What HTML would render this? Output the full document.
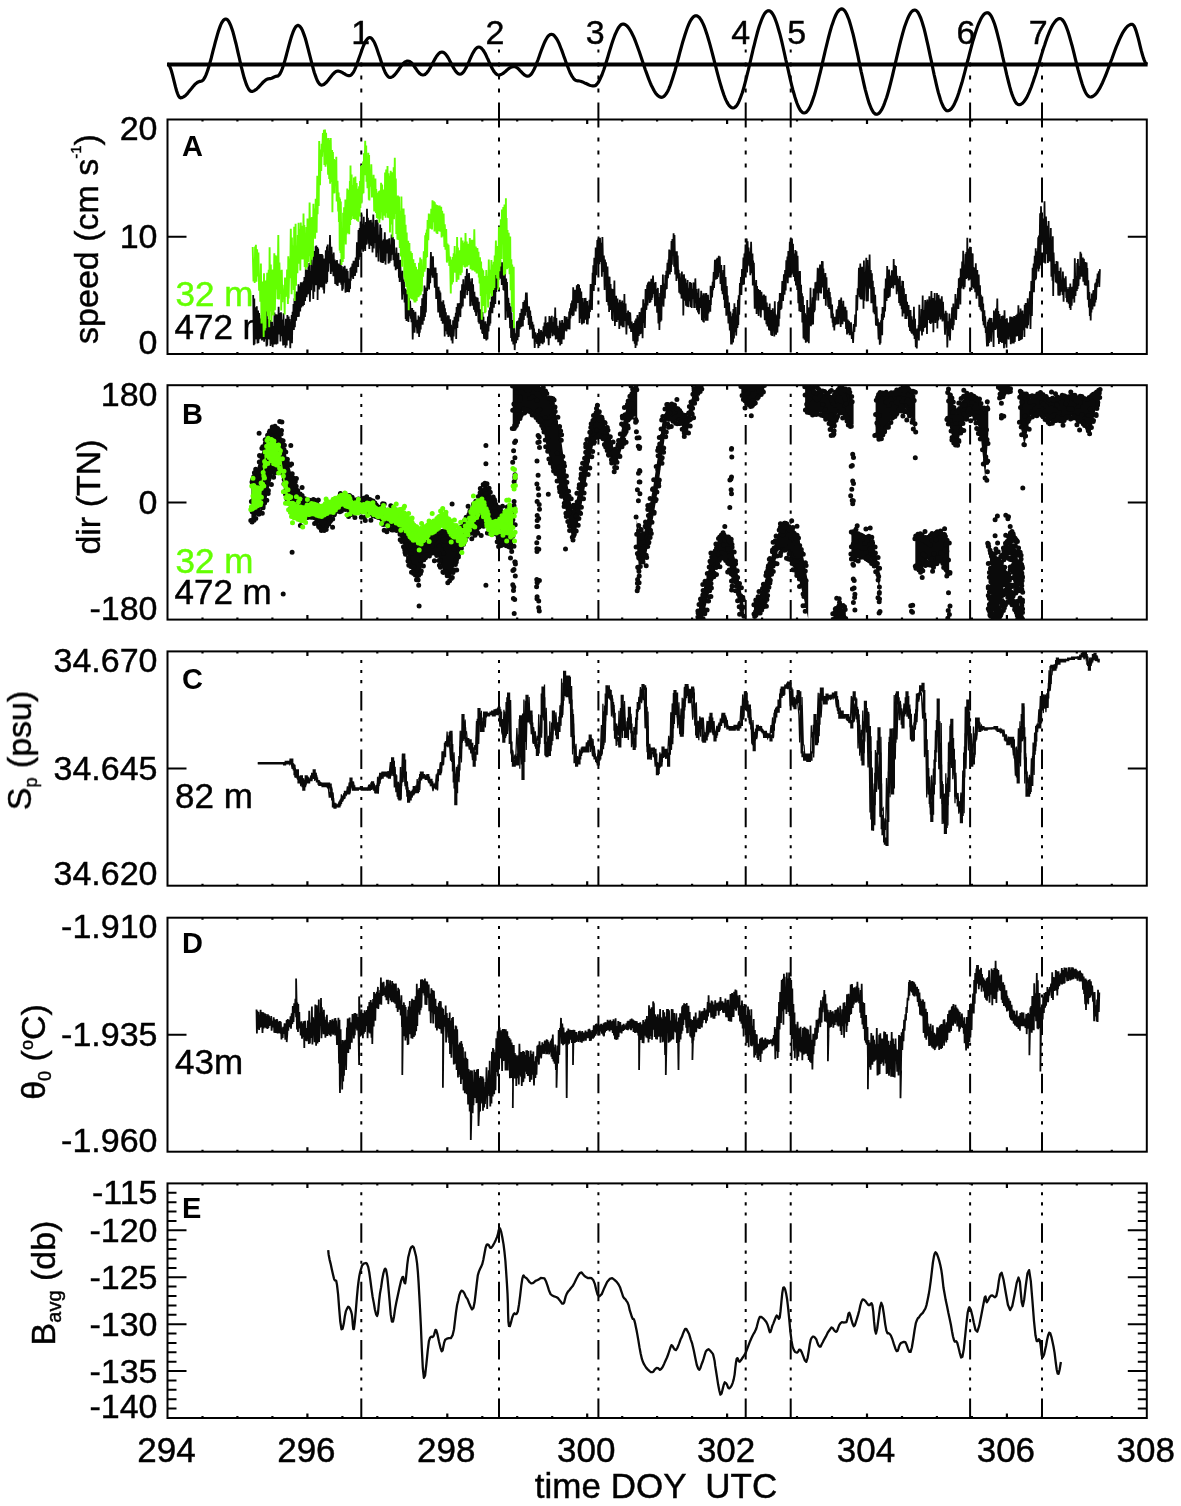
<!DOCTYPE html><html><head><meta charset="utf-8"><style>html,body{margin:0;padding:0;background:#fff;}svg{display:block;}</style></head><body>
<svg width="1181" height="1506" viewBox="0 0 1181 1506" font-family='"Liberation Sans", sans-serif' fill="#000">
<rect width="100%" height="100%" fill="#fff"/>
<g opacity="0.999">
<polyline points="167.5,64 168.5,64.5 169.5,65.9 170.5,68.3 171.5,71.3 172.5,74.9 173.5,78.9 174.5,82.9 175.5,86.9 176.5,90.5 177.5,93.5 178.5,95.9 179.5,97.3 180.5,97.8 181.5,97.7 182.5,97.4 183.5,96.9 184.6,96.2 185.6,95.4 186.6,94.4 187.6,93.3 188.6,92.1 189.6,90.8 190.7,89.5 191.7,88.3 192.7,87 193.7,85.8 194.7,84.7 195.7,83.7 196.7,82.9 197.8,82.2 198.8,81.7 199.8,81.4 200.8,81.3 201.8,81 202.9,80.2 203.9,78.9 205,77.1 206,74.9 207,72.2 208.1,69.1 209.1,65.7 210.1,62.1 211.2,58.2 212.2,54.2 213.2,50.2 214.3,46.1 215.3,42.1 216.4,38.2 217.4,34.6 218.4,31.2 219.5,28.1 220.5,25.4 221.5,23.2 222.6,21.4 223.6,20.1 224.7,19.3 225.7,19 226.7,19.3 227.8,20.1 228.8,21.5 229.8,23.5 230.9,25.9 231.9,28.8 233,32.1 234,35.8 235,39.8 236.1,44 237.1,48.4 238.1,52.9 239.2,57.5 240.2,62 241.2,66.4 242.3,70.6 243.3,74.6 244.3,78.3 245.4,81.6 246.4,84.5 247.5,86.9 248.5,88.9 249.5,90.3 250.6,91.1 251.6,91.4 252.6,91.3 253.7,91 254.7,90.4 255.8,89.7 256.8,88.9 257.9,87.9 258.9,86.8 260,85.6 261,84.5 262.1,83.3 263.1,82.2 264.2,81.2 265.2,80.4 266.3,79.7 267.3,79.1 268.4,78.8 269.4,78.7 270.5,78.6 271.6,78.2 272.7,77.7 273.7,77.2 274.8,76.7 275.9,76.3 277,76.2 278,75.9 279,75.1 280,73.7 281,71.8 282,69.4 283,66.6 284,63.5 285,60.1 286,56.5 287,52.7 288,48.9 289,45.1 290,41.5 291,38.1 292,35 293,32.2 294,29.8 295,27.9 296,26.5 297,25.7 298,25.4 299,25.7 300,26.5 301.1,27.9 302.1,29.7 303.1,32.1 304.1,34.9 305.2,38 306.2,41.5 307.2,45.3 308.2,49.2 309.2,53.2 310.3,57.3 311.3,61.3 312.3,65.2 313.3,69 314.3,72.5 315.4,75.6 316.4,78.4 317.4,80.8 318.4,82.6 319.5,84 320.5,84.8 321.5,85.1 322.5,85 323.6,84.6 324.6,83.9 325.6,83 326.7,82 327.7,80.8 328.7,79.5 329.8,78.1 330.8,76.7 331.8,75.4 332.8,74.2 333.9,73.2 334.9,72.3 335.9,71.6 337,71.2 338,71.1 339,71.2 340.1,71.5 341.1,71.9 342.1,72.4 343.2,73.1 344.2,73.7 345.3,74.4 346.3,74.9 347.3,75.3 348.4,75.6 349.4,75.7 350.4,75.5 351.4,74.8 352.4,73.6 353.5,72.1 354.5,70.1 355.5,67.8 356.5,65.3 357.5,62.5 358.5,59.6 359.5,56.7 360.6,53.7 361.6,50.8 362.6,48 363.6,45.5 364.6,43.2 365.6,41.2 366.7,39.7 367.7,38.5 368.7,37.8 369.7,37.6 370.7,37.8 371.7,38.6 372.7,39.8 373.8,41.4 374.8,43.4 375.8,45.8 376.8,48.5 377.8,51.4 378.8,54.4 379.9,57.5 380.9,60.7 381.9,63.7 382.9,66.6 383.9,69.3 384.9,71.7 385.9,73.7 387,75.3 388,76.5 389,77.3 390,77.5 391,77.4 392.1,76.9 393.1,76.3 394.2,75.3 395.2,74.2 396.3,72.9 397.3,71.5 398.4,70 399.4,68.5 400.5,67 401.5,65.6 402.6,64.3 403.6,63.2 404.7,62.2 405.7,61.6 406.8,61.1 407.8,61 408.8,61.2 409.8,61.6 410.8,62.3 411.9,63.3 412.9,64.5 413.9,65.8 414.9,67.3 415.9,68.7 416.9,70.2 417.9,71.5 418.9,72.7 420,73.7 421,74.4 422,74.8 423,75 424,74.8 425,74.4 426,73.6 427,72.6 428,71.3 429,69.8 430,68.1 431,66.3 432,64.4 433,62.6 434,60.7 435,58.9 436,57.2 437,55.7 438,54.4 439,53.4 440,52.6 441,52.2 442,52 443,52.2 444,52.7 445,53.5 446,54.6 447,56 448,57.5 449,59.3 450,61.2 451,63.1 452,65 453,66.9 454,68.7 455,70.2 456,71.6 457,72.7 458,73.5 459,74 460,74.2 461,74 462.1,73.4 463.1,72.4 464.2,71 465.2,69.3 466.3,67.4 467.3,65.3 468.4,63 469.4,60.6 470.4,58.2 471.5,55.9 472.5,53.8 473.6,51.9 474.6,50.2 475.7,48.8 476.7,47.8 477.8,47.2 478.8,47 479.8,47.2 480.9,47.8 481.9,48.7 483,50 484,51.5 485.1,53.3 486.1,55.4 487.1,57.6 488.2,59.8 489.2,62.2 490.3,64.4 491.3,66.6 492.3,68.7 493.4,70.5 494.4,72 495.5,73.3 496.5,74.2 497.6,74.8 498.6,75 499.6,74.9 500.6,74.6 501.6,74.2 502.7,73.6 503.7,72.9 504.7,72.1 505.7,71.2 506.7,70.3 507.7,69.4 508.7,68.6 509.7,67.9 510.8,67.3 511.8,66.9 512.8,66.6 513.8,66.5 514.8,66.6 515.8,67 516.8,67.6 517.8,68.3 518.8,69.2 519.8,70.3 520.8,71.3 521.8,72.4 522.8,73.5 523.8,74.4 524.8,75.1 525.8,75.7 526.8,76.1 527.8,76.2 528.8,76 529.9,75.4 530.9,74.5 531.9,73.2 532.9,71.5 534,69.5 535,67.3 536,64.9 537,62.3 538.1,59.5 539.1,56.7 540.1,53.8 541.1,51 542.2,48.2 543.2,45.6 544.2,43.2 545.2,41 546.3,39 547.3,37.3 548.3,36 549.3,35.1 550.4,34.5 551.4,34.3 552.4,34.5 553.5,35 554.5,35.9 555.5,37.2 556.6,38.7 557.6,40.6 558.7,42.7 559.7,45.1 560.7,47.7 561.8,50.4 562.8,53.2 563.8,56.1 564.9,59 565.9,61.9 566.9,64.7 568,67.4 569,70 570,72.4 571.1,74.5 572.1,76.4 573.2,77.9 574.2,79.2 575.2,80.1 576.3,80.6 577.3,80.8 578.3,80.8 579.4,81 580.4,81.2 581.4,81.5 582.5,81.9 583.5,82.4 584.5,82.9 585.5,83.3 586.6,83.8 587.6,84.3 588.6,84.8 589.7,85.2 590.7,85.5 591.7,85.7 592.8,85.9 593.8,85.9 594.8,85.7 595.8,85.2 596.8,84.3 597.8,83 598.8,81.5 599.8,79.6 600.8,77.4 601.9,75 602.9,72.3 603.9,69.5 604.9,66.4 605.9,63.3 606.9,60 607.9,56.7 608.9,53.3 609.9,50 610.9,46.7 611.9,43.6 612.9,40.5 613.9,37.7 614.9,35 616,32.6 617,30.4 618,28.5 619,27 620,25.7 621,24.8 622,24.3 623,24.1 624,24.2 625,24.6 626,25.2 627.1,26.1 628.1,27.2 629.1,28.5 630.1,30.1 631.1,31.8 632.1,33.8 633.2,35.9 634.2,38.2 635.2,40.7 636.2,43.3 637.2,46 638.2,48.8 639.3,51.7 640.3,54.7 641.3,57.7 642.3,60.7 643.3,63.7 644.3,66.7 645.3,69.7 646.4,72.6 647.4,75.4 648.4,78.1 649.4,80.7 650.4,83.2 651.4,85.5 652.5,87.6 653.5,89.6 654.5,91.3 655.5,92.9 656.5,94.2 657.5,95.3 658.6,96.2 659.6,96.8 660.6,97.2 661.6,97.3 662.6,97.1 663.6,96.6 664.6,95.7 665.6,94.5 666.7,93 667.7,91.2 668.7,89.1 669.7,86.7 670.7,84 671.7,81.1 672.7,78 673.7,74.7 674.8,71.2 675.8,67.7 676.8,64 677.8,60.3 678.8,56.5 679.8,52.7 680.8,49 681.8,45.3 682.8,41.8 683.9,38.3 684.9,35 685.9,31.9 686.9,29 687.9,26.3 688.9,23.9 689.9,21.8 690.9,20 692,18.5 693,17.3 694,16.4 695,15.9 696,15.7 697,15.9 698,16.4 699,17.2 700,18.3 701,19.8 702,21.6 703,23.6 704,25.9 705,28.5 706,31.4 707,34.4 708,37.7 709,41.1 710,44.6 711,48.3 712,52.1 713,56 714,59.9 715,63.8 716,67.7 717,71.6 718,75.4 719,79.1 720,82.6 721,86 722,89.3 723,92.3 724,95.2 725,97.8 726,100.1 727,102.1 728,103.9 729,105.4 730,106.5 731,107.3 732,107.8 733,108 734,107.8 735,107.2 736.1,106.2 737.1,104.9 738.1,103.2 739.1,101.1 740.1,98.7 741.1,96 742.2,93 743.2,89.7 744.2,86.2 745.2,82.4 746.2,78.5 747.2,74.4 748.3,70.2 749.3,65.9 750.3,61.5 751.3,57.2 752.3,52.8 753.3,48.5 754.4,44.3 755.4,40.2 756.4,36.3 757.4,32.5 758.4,29 759.4,25.7 760.5,22.7 761.5,20 762.5,17.6 763.5,15.5 764.5,13.8 765.5,12.5 766.6,11.5 767.6,10.9 768.6,10.7 769.6,10.9 770.6,11.5 771.6,12.5 772.7,14 773.7,15.8 774.7,17.9 775.7,20.5 776.7,23.3 777.7,26.5 778.7,30 779.8,33.7 780.8,37.6 781.8,41.7 782.8,46 783.8,50.5 784.8,55 785.8,59.6 786.9,64.1 787.9,68.7 788.9,73.2 789.9,77.7 790.9,82 791.9,86.1 792.9,90 794,93.7 795,97.2 796,100.4 797,103.2 798,105.8 799,107.9 800,109.7 801.1,111.2 802.1,112.2 803.1,112.8 804.1,113 805.1,112.8 806.1,112.3 807.1,111.3 808.2,110 809.2,108.4 810.2,106.4 811.2,104.1 812.2,101.4 813.2,98.5 814.3,95.3 815.3,91.9 816.3,88.2 817.3,84.4 818.3,80.4 819.3,76.2 820.4,71.9 821.4,67.6 822.4,63.2 823.4,58.7 824.4,54.3 825.4,50 826.5,45.7 827.5,41.5 828.5,37.5 829.5,33.7 830.5,30 831.5,26.6 832.6,23.4 833.6,20.5 834.6,17.8 835.6,15.5 836.6,13.5 837.6,11.9 838.7,10.6 839.7,9.6 840.7,9.1 841.7,8.9 842.7,9.1 843.7,9.8 844.8,10.9 845.8,12.5 846.8,14.4 847.8,16.8 848.9,19.5 849.9,22.7 850.9,26.1 851.9,29.8 853,33.9 854,38.1 855,42.6 856,47.2 857.1,51.9 858.1,56.7 859.1,61.6 860.1,66.5 861.1,71.3 862.2,76 863.2,80.6 864.2,85.1 865.2,89.3 866.3,93.4 867.3,97.1 868.3,100.5 869.3,103.7 870.4,106.4 871.4,108.8 872.4,110.7 873.4,112.3 874.5,113.4 875.5,114.1 876.5,114.3 877.5,114.1 878.5,113.6 879.5,112.7 880.5,111.5 881.5,109.9 882.5,108 883.5,105.8 884.5,103.3 885.5,100.5 886.6,97.5 887.6,94.2 888.6,90.7 889.6,87 890.6,83.1 891.6,79.1 892.6,75 893.6,70.7 894.6,66.5 895.6,62.2 896.6,57.8 897.6,53.6 898.6,49.3 899.6,45.2 900.6,41.2 901.6,37.3 902.6,33.6 903.6,30.1 904.6,26.8 905.7,23.8 906.7,21 907.7,18.5 908.7,16.3 909.7,14.4 910.7,12.8 911.7,11.6 912.7,10.7 913.7,10.2 914.7,10 915.7,10.2 916.8,11 917.8,12.2 918.8,13.8 919.8,16 920.9,18.5 921.9,21.4 922.9,24.8 924,28.4 925,32.4 926,36.6 927,41.1 928.1,45.8 929.1,50.6 930.1,55.5 931.2,60.4 932.2,65.3 933.2,70.2 934.2,75 935.3,79.7 936.3,84.2 937.3,88.4 938.3,92.4 939.4,96 940.4,99.4 941.4,102.3 942.5,104.8 943.5,107 944.5,108.6 945.5,109.8 946.6,110.6 947.6,110.8 948.6,110.6 949.6,110.2 950.7,109.4 951.7,108.3 952.7,106.9 953.7,105.2 954.7,103.2 955.7,101 956.8,98.5 957.8,95.7 958.8,92.8 959.8,89.6 960.8,86.3 961.9,82.8 962.9,79.1 963.9,75.4 964.9,71.6 965.9,67.7 966.9,63.7 968,59.8 969,55.8 970,51.9 971,48.1 972,44.4 973,40.7 974.1,37.2 975.1,33.9 976.1,30.7 977.1,27.8 978.1,25 979.2,22.5 980.2,20.3 981.2,18.3 982.2,16.6 983.2,15.2 984.2,14.1 985.3,13.3 986.3,12.9 987.3,12.7 988.3,12.9 989.3,13.6 990.4,14.8 991.4,16.4 992.4,18.5 993.4,20.9 994.5,23.8 995.5,27 996.5,30.5 997.5,34.4 998.5,38.4 999.6,42.7 1000.6,47.2 1001.6,51.7 1002.6,56.4 1003.7,61 1004.7,65.7 1005.7,70.2 1006.7,74.7 1007.8,79 1008.8,83 1009.8,86.9 1010.8,90.4 1011.8,93.6 1012.9,96.5 1013.9,98.9 1014.9,101 1015.9,102.6 1017,103.8 1018,104.5 1019,104.7 1020,104.6 1021,104.2 1022.1,103.5 1023.1,102.6 1024.1,101.4 1025.1,100 1026.2,98.4 1027.2,96.5 1028.2,94.4 1029.2,92.1 1030.2,89.6 1031.3,87 1032.3,84.1 1033.3,81.2 1034.3,78.1 1035.4,75 1036.4,71.7 1037.4,68.4 1038.4,65 1039.5,61.7 1040.5,58.3 1041.5,54.9 1042.5,51.6 1043.5,48.3 1044.6,45.2 1045.6,42.1 1046.6,39.2 1047.6,36.3 1048.7,33.7 1049.7,31.2 1050.7,28.9 1051.7,26.8 1052.7,24.9 1053.8,23.3 1054.8,21.9 1055.8,20.7 1056.8,19.8 1057.9,19.1 1058.9,18.7 1059.9,18.6 1060.9,18.8 1061.9,19.5 1062.9,20.5 1064,22 1065,23.9 1066,26.1 1067,28.7 1068,31.6 1069,34.8 1070,38.2 1071,41.9 1072.1,45.7 1073.1,49.6 1074.1,53.7 1075.1,57.8 1076.1,61.9 1077.1,66 1078.1,69.9 1079.2,73.7 1080.2,77.4 1081.2,80.8 1082.2,84 1083.2,86.9 1084.2,89.5 1085.2,91.7 1086.2,93.6 1087.3,95.1 1088.3,96.1 1089.3,96.8 1090.3,97 1091.3,96.9 1092.3,96.6 1093.4,96 1094.4,95.3 1095.4,94.4 1096.4,93.2 1097.4,91.9 1098.4,90.4 1099.5,88.7 1100.5,86.8 1101.5,84.8 1102.5,82.7 1103.5,80.4 1104.5,78 1105.6,75.5 1106.6,72.9 1107.6,70.3 1108.6,67.6 1109.6,64.8 1110.6,62 1111.7,59.3 1112.7,56.5 1113.7,53.7 1114.7,51 1115.7,48.4 1116.7,45.8 1117.8,43.3 1118.8,40.9 1119.8,38.6 1120.8,36.5 1121.8,34.5 1122.8,32.6 1123.9,30.9 1124.9,29.4 1125.9,28.1 1126.9,26.9 1127.9,26 1128.9,25.3 1130,24.7 1131,24.4 1132,24.3 1133,24.7 1134.1,26 1135.1,28.1 1136.1,30.9 1137.1,34.3 1138.2,38.1 1139.2,42.2 1140.2,46.3 1141.2,50.4 1142.3,54.2 1143.3,57.6 1144.3,60.4 1145.3,62.5 1146.4,63.8 1147.4,64.2" fill="none" stroke="#000" stroke-width="3.2" stroke-linejoin="round"/>
<line x1="167" y1="64.5" x2="1147.6" y2="64.5" stroke="#000" stroke-width="4"/>
<text x="351.3" y="44.3" font-size="34" stroke="#000" stroke-width="0.45">1</text>
<text x="485.5" y="44.3" font-size="34" stroke="#000" stroke-width="0.45">2</text>
<text x="585.8" y="44.3" font-size="34" stroke="#000" stroke-width="0.45">3</text>
<text x="731.3" y="44.3" font-size="34" stroke="#000" stroke-width="0.45">4</text>
<text x="787.2" y="44.3" font-size="34" stroke="#000" stroke-width="0.45">5</text>
<text x="956.6" y="44.3" font-size="34" stroke="#000" stroke-width="0.45">6</text>
<text x="1028.7" y="44.3" font-size="34" stroke="#000" stroke-width="0.45">7</text>
<g stroke="#000" stroke-width="2"><line x1="361.3" y1="352.5" x2="361.3" y2="49.5" stroke-dasharray="25 10 4 9 4 9 4 10"/><line x1="361.3" y1="619.6" x2="361.3" y2="385.2" stroke-dasharray="19.5 7.8 3.1 7 3.1 7 3.1 7.8"/><line x1="361.3" y1="885.7" x2="361.3" y2="651.4" stroke-dasharray="19.5 7.8 3.1 7 3.1 7 3.1 7.8"/><line x1="361.3" y1="1151.7" x2="361.3" y2="917.7" stroke-dasharray="19.5 7.8 3.1 7 3.1 7 3.1 7.8"/><line x1="361.3" y1="1418" x2="361.3" y2="1183.4" stroke-dasharray="19.5 7.8 3.1 7 3.1 7 3.1 7.8"/><line x1="499" y1="352.5" x2="499" y2="49.5" stroke-dasharray="25 10 4 9 4 9 4 10"/><line x1="499" y1="619.6" x2="499" y2="385.2" stroke-dasharray="19.5 7.8 3.1 7 3.1 7 3.1 7.8"/><line x1="499" y1="885.7" x2="499" y2="651.4" stroke-dasharray="19.5 7.8 3.1 7 3.1 7 3.1 7.8"/><line x1="499" y1="1151.7" x2="499" y2="917.7" stroke-dasharray="19.5 7.8 3.1 7 3.1 7 3.1 7.8"/><line x1="499" y1="1418" x2="499" y2="1183.4" stroke-dasharray="19.5 7.8 3.1 7 3.1 7 3.1 7.8"/><line x1="598.4" y1="352.5" x2="598.4" y2="49.5" stroke-dasharray="25 10 4 9 4 9 4 10"/><line x1="598.4" y1="619.6" x2="598.4" y2="385.2" stroke-dasharray="19.5 7.8 3.1 7 3.1 7 3.1 7.8"/><line x1="598.4" y1="885.7" x2="598.4" y2="651.4" stroke-dasharray="19.5 7.8 3.1 7 3.1 7 3.1 7.8"/><line x1="598.4" y1="1151.7" x2="598.4" y2="917.7" stroke-dasharray="19.5 7.8 3.1 7 3.1 7 3.1 7.8"/><line x1="598.4" y1="1418" x2="598.4" y2="1183.4" stroke-dasharray="19.5 7.8 3.1 7 3.1 7 3.1 7.8"/><line x1="745.7" y1="352.5" x2="745.7" y2="49.5" stroke-dasharray="25 10 4 9 4 9 4 10"/><line x1="745.7" y1="619.6" x2="745.7" y2="385.2" stroke-dasharray="19.5 7.8 3.1 7 3.1 7 3.1 7.8"/><line x1="745.7" y1="885.7" x2="745.7" y2="651.4" stroke-dasharray="19.5 7.8 3.1 7 3.1 7 3.1 7.8"/><line x1="745.7" y1="1151.7" x2="745.7" y2="917.7" stroke-dasharray="19.5 7.8 3.1 7 3.1 7 3.1 7.8"/><line x1="745.7" y1="1418" x2="745.7" y2="1183.4" stroke-dasharray="19.5 7.8 3.1 7 3.1 7 3.1 7.8"/><line x1="790.7" y1="352.5" x2="790.7" y2="49.5" stroke-dasharray="25 10 4 9 4 9 4 10"/><line x1="790.7" y1="619.6" x2="790.7" y2="385.2" stroke-dasharray="19.5 7.8 3.1 7 3.1 7 3.1 7.8"/><line x1="790.7" y1="885.7" x2="790.7" y2="651.4" stroke-dasharray="19.5 7.8 3.1 7 3.1 7 3.1 7.8"/><line x1="790.7" y1="1151.7" x2="790.7" y2="917.7" stroke-dasharray="19.5 7.8 3.1 7 3.1 7 3.1 7.8"/><line x1="790.7" y1="1418" x2="790.7" y2="1183.4" stroke-dasharray="19.5 7.8 3.1 7 3.1 7 3.1 7.8"/><line x1="970.1" y1="352.5" x2="970.1" y2="49.5" stroke-dasharray="25 10 4 9 4 9 4 10"/><line x1="970.1" y1="619.6" x2="970.1" y2="385.2" stroke-dasharray="19.5 7.8 3.1 7 3.1 7 3.1 7.8"/><line x1="970.1" y1="885.7" x2="970.1" y2="651.4" stroke-dasharray="19.5 7.8 3.1 7 3.1 7 3.1 7.8"/><line x1="970.1" y1="1151.7" x2="970.1" y2="917.7" stroke-dasharray="19.5 7.8 3.1 7 3.1 7 3.1 7.8"/><line x1="970.1" y1="1418" x2="970.1" y2="1183.4" stroke-dasharray="19.5 7.8 3.1 7 3.1 7 3.1 7.8"/><line x1="1042" y1="352.5" x2="1042" y2="49.5" stroke-dasharray="25 10 4 9 4 9 4 10"/><line x1="1042" y1="619.6" x2="1042" y2="385.2" stroke-dasharray="19.5 7.8 3.1 7 3.1 7 3.1 7.8"/><line x1="1042" y1="885.7" x2="1042" y2="651.4" stroke-dasharray="19.5 7.8 3.1 7 3.1 7 3.1 7.8"/><line x1="1042" y1="1151.7" x2="1042" y2="917.7" stroke-dasharray="19.5 7.8 3.1 7 3.1 7 3.1 7.8"/><line x1="1042" y1="1418" x2="1042" y2="1183.4" stroke-dasharray="19.5 7.8 3.1 7 3.1 7 3.1 7.8"/></g>
<rect x="167.5" y="119.5" width="979.3" height="234.5" fill="none" stroke="#000" stroke-width="2"/>
<path d="M202.5 119.5v2M202.5 354v-2M237.4 119.5v2M237.4 354v-2M272.4 119.5v2M272.4 354v-2M307.4 119.5v4.5M307.4 354v-4.5M342.4 119.5v2M342.4 354v-2M377.3 119.5v2M377.3 354v-2M412.3 119.5v2M412.3 354v-2M447.3 119.5v4.5M447.3 354v-4.5M482.3 119.5v2M482.3 354v-2M517.2 119.5v2M517.2 354v-2M552.2 119.5v2M552.2 354v-2M587.2 119.5v4.5M587.2 354v-4.5M622.2 119.5v2M622.2 354v-2M657.1 119.5v2M657.1 354v-2M692.1 119.5v2M692.1 354v-2M727.1 119.5v4.5M727.1 354v-4.5M762.1 119.5v2M762.1 354v-2M797 119.5v2M797 354v-2M832 119.5v2M832 354v-2M867 119.5v4.5M867 354v-4.5M902 119.5v2M902 354v-2M936.9 119.5v2M936.9 354v-2M971.9 119.5v2M971.9 354v-2M1006.9 119.5v4.5M1006.9 354v-4.5M1041.9 119.5v2M1041.9 354v-2M1076.8 119.5v2M1076.8 354v-2M1111.8 119.5v2M1111.8 354v-2" stroke="#000" stroke-width="2.2" fill="none"/>
<path d="M167.5 236.8h19M1146.8 236.8h-19" stroke="#000" stroke-width="2" fill="none"/>
<rect x="167.5" y="385.2" width="979.3" height="234.4" fill="none" stroke="#000" stroke-width="2"/>
<path d="M202.5 385.2v2M202.5 619.6v-2M237.4 385.2v2M237.4 619.6v-2M272.4 385.2v2M272.4 619.6v-2M307.4 385.2v4.5M307.4 619.6v-4.5M342.4 385.2v2M342.4 619.6v-2M377.3 385.2v2M377.3 619.6v-2M412.3 385.2v2M412.3 619.6v-2M447.3 385.2v4.5M447.3 619.6v-4.5M482.3 385.2v2M482.3 619.6v-2M517.2 385.2v2M517.2 619.6v-2M552.2 385.2v2M552.2 619.6v-2M587.2 385.2v4.5M587.2 619.6v-4.5M622.2 385.2v2M622.2 619.6v-2M657.1 385.2v2M657.1 619.6v-2M692.1 385.2v2M692.1 619.6v-2M727.1 385.2v4.5M727.1 619.6v-4.5M762.1 385.2v2M762.1 619.6v-2M797 385.2v2M797 619.6v-2M832 385.2v2M832 619.6v-2M867 385.2v4.5M867 619.6v-4.5M902 385.2v2M902 619.6v-2M936.9 385.2v2M936.9 619.6v-2M971.9 385.2v2M971.9 619.6v-2M1006.9 385.2v4.5M1006.9 619.6v-4.5M1041.9 385.2v2M1041.9 619.6v-2M1076.8 385.2v2M1076.8 619.6v-2M1111.8 385.2v2M1111.8 619.6v-2" stroke="#000" stroke-width="2.2" fill="none"/>
<path d="M167.5 502.4h19M1146.8 502.4h-19" stroke="#000" stroke-width="2" fill="none"/>
<rect x="167.5" y="651.4" width="979.3" height="234.3" fill="none" stroke="#000" stroke-width="2"/>
<path d="M202.5 651.4v2M202.5 885.7v-2M237.4 651.4v2M237.4 885.7v-2M272.4 651.4v2M272.4 885.7v-2M307.4 651.4v4.5M307.4 885.7v-4.5M342.4 651.4v2M342.4 885.7v-2M377.3 651.4v2M377.3 885.7v-2M412.3 651.4v2M412.3 885.7v-2M447.3 651.4v4.5M447.3 885.7v-4.5M482.3 651.4v2M482.3 885.7v-2M517.2 651.4v2M517.2 885.7v-2M552.2 651.4v2M552.2 885.7v-2M587.2 651.4v4.5M587.2 885.7v-4.5M622.2 651.4v2M622.2 885.7v-2M657.1 651.4v2M657.1 885.7v-2M692.1 651.4v2M692.1 885.7v-2M727.1 651.4v4.5M727.1 885.7v-4.5M762.1 651.4v2M762.1 885.7v-2M797 651.4v2M797 885.7v-2M832 651.4v2M832 885.7v-2M867 651.4v4.5M867 885.7v-4.5M902 651.4v2M902 885.7v-2M936.9 651.4v2M936.9 885.7v-2M971.9 651.4v2M971.9 885.7v-2M1006.9 651.4v4.5M1006.9 885.7v-4.5M1041.9 651.4v2M1041.9 885.7v-2M1076.8 651.4v2M1076.8 885.7v-2M1111.8 651.4v2M1111.8 885.7v-2" stroke="#000" stroke-width="2.2" fill="none"/>
<path d="M167.5 768.5h19M1146.8 768.5h-19" stroke="#000" stroke-width="2" fill="none"/>
<rect x="167.5" y="917.7" width="979.3" height="234" fill="none" stroke="#000" stroke-width="2"/>
<path d="M202.5 917.7v2M202.5 1151.7v-2M237.4 917.7v2M237.4 1151.7v-2M272.4 917.7v2M272.4 1151.7v-2M307.4 917.7v4.5M307.4 1151.7v-4.5M342.4 917.7v2M342.4 1151.7v-2M377.3 917.7v2M377.3 1151.7v-2M412.3 917.7v2M412.3 1151.7v-2M447.3 917.7v4.5M447.3 1151.7v-4.5M482.3 917.7v2M482.3 1151.7v-2M517.2 917.7v2M517.2 1151.7v-2M552.2 917.7v2M552.2 1151.7v-2M587.2 917.7v4.5M587.2 1151.7v-4.5M622.2 917.7v2M622.2 1151.7v-2M657.1 917.7v2M657.1 1151.7v-2M692.1 917.7v2M692.1 1151.7v-2M727.1 917.7v4.5M727.1 1151.7v-4.5M762.1 917.7v2M762.1 1151.7v-2M797 917.7v2M797 1151.7v-2M832 917.7v2M832 1151.7v-2M867 917.7v4.5M867 1151.7v-4.5M902 917.7v2M902 1151.7v-2M936.9 917.7v2M936.9 1151.7v-2M971.9 917.7v2M971.9 1151.7v-2M1006.9 917.7v4.5M1006.9 1151.7v-4.5M1041.9 917.7v2M1041.9 1151.7v-2M1076.8 917.7v2M1076.8 1151.7v-2M1111.8 917.7v2M1111.8 1151.7v-2" stroke="#000" stroke-width="2.2" fill="none"/>
<path d="M167.5 1034.7h19M1146.8 1034.7h-19" stroke="#000" stroke-width="2" fill="none"/>
<rect x="167.5" y="1183.4" width="979.3" height="234.6" fill="none" stroke="#000" stroke-width="2"/>
<path d="M202.5 1183.4v2M202.5 1418v-2M237.4 1183.4v2M237.4 1418v-2M272.4 1183.4v2M272.4 1418v-2M307.4 1183.4v4.5M307.4 1418v-4.5M342.4 1183.4v2M342.4 1418v-2M377.3 1183.4v2M377.3 1418v-2M412.3 1183.4v2M412.3 1418v-2M447.3 1183.4v4.5M447.3 1418v-4.5M482.3 1183.4v2M482.3 1418v-2M517.2 1183.4v2M517.2 1418v-2M552.2 1183.4v2M552.2 1418v-2M587.2 1183.4v4.5M587.2 1418v-4.5M622.2 1183.4v2M622.2 1418v-2M657.1 1183.4v2M657.1 1418v-2M692.1 1183.4v2M692.1 1418v-2M727.1 1183.4v4.5M727.1 1418v-4.5M762.1 1183.4v2M762.1 1418v-2M797 1183.4v2M797 1418v-2M832 1183.4v2M832 1418v-2M867 1183.4v4.5M867 1418v-4.5M902 1183.4v2M902 1418v-2M936.9 1183.4v2M936.9 1418v-2M971.9 1183.4v2M971.9 1418v-2M1006.9 1183.4v4.5M1006.9 1418v-4.5M1041.9 1183.4v2M1041.9 1418v-2M1076.8 1183.4v2M1076.8 1418v-2M1111.8 1183.4v2M1111.8 1418v-2" stroke="#000" stroke-width="2.2" fill="none"/>
<path d="M167.5 1192.8h9M1146.8 1192.8h-9M167.5 1202.2h9M1146.8 1202.2h-9M167.5 1211.6h9M1146.8 1211.6h-9M167.5 1220.9h9M1146.8 1220.9h-9M167.5 1230.3h19M1146.8 1230.3h-19M167.5 1239.7h9M1146.8 1239.7h-9M167.5 1249.1h9M1146.8 1249.1h-9M167.5 1258.5h9M1146.8 1258.5h-9M167.5 1267.9h9M1146.8 1267.9h-9M167.5 1277.2h19M1146.8 1277.2h-19M167.5 1286.6h9M1146.8 1286.6h-9M167.5 1296h9M1146.8 1296h-9M167.5 1305.4h9M1146.8 1305.4h-9M167.5 1314.8h9M1146.8 1314.8h-9M167.5 1324.2h19M1146.8 1324.2h-19M167.5 1333.5h9M1146.8 1333.5h-9M167.5 1342.9h9M1146.8 1342.9h-9M167.5 1352.3h9M1146.8 1352.3h-9M167.5 1361.7h9M1146.8 1361.7h-9M167.5 1371.1h19M1146.8 1371.1h-19M167.5 1380.5h9M1146.8 1380.5h-9M167.5 1389.8h9M1146.8 1389.8h-9M167.5 1399.2h9M1146.8 1399.2h-9M167.5 1408.6h9M1146.8 1408.6h-9" stroke="#000" stroke-width="2" fill="none"/>
<text x="157.5" y="139.5" font-size="34" text-anchor="end" stroke="#000" stroke-width="0.45">20</text>
<text x="157.5" y="247.5" font-size="34" text-anchor="end" stroke="#000" stroke-width="0.45">10</text>
<text x="157.5" y="354" font-size="34" text-anchor="end" stroke="#000" stroke-width="0.45">0</text>
<text x="157.5" y="405.7" font-size="34" text-anchor="end" stroke="#000" stroke-width="0.45">180</text>
<text x="157.5" y="514.3" font-size="34" text-anchor="end" stroke="#000" stroke-width="0.45">0</text>
<text x="157.5" y="620.2" font-size="34" text-anchor="end" stroke="#000" stroke-width="0.45">-180</text>
<text x="157.5" y="671.8" font-size="34" text-anchor="end" stroke="#000" stroke-width="0.45">34.670</text>
<text x="157.5" y="780.3" font-size="34" text-anchor="end" stroke="#000" stroke-width="0.45">34.645</text>
<text x="157.5" y="885.2" font-size="34" text-anchor="end" stroke="#000" stroke-width="0.45">34.620</text>
<text x="157.5" y="938.1" font-size="34" text-anchor="end" stroke="#000" stroke-width="0.45">-1.910</text>
<text x="157.5" y="1046" font-size="34" text-anchor="end" stroke="#000" stroke-width="0.45">-1.935</text>
<text x="157.5" y="1152" font-size="34" text-anchor="end" stroke="#000" stroke-width="0.45">-1.960</text>
<text x="157.5" y="1204.3" font-size="34" text-anchor="end" stroke="#000" stroke-width="0.45">-115</text>
<text x="157.5" y="1242.4" font-size="34" text-anchor="end" stroke="#000" stroke-width="0.45">-120</text>
<text x="157.5" y="1289.4" font-size="34" text-anchor="end" stroke="#000" stroke-width="0.45">-125</text>
<text x="157.5" y="1336.4" font-size="34" text-anchor="end" stroke="#000" stroke-width="0.45">-130</text>
<text x="157.5" y="1382.9" font-size="34" text-anchor="end" stroke="#000" stroke-width="0.45">-135</text>
<text x="157.5" y="1418.4" font-size="34" text-anchor="end" stroke="#000" stroke-width="0.45">-140</text>
<text x="166.5" y="1462" font-size="35" text-anchor="middle" stroke="#000" stroke-width="0.45">294</text>
<text x="306.4" y="1462" font-size="35" text-anchor="middle" stroke="#000" stroke-width="0.45">296</text>
<text x="446.3" y="1462" font-size="35" text-anchor="middle" stroke="#000" stroke-width="0.45">298</text>
<text x="586.2" y="1462" font-size="35" text-anchor="middle" stroke="#000" stroke-width="0.45">300</text>
<text x="726.1" y="1462" font-size="35" text-anchor="middle" stroke="#000" stroke-width="0.45">302</text>
<text x="866" y="1462" font-size="35" text-anchor="middle" stroke="#000" stroke-width="0.45">304</text>
<text x="1005.9" y="1462" font-size="35" text-anchor="middle" stroke="#000" stroke-width="0.45">306</text>
<text x="1145.8" y="1462" font-size="35" text-anchor="middle" stroke="#000" stroke-width="0.45">308</text>
<text x="656" y="1498" font-size="35" text-anchor="middle" xml:space="preserve" stroke="#000" stroke-width="0.45">time DOY  UTC</text>
<text x="182" y="155.6" font-size="29" font-weight="bold">A</text>
<text x="182" y="423.8" font-size="29" font-weight="bold">B</text>
<text x="182" y="688.6" font-size="29" font-weight="bold">C</text>
<text x="182" y="953.3" font-size="29" font-weight="bold">D</text>
<text x="182" y="1217.6" font-size="29" font-weight="bold">E</text>
<text transform="translate(98 239) rotate(-90)" font-size="34" text-anchor="middle" stroke="#000" stroke-width="0.45">speed (cm s<tspan font-size="15" dy="-17.5">-1</tspan><tspan dy="17.5">)</tspan></text>
<text transform="translate(99.5 497) rotate(-90)" font-size="34" text-anchor="middle" stroke="#000" stroke-width="0.45">dir (TN)</text>
<text transform="translate(31 750.5) rotate(-90)" font-size="34" text-anchor="middle" stroke="#000" stroke-width="0.45">S<tspan font-size="18" dy="6">p</tspan><tspan dy="-6"> (psu)</tspan></text>
<text transform="translate(45 1052) rotate(-90)" font-size="34" text-anchor="middle" stroke="#000" stroke-width="0.45">θ<tspan font-size="18" dy="6">0</tspan><tspan dy="-6"> (</tspan><tspan font-size="18" dy="-12">o</tspan><tspan dy="12">C)</tspan></text>
<text transform="translate(55 1283) rotate(-90)" font-size="34" text-anchor="middle" stroke="#000" stroke-width="0.45">B<tspan font-size="20" dy="6">avg</tspan><tspan dy="-6"> (db)</tspan></text>
<text x="175.5" y="306" font-size="35" fill="#64ff00" stroke="#64ff00" stroke-width="0.45">32 m</text>
<text x="174.5" y="338.5" font-size="35" stroke="#000" stroke-width="0.45">472 m</text>
<text x="175.5" y="572.5" font-size="35" fill="#64ff00" stroke="#64ff00" stroke-width="0.45">32 m</text>
<text x="174.5" y="603.5" font-size="35" stroke="#000" stroke-width="0.45">472 m</text>
<text x="175" y="808" font-size="35" stroke="#000" stroke-width="0.45">82 m</text>
<text x="175" y="1073.8" font-size="35" stroke="#000" stroke-width="0.45">43m</text>
<defs><clipPath id="cA"><rect x="167.5" y="119.5" width="979.3" height="234.5"/></clipPath><clipPath id="cB"><rect x="167.5" y="385.2" width="979.3" height="234.4"/></clipPath><clipPath id="cC"><rect x="167.5" y="651.4" width="979.3" height="234.3"/></clipPath><clipPath id="cD"><rect x="167.5" y="917.7" width="979.3" height="234"/></clipPath><clipPath id="cE"><rect x="167.5" y="1183.4" width="979.3" height="234.6"/></clipPath></defs>
<g clip-path="url(#cA)">
<polyline points="253.2,295 253.8,345.2 254.3,298.4 254.6,344.2 255.1,314.3 255.5,339.2 256.1,307.3 256.4,333.3 256.8,306.2 257.5,343.4 258.1,310.6 258.4,342.9 259.1,312.9 259.7,339.3 260.4,318.6 261,338.5 261.7,315 262,340.4 262.4,308.9 263,339.4 263.5,320.9 264.1,341.6 264.9,319.1 265.2,339.2 266,324.9 266.5,346.5 266.9,308.5 267.2,345.5 268,318.9 268.5,338.5 269.3,320.7 269.8,339.4 270.1,320.8 270.5,346 270.9,320.1 271.4,344.4 272.1,321.7 272.7,347.1 273.4,326 273.9,344.5 274.5,312.5 274.9,344.3 275.3,314.5 275.6,335.7 275.9,314.3 276.4,344.5 277.2,314.6 277.5,343.8 278,319.8 278.2,331.7 278.6,306.8 279.4,334.5 279.8,313 280.5,341.4 281,312.2 281.8,336.1 282.5,319.6 283.1,345.6 283.5,313.3 284.3,344.9 285.1,325.8 285.5,347.8 285.9,318.8 286.7,345.5 287.4,314.9 288.1,340.6 288.7,316.5 289.1,340.4 289.6,319.1 290.3,348.3 290.7,328.1 291,339.3 291.7,315 292,343.3 292.6,311.7 293.1,328.1 293.5,304 293.9,329.9 294.5,298.3 294.9,327.2 295.7,293.8 296.2,320.8 296.5,291.5 296.8,314.3 297.3,294.2 297.8,317 298.5,284.3 298.9,316.7 299.5,286.2 300.2,311.5 300.8,282.3 301.3,307.5 302.1,282.3 302.9,306.2 303.7,281.4 304,305.1 304.4,277 305.1,301.1 305.8,269.3 306.6,297.2 307.1,269.9 307.8,294.4 308.4,266.5 308.8,293.7 309.3,262.9 309.9,301.7 310.7,271.2 311.1,290.3 311.5,257.3 312.3,280 312.6,265.8 313.3,299.1 313.8,251 314.4,291.8 314.7,259.8 315.2,281.4 315.6,246.3 316,285.2 316.3,245.4 316.8,276.8 317.3,246.9 317.6,299.9 318.2,248.4 319,289.6 319.5,254 320,287.3 320.8,254.1 321.5,287.4 321.9,254.1 322.2,286.3 322.6,255.3 323.4,289.8 323.8,258.5 324.1,293.4 324.9,268.5 325.3,276.9 325.8,250.3 326.3,283.8 326.9,246.5 327.2,282.2 327.7,244.6 328.2,271.6 328.9,251.2 329.4,263.5 330,234.9 330.8,274 331.5,246.7 332.1,271.6 332.8,254.2 333.4,276.2 333.7,252.6 334.1,274.5 334.7,259.4 335.2,283.9 335.9,260.9 336.6,285.2 337,260.1 337.7,285.9 338.5,263.6 339,282.8 339.6,264.5 340,282.8 340.6,259.3 341.3,284.8 341.7,266.1 342.2,290.7 342.6,274.3 342.9,289.2 343.7,266.8 344.1,282.8 344.7,265.9 345.5,292.6 346,275.6 346.4,284.9 346.7,268.8 347.3,292 347.7,271.1 348,287.8 348.3,278.6 349.1,292.1 349.6,279.3 350.1,288.9 350.4,267.9 350.8,280.7 351.2,266.8 351.7,277.5 352.4,263.5 353.2,279 353.5,260.8 354.2,275 354.5,260.7 355.1,275.9 355.7,257.5 356.4,272.7 356.9,242.2 357.3,260.6 357.6,247.7 358.2,266.9 358.5,230 358.9,259.7 359.6,227.9 360.2,257.1 360.5,221.4 360.8,252.7 361.6,214.4 362,249.5 362.8,223.8 363.1,251.8 363.8,216.8 364.1,249.1 364.8,225.2 365.2,250.9 365.8,222 366.5,244.8 367,208.8 367.4,239.1 367.9,217.7 368.5,243.7 368.8,221.9 369.3,249.1 369.6,220.2 370.4,245.5 370.9,219.9 371.7,245.9 372,222.5 372.5,252.6 373.3,214.5 373.8,248.5 374.5,227.2 374.9,242.6 375.6,220 376.3,257.3 376.9,219.7 377.4,252.8 377.7,222.5 378.5,261.4 379,234.7 379.7,246.3 380.2,224.6 380.8,262.2 381.3,228.1 381.7,262.8 382.2,240.5 383,263 383.7,239.2 384,261.3 384.8,232.3 385.5,264.6 386.3,239.4 386.6,253.5 387.3,242.8 387.7,252.5 388.1,239.3 388.5,263.6 389.3,238.2 389.6,262.6 390.4,244.4 390.8,260.7 391.6,234.5 392.3,254.8 392.9,236.9 393.4,260.3 394,239.2 394.6,266.5 395.4,253.2 395.7,270.2 396.4,247.6 396.9,269 397.6,256.3 397.9,268.3 398.5,252.9 398.9,277.7 399.2,262.7 399.7,281.9 400.2,259.9 400.9,279.9 401.4,272.9 402.2,299.6 402.5,270.8 403.1,294.4 403.9,279.5 404.6,302.5 405.2,288.4 405.7,319 406.1,290.8 406.5,320.9 407.1,289.8 407.5,314.8 407.8,291.8 408.4,322 409,297.8 409.5,316.2 410.1,300.7 410.8,318.6 411.2,308.8 411.5,322.2 412.2,308.1 412.7,339.5 413.4,310.1 413.8,331.8 414.3,312.6 414.6,332.6 415.4,311.7 416.2,327.1 416.5,320.8 417.3,333.5 417.7,319.7 418.2,331.1 418.5,315.4 419.1,337.1 419.5,318.2 419.8,332.8 420.1,316.9 420.7,329.5 421.1,306 421.7,324.4 422.2,298.3 422.7,324.7 423.4,294 423.9,320.8 424.5,285.6 425,317.1 425.3,288.2 425.9,312.4 426.4,287.4 427.1,291 427.8,268 428.4,284.2 428.8,270.3 429.1,289.4 429.4,268.6 430.2,283.2 430.9,251.9 431.5,275.5 431.9,256.5 432.6,277.6 433,256.3 433.4,274.8 434,267.6 434.8,287.6 435.6,267.6 436.2,298.9 436.7,273 437,297.3 437.6,289.9 438.2,312.6 438.6,286.8 439.2,305.4 439.6,290.6 440,317.4 440.4,292.6 440.8,314.8 441.2,301.4 441.5,320.9 442.3,302 442.7,323.8 443.3,300.3 443.8,317.4 444.2,304.6 444.7,336.4 445,308.2 445.3,329.6 445.9,312.2 446.3,331.3 446.6,317.3 447.2,334.5 447.9,315.2 448.4,336.9 448.8,315.5 449.5,335.6 450.2,319.4 450.7,337.2 451.1,324.8 451.5,340.4 451.9,328 452.6,343.5 453.1,320.3 453.7,336.5 454.5,316.7 455.2,329.2 455.8,312.9 456.2,339.1 456.6,307.1 457.4,328 457.7,303.2 458.3,321.4 458.6,303.3 459.3,315.2 459.6,302.9 460.4,317.1 460.8,290.4 461.5,308.5 462.1,284.2 462.8,306.5 463.3,279.3 463.7,297.6 464.2,284.9 464.9,298.5 465.5,276.1 466.1,290 466.9,268.7 467.2,295.1 467.9,274.5 468.5,290.9 469,273.1 469.4,289.9 469.8,278.4 470.2,306.3 470.8,281.4 471.3,301.6 472.1,278.2 472.3,305.7 473.1,284.3 473.9,309.7 474.4,291.9 475.1,312.2 475.4,296.5 476.1,316 476.8,297.2 477.3,312.1 477.7,297.8 478.5,322.3 478.9,301.8 479.2,323.7 480.1,309.2 480.9,329.5 481.7,314.9 482.2,333.2 482.5,312.1 482.8,334 483.5,316.8 484,338.8 484.5,322.7 485,339 485.5,321.2 486.3,340.4 487,323.9 487.5,339.4 487.9,316.5 488.5,331.5 489.1,310.2 489.6,325.7 489.9,307.5 490.4,323.5 490.7,301.8 491.4,311.7 491.7,296.4 492.4,313.1 493.1,287.9 493.9,307.8 494.4,284.7 495.3,304 495.7,272.4 496.3,292 496.7,268.9 497.5,288.5 498.2,263.3 498.5,280 499.2,259.7 499.5,271.8 500.2,259.8 500.7,278.7 501.1,262.5 501.8,284.9 502.2,262.3 502.5,283.7 502.9,264.4 503.4,290 503.9,277.9 504.2,290.8 504.9,272.4 505.5,320 506.2,278.5 506.5,311.3 507,282.1 507.7,317.7 508.3,297.7 509.1,317.5 509.4,303.1 510.1,328.1 510.7,306.2 511.1,338 511.4,312.5 512,341.6 512.5,320.1 513.3,344.5 514.1,326.7 514.7,350.1 515.3,333.4 516.1,343.2 516.9,321.4 517.5,340.2 518,320.4 518.7,337.1 519.2,317.8 519.7,328.9 520.2,313 521,327.3 521.5,308.7 522.1,324.8 522.4,309.4 522.9,326.4 523.2,301.9 523.8,319.9 524.6,300.4 525.2,315.7 525.9,292.5 526.4,311.9 526.8,292.5 527.6,317.7 528.3,306.3 528.7,324.9 529.1,306.5 529.9,329.7 530.2,310.6 530.8,326.1 531.1,316.1 531.9,329.5 532.4,321.8 532.8,338.6 533.4,324.5 533.8,335.9 534.1,328.6 534.7,348 535.4,332.2 535.7,341.9 536.2,334.5 537.1,343.8 537.7,333 538.4,348.1 538.9,328.7 539.5,346 539.9,332 540.5,343.5 541,330 541.7,343.1 542,331.4 542.7,344.3 543.5,326.4 544,342.6 544.5,322.6 545.2,336.5 545.5,316.4 546.1,335.7 546.4,323.1 547.1,338.4 547.9,322.3 548.7,345.3 549.4,316 550.2,338.3 550.8,317.6 551.2,332.8 551.8,315.7 552.5,336.1 553.2,322.2 553.8,334.1 554.1,316.7 554.6,335.4 555.2,307.5 555.7,339.4 556.4,318.1 556.8,338.9 557.6,325.8 558.2,342.3 558.7,328.1 559.5,335.4 559.8,320.6 560.1,345.4 560.8,322.7 561.6,344.1 562.1,319.9 562.5,339.5 563.3,322.9 563.8,339.5 564.7,316.1 565.1,330.8 565.9,317.3 566.5,331.4 566.8,316.7 567.6,329.2 568.2,319.2 568.7,329.3 569.2,311.6 569.6,329.6 570,308.2 570.4,318.5 571.1,303.2 571.5,314.9 572.1,300.6 572.8,316.1 573.2,287.2 573.7,315.4 574.2,291.4 574.6,306.1 574.9,289.7 575.7,311.5 576,294 576.4,308.4 576.8,285.2 577.7,298.9 578,284.1 578.3,302.9 579.1,284.7 579.6,323.1 580.1,288.2 580.9,318.7 581.3,291.5 581.9,324.5 582.5,298.1 582.9,323.5 583.6,302.3 584,323.3 584.6,297.9 585.1,319.8 585.6,297.9 586.2,318.1 586.5,305.8 586.9,324.2 587.2,300.9 587.7,324.4 588.5,305.5 589.1,318.4 589.4,299.8 590,312 590.6,284 591,308.6 591.4,284.6 592,309.9 592.6,272.8 593,288 593.3,265.3 593.8,291 594.3,257.8 595.1,285.1 595.7,247.4 596.5,275.3 597.3,240 598.1,263.8 598.5,236.6 599.3,264.2 600,237.8 600.8,261.9 601.3,242.7 601.9,276.8 602.4,236.9 603.2,271.9 603.9,255.5 604.6,290 605,259.4 605.6,282.1 606,262.2 606.8,301.9 607.5,266.6 608.3,305.6 608.8,276.5 609.1,312 609.6,276.7 610,310 610.6,284 611,310 611.5,288.4 612,319.4 612.5,289.1 612.8,320.9 613.2,294 613.7,311.9 614.4,280.5 614.9,326.1 615.4,300.8 615.8,314.5 616.1,295.7 616.8,321.9 617.5,298.6 618.2,319.9 618.9,302.4 619.3,328.9 619.9,299.8 620.4,325.8 621.2,302.1 621.7,325.8 622.2,300.4 622.6,327.2 623.4,303.1 623.8,327.3 624.4,294.1 624.8,320.9 625.6,303.6 626.4,334.5 626.9,312.9 627.5,319.3 628.1,310.6 628.5,325.4 629.3,312 629.7,328.6 630.2,312.6 631.1,332 631.7,321.6 632.2,331.3 632.7,323.5 633.2,341.1 633.9,323 634.7,343.7 635.1,320.6 635.5,348 636.1,318.5 636.7,345.5 637.4,314.9 637.7,341.6 638.3,316.9 638.8,336 639.5,312.1 640.1,334.2 640.4,313.1 640.8,333.8 641.5,308.2 641.8,331.3 642.2,307.4 642.6,338.2 643.2,299.2 643.7,322.9 644.3,303.3 644.9,327.9 645.6,289.1 646.4,309.9 647.2,284.9 647.6,305.6 648,282.4 648.5,299.4 648.9,281.6 649.7,302.9 650,281.7 650.5,302.3 651.3,278.7 651.6,299.9 651.9,280.8 652.3,297.7 653,275.5 653.8,293.9 654.2,282.7 655,306.2 655.6,281.9 655.9,305.5 656.7,288.7 657.1,312.8 657.9,287.9 658.4,323.4 658.9,296.9 659.4,329.9 660.1,293 660.5,321.8 661,285 661.4,320.4 661.8,288 662.5,304.5 662.9,274.6 663.5,306.6 664.2,283.5 664.9,298.5 665.3,275.1 666,289.5 666.3,270.8 666.8,289.1 667.4,262.8 668,278.2 668.5,259.5 668.8,272 669.2,249.5 669.9,274.5 670.2,250.2 671,272 671.5,241 671.9,264.7 672.4,239.1 673.1,255.8 673.6,233.2 674.1,266.7 674.5,234.9 675.2,274.4 676,251.3 676.4,280.9 676.9,251.3 677.2,278.5 677.7,255.5 678.2,278.2 678.6,269.7 679.2,292.7 679.8,273.2 680.4,294.1 681.1,277.5 681.5,298.4 681.9,271.4 682.5,298.8 683,274.9 683.3,315.4 684,274.2 684.8,300.6 685.4,278.5 686,305.8 686.6,282.8 687.2,306.8 687.6,280 688.3,307.1 688.9,288.4 689.3,301.3 690,282 690.7,306.9 691.3,282.8 691.7,308 692.3,288.8 693.1,298.7 693.6,282.4 694.2,308 694.6,284.4 694.9,308 695.3,278.4 696.1,303.2 696.5,288.9 697,310.3 697.6,293.2 698,312.6 698.6,288.4 698.9,314.2 699.7,297.9 700.5,307.9 701.2,290.7 701.9,320.2 702.7,295.3 703.1,321.7 703.4,293.2 703.9,322.4 704.4,296.8 705,317.9 705.3,293.2 705.9,320.8 706.3,292.9 706.7,317.6 707.1,296.4 707.6,320.7 708,294.8 708.5,313.4 708.9,302.9 709.2,311.2 709.6,300.1 710.3,311.7 710.6,285.7 710.9,304.9 711.3,286.1 712.1,297.4 712.7,281.7 713,290.1 713.7,272 714.1,287.9 714.9,259.8 715.2,279.7 715.5,265.4 715.9,279.5 716.7,259 717,279.1 717.3,257.8 718,277.1 718.8,255.9 719.5,272.8 719.8,256.5 720.5,284 721.3,264.9 721.8,290.8 722.3,273 722.6,294.3 723.4,270.1 723.9,299.7 724.3,265 724.8,307.9 725.6,277.1 726.3,315.7 726.8,286.1 727.4,311.6 727.7,295.6 728.4,323.4 729.1,302.6 729.8,330.5 730.4,311.6 731.1,344.4 731.6,316.2 731.9,344.6 732.7,313.3 733.1,342.5 733.4,308.9 734,338.5 734.4,303.3 734.9,332.2 735.7,306.9 736.2,335.6 736.8,315.5 737.5,327.9 737.9,299.7 738.3,324.9 738.7,295.2 739.2,314.7 739.9,283.1 740.6,291 740.9,277 741.4,295.1 742,269 742.8,285.1 743.4,257.6 744.1,284.6 744.4,253.4 744.9,272.6 745.5,244.4 746.1,269 746.7,238.5 747.1,272.4 747.6,241.2 748.2,264.7 748.6,247.5 749.3,266.2 749.7,251.4 750.3,275.3 751.1,241.8 751.7,273.2 752.5,253.5 752.8,285.6 753.1,260.4 753.5,279.6 753.9,262.8 754.7,308.7 755.1,282.5 755.7,304.2 756.2,280.1 756.6,313.9 757.1,286 757.6,307.9 758.2,288.9 758.6,316 759,295.7 759.4,306.8 760,290 760.8,317.4 761.5,291.8 762,309.7 762.7,295.6 763.3,310.1 764,294.5 764.8,320.1 765.6,295.9 766.4,324.2 766.8,302.4 767.4,326.5 768.2,307 769,330.3 769.7,303.6 770.1,330.8 770.4,316.8 771.2,335.2 771.5,310.1 772.2,336.1 772.7,308.2 773.3,327.1 773.7,318.9 774.3,336.5 774.8,301.3 775.3,334.2 775.5,313.7 776.1,334.7 776.9,315.4 777.4,332.6 778.2,301.9 778.7,326.5 779,300.7 779.4,318.8 779.8,293.1 780.6,310.1 780.9,293.1 781.5,308.7 782.3,281.1 783.1,301 783.9,274.3 784.6,294.7 785.1,270.1 785.7,290.5 786.3,260.3 786.7,277.6 787.4,256.6 787.8,283.2 788.3,251.1 789.1,277.5 789.8,241.8 790.5,260.3 790.8,237.4 791.5,274.7 792,238.6 792.7,273.6 793,243.7 793.7,277 794.4,253.6 795,281.3 795.4,250.1 795.9,285.4 796.5,251.2 797.2,290 797.6,255.7 798.3,303.2 799,271.2 799.3,311.2 800,271 800.6,311.9 801.1,284.7 801.5,311 802,293.2 802.3,322.4 802.9,296.2 803.5,338.4 804.1,305.1 804.6,339.7 805.1,313.3 805.8,342.8 806.3,315 806.9,337.2 807.2,300.1 807.6,341.8 808.2,307.7 808.8,343.3 809.3,307.2 810.1,321.6 810.5,287.8 810.9,326.3 811.4,303.8 811.9,324.8 812.7,297.3 813.1,324.4 813.6,288.5 814.2,312.3 814.5,292.1 814.8,310.5 815.3,282.2 815.8,300.5 816.4,281.9 817,293.1 817.7,267.7 818.3,300.5 818.7,268.6 819.4,292.4 820,264.5 820.4,293.2 820.8,267.4 821.1,293.4 821.9,261 822.3,284.2 822.7,261.3 823,287.5 823.4,268.5 824,299 824.4,276.8 825.1,289.5 825.4,273 825.8,305.7 826.5,277.2 826.8,297.1 827.6,290 828.2,306.9 828.9,287.8 829.2,309.1 829.8,292.1 830.2,308.1 830.6,297.3 831.4,318.3 832.1,304.5 832.6,322.8 833,313.5 833.3,327.3 834,317.7 834.3,330.5 834.6,316.7 835.1,325.1 835.5,317.8 836.2,321.8 836.6,309.6 836.9,324.4 837.3,309.3 837.8,323.4 838.2,306.3 838.6,324.3 839.1,300.1 839.6,318.2 840.3,299.6 840.7,326.9 841.2,297.4 841.5,319 842.1,304.1 842.5,324.1 843.3,300.8 843.9,321.5 844.6,306.8 844.9,321.8 845.4,306.9 846.1,329 846.6,310.2 847,334.5 847.8,319.5 848.3,333.1 849,320.7 849.6,335.1 850,324.1 850.3,334.6 851,322.3 851.8,338.9 852.5,331.7 853.1,342.9 853.8,324.1 854.4,332 855.2,314.5 855.9,326.7 856.4,294.9 857.2,310.5 857.7,288.2 858.4,294.7 858.9,267.8 859.6,297.3 860.3,263.5 860.6,299.3 861.1,267.2 861.6,299.4 862.3,266.7 862.6,299.5 863.2,267 863.5,308.8 863.9,260.5 864.4,300.8 865,272.3 865.5,286.1 866.3,257.8 866.7,301.5 867.5,260.1 867.9,301.3 868.5,269.8 869,287.3 869.6,254.5 870.1,288.7 870.8,270.1 871.3,303.3 871.9,273.3 872.2,303.2 872.8,280.8 873.5,312.4 873.8,287.1 874.6,314.1 875.2,294.8 875.9,325.4 876.6,306.6 877.1,326 877.8,318.6 878.6,339.5 879.1,322.2 879.8,344.8 880.1,329.9 880.5,343.3 881,320.3 881.4,332.2 881.8,313.7 882.2,335.3 882.5,307.1 883,319.9 883.4,308.2 884.1,317.5 884.6,288.5 885.1,311.4 885.8,278.4 886.6,301 887.2,266.1 887.5,289 888,275.6 888.4,297.9 889.1,269.5 889.8,296.7 890.4,275.6 891.1,288 891.9,270.3 892.4,286.6 892.7,272.7 893.3,288.5 893.7,258.9 894.2,284.6 894.8,265.1 895.2,285.3 896,266.1 896.7,294.2 897.4,275.9 898.1,291.4 898.7,278.4 899.1,303.1 899.9,276.1 900.3,305.7 901.1,285.8 901.7,309.3 902.2,280.8 902.5,316.4 903.1,280.9 903.5,313.4 903.9,288.2 904.3,309.3 905.1,298.2 905.3,318.9 905.9,294 906.5,319 907.1,301.9 907.8,316.3 908.6,305 909,327.2 909.5,311.4 910,331.1 910.5,310.1 911.2,332.4 911.6,316.3 912,333.8 912.8,319.5 913.6,335.5 913.9,306.7 914.6,339 915,318.7 915.8,347.3 916.3,329.5 916.8,348.5 917.2,328.5 918,337.5 918.6,325.1 918.9,340.6 919.3,304.8 919.9,331.1 920.5,317.6 921.2,329.6 921.5,308.9 922,335.5 922.7,295.5 923.2,331.8 923.8,310 924.5,327.9 925.2,300 925.8,327.3 926.4,301.6 927,334.1 927.3,299.5 928,320 928.6,301.7 929,315.6 929.3,296.2 929.7,323.1 930.4,299.6 930.7,324.1 931.4,290.9 932.2,322.7 933,297.9 933.4,332.3 933.7,304 934.1,314.5 934.7,293 935.4,323 936,300.5 936.6,317.2 937,292.9 937.4,328.5 937.7,300.5 938.2,320.4 938.6,294.9 939.4,316.8 939.7,298.6 940.5,319.5 940.9,299.5 941.5,311.9 941.8,296.2 942.5,321.6 943,301.7 943.6,320.4 944.3,313.6 945,334.7 945.7,310.8 946.1,328.5 946.8,312.8 947.3,347.4 948.1,321.2 948.8,336.1 949.4,313.4 950,340.5 950.7,318.5 951.4,328.8 952.1,307.3 952.9,330.1 953.3,303.5 953.7,325.2 954.3,307.5 955,318.6 955.4,294.1 956.1,319.9 956.8,298.6 957.3,308.6 958,288 958.4,308.9 958.8,278.2 959.4,299.9 960,277.2 960.4,304.4 960.7,268.4 961.5,288.5 962.2,261.4 962.7,286.6 963.2,250.8 963.6,289.3 964,264.5 964.7,287.3 965.5,253.7 966.1,278.9 966.4,251.9 966.9,278.2 967.3,237.8 967.6,270.8 968.3,249 968.7,280.5 969.1,248.4 969.5,279.7 969.9,246.8 970.4,279.1 970.9,247.1 971.6,290 972,253.3 972.3,285.3 972.7,253.4 973,287.2 973.6,267 973.9,288.6 974.5,268.1 975.2,292.3 975.8,263.2 976.5,298.7 977.3,270 977.6,295.8 978,275.4 978.3,290.3 978.7,274.5 979.3,307 980,285.2 980.5,309.7 980.9,294.7 981.5,311.5 982.3,296.4 982.9,321.3 983.2,303.6 983.6,325.2 984.4,310.2 984.7,327.7 985.2,316.2 985.8,333 986.1,326.5 987,346.5 987.8,321.8 988.2,346.3 988.6,319.4 989,343.1 989.7,317.7 990,333.8 990.4,319.3 991.1,341.7 991.5,318.1 992,331.9 992.8,322.2 993.6,347 993.9,310.5 994.3,326.5 994.8,312 995.5,329.9 995.9,308.6 996.5,328.8 997.3,298.5 997.9,337.7 998.3,311 998.9,344 999.5,314.1 1000.2,341.9 1000.8,318.9 1001.2,332.5 1001.6,315.9 1002,342.9 1002.8,315.5 1003.2,341.4 1003.6,316.3 1004,348.3 1004.5,310.3 1005.3,344.3 1006,319 1006.5,347.8 1006.9,318.2 1007.6,338.6 1008.2,322.5 1008.6,339.4 1009,324.5 1009.7,336.7 1010.1,316.5 1010.8,344.2 1011.2,319.1 1011.6,338.8 1011.9,316.7 1012.7,343.5 1013.2,317.6 1013.8,343.4 1014.1,316.1 1014.8,342 1015.5,316.4 1015.8,332.9 1016.2,315 1016.6,336.4 1017.4,313.7 1017.7,336.1 1018.4,305.3 1019,341.1 1019.6,312.5 1020,340.2 1020.6,308.4 1021,339.7 1021.6,315.5 1022,339.2 1022.5,310.5 1023.2,330.1 1024,314.1 1024.4,337.1 1024.7,304.8 1025.1,323.2 1025.6,303.1 1026.2,327.7 1026.8,303 1027.2,328.5 1027.7,298.3 1028.1,325.1 1028.8,302.1 1029.3,313.2 1029.9,291.3 1030.5,328.9 1031.3,280.9 1031.9,316.1 1032.6,267.7 1033,292.1 1033.7,263.4 1034,292.2 1034.7,255.7 1035.4,280.2 1035.7,248.3 1036.1,278.7 1036.8,251.3 1037.6,268.7 1038.2,237.3 1038.5,271.6 1038.9,235.4 1039.3,268.7 1040.1,213.2 1040.5,265.6 1041,206.2 1041.7,244.8 1042,215.6 1042.8,241.7 1043.5,218.4 1044,262.8 1044.5,201.3 1045.3,263.6 1046,216.6 1046.8,254.2 1047.5,225.7 1047.9,263 1048.6,221 1049.1,261.5 1049.8,243.2 1050.2,261.6 1050.8,227.9 1051.4,276.7 1052.1,254.5 1052.5,280.7 1052.8,236.3 1053.2,295.9 1053.6,252.5 1054.3,273.8 1055,264.1 1055.7,282.4 1056.5,261 1057.1,283.5 1057.6,261.5 1058.3,295.6 1058.7,274.8 1059.1,295.7 1059.6,271 1059.9,295.4 1060.6,267.5 1061.3,291.8 1062.1,281.4 1062.6,294.9 1062.9,271.5 1063.6,301.8 1064.2,278.2 1065,291.7 1065.7,276.3 1066.3,298 1066.7,287.1 1067,302.3 1067.8,288.7 1068.6,303.6 1069.2,287 1069.8,308 1070.3,283.4 1070.6,309.9 1071.3,287.2 1071.7,305.7 1072.3,286.9 1072.9,298.7 1073.6,279 1074.3,302.6 1074.8,258.2 1075.5,296 1076.1,276.3 1076.8,291.1 1077.2,263 1077.6,288.9 1077.9,258.9 1078.5,285.9 1079,266.1 1079.8,279.3 1080.4,251.7 1080.7,275.7 1081.2,253.4 1081.7,276.8 1082,261.5 1082.3,274.3 1082.8,257.6 1083.3,281.8 1083.9,258.8 1084.7,285.3 1085.4,262.1 1086.1,285.8 1086.6,262.6 1087,284.8 1087.3,268.1 1087.8,299.8 1088.3,280.2 1088.9,307.6 1089.4,292 1089.8,316 1090.3,305.1 1090.7,320.4 1091.1,298.7 1091.4,312.6 1091.8,293.5 1092.5,309.5 1093.3,290.4 1093.6,301.8 1094,290 1094.5,306.4 1095.1,283.4 1095.4,302.5 1095.7,282.4 1096.1,299.8 1096.7,278.7 1097.1,287.2 1097.6,273.5 1098.4,282.8 1098.8,271.2 1099.3,287 1099.9,269.1" fill="none" stroke="#0a0a0a" stroke-width="1.8" stroke-linejoin="miter"/>
<polyline points="252.7,247 253.5,281.4 254,258.7 254.7,283 255.1,246.4 255.4,277.5 255.9,244.8 256.4,281.7 257.1,249.2 257.9,276.4 258.4,252.6 259.1,290.8 259.9,278.1 260.3,301.8 260.9,263.4 261.5,323.5 261.8,288.3 262.1,317.2 262.9,281.5 263.7,337 264,273.3 264.8,330.5 265.2,284 265.5,328.2 265.9,280.5 266.4,311.4 267.2,272.8 268,316.2 268.7,269.7 269.2,327.2 269.6,247.2 270.2,311.4 270.8,264.4 271.5,321.7 271.8,276.6 272.1,314.7 272.8,269.5 273.6,315.5 274.3,253.2 274.9,310.3 275.7,255.3 276.1,289.6 276.8,256.3 277.5,299.2 278.3,234.9 279,299.6 279.4,262.6 280.2,293.7 280.9,270.2 281.2,310.6 281.8,269.7 282.3,302.3 282.7,284.9 283.5,298.5 284.1,291.4 284.7,314.4 285,277.6 285.6,296.9 286.1,284.1 286.7,295.6 287.1,269.6 287.9,304 288.3,256.2 288.6,298.4 289.4,258.6 290.2,278.1 290.8,228.8 291.6,294.3 291.9,237.5 292.5,282.9 292.9,245.5 293.7,290 294.2,226.7 294.7,301.1 295.6,223.7 296,285.7 296.6,245.4 297.4,273.3 297.8,235 298.3,261.6 298.6,222.8 299.2,263.7 299.8,229.1 300.3,270.5 300.8,222.6 301.2,259.1 301.5,225.8 302,259.4 302.6,234.4 303.2,251.9 303.5,213.5 303.9,259.5 304.3,225 304.7,266.9 305.2,235.4 305.7,269.5 306.4,227.1 307,267.3 307.5,218.6 308.2,262.3 308.8,221.5 309.1,256.2 309.6,202.6 310.5,265.1 311.1,217.6 311.8,259.8 312.1,216.9 312.9,256.8 313.4,203.7 313.9,237.2 314.7,208.4 315.1,238.8 315.7,198.8 316.6,232.7 317.3,175.7 317.6,214.2 318,176.9 318.7,205.9 319.2,141.1 320,185.2 320.7,149.6 321.2,171 321.7,143.8 322.1,156.6 322.9,133.1 323.5,152 323.9,129.7 324.4,165.1 325,129.4 325.5,166.7 326.1,132.7 326.6,164.4 327.3,138.3 328.1,174.7 328.5,137.9 329.2,179 329.6,140 330.1,183.8 330.7,138 331.4,182.1 332.1,150.1 332.4,212.2 332.9,152.1 333.7,193.5 334,159 334.5,193.3 335.1,159.9 335.8,184.3 336.3,156.7 336.7,201.5 337.5,180.8 338.2,211.4 338.6,192.6 338.9,222 339.4,197.3 339.7,250.6 340,198.7 340.5,253 340.8,201.4 341.5,264.9 342.2,228.1 342.8,262 343.1,212.8 343.7,259 344.1,207.3 344.6,241.1 345.4,199.4 345.8,244.6 346.1,208.6 346.5,234.6 347.3,188.4 347.7,233.2 348.5,189.8 349.2,234.3 349.9,181.1 350.2,224.9 350.5,165.4 351,220 351.6,174.5 352,216.2 352.5,184.9 353.2,219.1 353.9,177.6 354.2,203.4 354.5,180.6 355,219.6 355.4,176.6 355.9,218.6 356.6,183 357,220.7 357.6,188.7 358.3,221.7 359.1,186.2 359.6,216.4 360,181.1 360.4,208.1 361,166 361.5,203.5 362,164.9 362.4,194.2 363.1,161.4 363.5,193.2 364,153.2 364.6,171.4 365.2,140.8 365.5,175.2 366.2,145.5 366.5,181.7 366.8,162.2 367.5,188.2 368.3,152.7 368.8,199.8 369.1,154.9 369.4,200.6 369.8,172.6 370.6,186.6 371.3,164.3 372,197.6 372.4,180.6 373,197.1 373.6,174.8 374.2,211.6 374.6,183.4 375,207.2 375.4,178.4 375.9,213.1 376.2,189 376.9,218.1 377.4,192.7 377.9,218.7 378.7,191.3 379.4,222.8 379.8,190.4 380.5,218.8 381.1,182.7 381.3,211.4 382.1,184.4 382.7,220.3 383.1,189.6 383.8,207.8 384.4,189.9 384.7,215.7 385.1,172.4 385.6,217.7 386.2,169.4 386.7,213.2 387.5,166 387.9,217.7 388.5,173.3 389.2,218.3 389.6,175.7 390,232.4 390.7,170.8 391.4,224.5 392.1,172.3 392.5,237.4 392.9,175.2 393.3,215 393.7,167.2 394,219.2 394.8,157.8 395.3,214.1 395.8,178.6 396.3,233.9 397,198.7 397.4,239.4 397.9,195.5 398.4,240 399,196.5 399.8,248 400.4,210.8 400.8,256.6 401.4,196.5 402.1,266.8 402.5,208.5 402.9,256.9 403.6,208.4 404.3,277.4 404.6,214.8 405.1,281.7 405.6,224.8 406.2,286.9 406.7,232.6 407.5,294.3 408.2,240.7 408.7,310.3 409.4,243 410.1,297.9 410.7,251.3 411.4,299.3 411.9,253 412.7,299.6 413.4,259.3 413.7,300.4 414,264.2 414.5,302.5 414.9,262.9 415.5,302.4 416,266.8 416.7,301 417.1,276.9 417.7,288.7 418,269.2 418.6,297.3 419,262.8 419.6,295.8 420.2,257.5 420.8,294.8 421.4,259.2 421.8,291.5 422.3,268.9 423.1,276.8 423.8,251.4 424.6,271.7 425.2,235.2 425.6,269.3 426,232.8 426.3,257.9 426.8,229.4 427.1,256.9 427.6,220.1 428.3,240.2 428.8,213.5 429.1,228.2 429.8,214.3 430.6,228.6 431.3,208.7 432,229.4 432.5,200.2 433.3,222.3 433.9,201.2 434.5,231.4 434.8,202.3 435.2,223.9 436,204.6 436.5,233.3 436.9,204.9 437.4,233.9 437.8,205.5 438.5,231.1 438.9,207.4 439.4,224.6 439.7,205.5 440.4,231.8 441.2,206.8 441.6,237.5 442.2,210.9 442.9,236.5 443.6,213.6 444.4,247.1 444.8,224.2 445.5,249.6 446.2,228.9 446.9,262.6 447.5,243.5 448.1,261.3 448.5,244.7 449.3,265.9 450,256.6 450.8,293.4 451.1,259.4 451.9,284.5 452.6,257.1 453,282.2 453.7,253.3 454.3,269.9 454.7,245.9 455.2,272.7 456,254.3 456.6,281.9 457.1,236.9 457.5,277 457.9,247.5 458.5,279.8 459.2,253.1 459.5,265.4 459.9,250.4 460.7,275.3 461.2,237.4 461.8,272.8 462.6,240.4 463.2,265.3 463.8,242.8 464.4,267 465,241.6 465.2,267.4 465.5,233.1 466.3,266.8 466.7,241.4 467.3,266.6 468.1,243.8 468.5,265.2 468.9,244.9 469.5,261.4 469.8,238.1 470.6,269.3 471.1,242 471.4,268.7 471.8,239.8 472.3,270.4 472.9,239.8 473.6,270.6 474.3,229.2 475.1,271.8 475.8,246.6 476.6,273.4 477.4,247.9 478,273.5 478.5,251.8 478.8,277.4 479.2,261 479.6,283.5 480,257.2 480.7,295.9 481.1,261.5 481.8,319.7 482.1,268.5 482.8,298.5 483.3,270.3 483.7,306.1 484.4,276.1 484.8,313.2 485.2,278.8 485.6,312.2 486.3,270.1 487.1,293.7 487.6,275.9 488.1,307.5 488.8,259.4 489.6,299.5 490.3,269.7 490.7,293.5 491.4,259.9 492,296.2 492.5,264.5 493.3,290.1 493.7,261.8 494.4,288 494.7,255.4 495.2,275.1 495.9,240.5 496.3,271.9 496.6,252.4 497.1,278.5 497.8,245.9 498.3,289.8 498.9,226.7 499.4,271.2 499.8,237.6 500.3,266.6 500.8,219.3 501.6,259.1 501.9,209.5 502.6,244.6 503.3,207.1 503.9,275.6 504.5,204.5 505.3,274.3 505.9,198.2 506.2,254.4 506.6,218 507,269.3 507.5,230 508.3,268.2 508.7,232.8 509.6,274.2 510.2,236.6 510.6,290.2 511.3,259.2 511.8,306.7 512.2,264.4 512.9,312.1 513.7,266.7 514,328.3" fill="none" stroke="#64ff00" stroke-width="1.9" stroke-linejoin="miter"/>
</g>
<g clip-path="url(#cB)">
<g fill="#0a0a0a"><polygon points="251.4,484.1 257.8,466.3 265.4,440.9 273,428.2 280.6,433.3 285.7,453.6 290.8,471.4 298.4,494.3 306,501.9 313.7,501.9 321.3,509.5 326.4,509.5 336.5,501.9 346.7,496.8 356.8,501.9 367,499.3 377.2,507 387.3,514.6 397.5,519.7 407.6,529.8 417.8,540 425.4,540 435.6,534.9 443.2,532.4 450.8,532.4 458.4,534.9 466.1,519.7 473.7,509.5 481.3,489.2 486.4,484.1 494,501.9 501.6,514.6 509.2,519.7 513.1,524.7 513.1,550.2 509.2,545.1 501.6,540.1 494,529.9 486.4,522.3 481.3,524.8 473.7,529.9 466.1,535 458.4,555.3 450.8,575.6 443.2,570.5 435.6,550.2 425.4,555.3 417.8,580.7 407.6,555.3 397.5,529.9 387.3,524.8 377.2,514.7 367,509.6 356.8,509.6 346.7,507 336.5,509.6 326.4,527.4 321.3,529.9 313.7,514.7 306,514.7 298.4,517.2 290.8,504.5 285.7,491.8 280.6,461.3 273,474 265.4,499.4 257.8,514.7 251.4,519.7"/><polygon points="512.7,387.6 517.8,387.6 522.9,387.6 527.9,387.6 533,387.6 538.1,390.1 543.2,390.1 547,395.2 550.8,400.3 555.9,413 561,438.4 564.8,466.3 568.6,491.7 572.4,509.5 576.2,501.9 578.7,489.2 582.6,466.3 586.4,446 590.2,428.2 594,415.5 597.8,415.5 601.6,420.6 605.4,425.7 609.2,433.3 613,446 615.6,453.6 619.4,440.9 624.5,415.5 629.5,397.7 633.4,390.1 637.2,390.1 637.2,423.2 633.4,410.5 629.5,418.1 624.5,438.5 619.4,456.2 615.6,466.4 613,463.9 609.2,453.7 605.4,446.1 601.6,435.9 597.8,433.4 594,441 590.2,458.8 586.4,479.1 582.6,499.4 578.7,519.7 576.2,529.9 572.4,540.1 568.6,519.7 564.8,507 561,491.8 555.9,474 550.8,461.3 547,448.6 543.2,428.3 538.1,418.1 533,413.1 527.9,408 522.9,410.5 517.8,420.7 512.7,428.3"/><polygon points="636.7,519.7 639.2,534.9 642.2,540 646.1,524.7 649.9,504.4 653.7,484.1 657.5,458.7 662.6,420.6 667.6,405.4 671.5,405.4 675.3,407.9 680.3,413 684.2,418.1 688,415.5 693,392.7 698.1,387.6 701.9,387.6 701.9,387.7 698.1,392.7 693,408 688,430.8 684.2,430.8 680.3,423.2 675.3,420.7 671.5,418.1 667.6,415.6 662.6,453.7 657.5,491.8 653.7,514.7 649.9,535 646.1,555.3 642.2,560.4 639.2,570.5 636.7,545.1"/><polygon points="741.3,387.6 746.4,387.6 751.5,390.1 756.5,387.6 764.2,387.6 764.2,390.2 756.5,397.8 751.5,405.4 746.4,400.4 741.3,392.7"/><polygon points="698.1,611.1 703.2,590.8 708.3,570.5 713.4,555.2 718.4,540 723.5,534.9 728.6,540 732.4,547.6 736.2,565.4 740,585.7 743.8,606 743.8,616.3 740,606.1 736.2,585.8 732.4,575.6 728.6,562.9 723.5,555.3 718.4,560.4 713.4,575.6 708.3,595.9 703.2,616.3 698.1,616.3"/><polygon points="754,606 759.1,595.9 764.2,583.2 769.2,565.4 774.3,545.1 779.4,529.8 784.5,524.7 789.6,529.8 794.6,534.9 799.7,540 799.7,555.3 794.6,550.2 789.6,542.6 784.5,537.5 779.4,545.1 774.3,565.5 769.2,585.8 764.2,606.1 759.1,611.2 754,616.3"/><polygon points="805.1,388.8 811.3,388.8 820.7,391.9 827,395 831.7,401.3 836.4,391.9 842.7,388.8 848.9,391.9 853.6,401.3 853.6,424.5 848.9,424.5 842.7,408.8 836.4,415.1 831.7,433.9 827,418.2 820.7,412 811.3,412 805.1,408.8"/><polygon points="875.6,401.3 880.3,395 889.6,395 899,391.9 905.3,388.8 911.6,391.9 915.3,395 915.3,432.3 911.6,415.1 905.3,408.8 899,408.8 889.6,421.4 880.3,437 875.6,433.9"/><polygon points="947.6,391.9 952.3,401.3 957,413.8 961.7,401.3 968,395 974.2,398.2 980.5,401.3 985.2,413.8 988.3,401.3 988.3,433.9 985.2,477.8 980.5,433.9 974.2,412 968,412 961.7,427.6 957,446.4 952.3,437 947.6,418.2"/><polygon points="999.3,388.8 1005.6,388.8 1010.3,388.8 1010.3,390 1005.6,390 999.3,396.3"/><polygon points="1019.7,393.5 1024.4,395 1030.6,398.2 1040,395 1049.4,401.3 1062,398.2 1074.5,398.2 1087,399.7 1090.2,398.2 1096.4,395 1099.5,391.9 1099.5,396.3 1096.4,405.7 1090.2,433.9 1087,424.5 1074.5,415.1 1062,418.2 1049.4,421.4 1040,412 1030.6,415.1 1024.4,444.9 1019.7,421.4"/><polygon points="780,526.6 786.3,526.6 792.5,532.9 798.8,545.4 803.5,557.9 808.2,583 808.2,618.7 803.5,596.8 798.8,578 792.5,565.5 786.3,546.7 780,552.9"/><polygon points="833.3,614.3 839.5,604.9 845.8,611.2 845.8,618.7 839.5,618.7 833.3,618.7"/><polygon points="851.4,532.9 858.3,536 864.6,539.1 870.9,539.1 875.6,551.7 879.6,570.5 879.6,593.7 875.6,565.5 870.9,559.2 864.6,556.1 858.3,552.9 851.4,552.9"/><polygon points="915.3,539.1 921,536 927.2,539.1 933.5,536 939.8,532.9 946,539.1 949.2,545.4 949.2,571.7 946,568.6 939.8,559.2 933.5,565.5 927.2,559.2 921,571.7 915.3,565.5"/></g>
<path d="M252 482h0M250.8 520.4h0M251.4 501.5h0M252.7 479.7h0M252.1 522.1h0M252.2 511.7h0M253.7 476.7h0M254.1 520.2h0M253.8 508.1h0M254.4 472.8h0M253.9 519h0M254.7 480.5h0M255.7 469.2h0M255.8 518.4h0M256.5 481.2h0M259.3 462.1h0M258.9 514.3h0M258.4 513.2h0M259.5 455.4h0M260.1 511.7h0M260.5 456.3h0M261.9 448.2h0M263.1 507.8h0M262.3 513.3h0M262.3 455.8h0M262.8 446.7h0M263.2 505.8h0M263.3 489.4h0M265.3 443.5h0M264.6 502.9h0M264.5 496.7h0M265.2 439.7h0M266.8 500.3h0M266 470.9h0M267.6 435.3h0M268.2 493.6h0M267.9 492.6h0M269.3 432.3h0M268.4 490.6h0M268.8 442.8h0M269.8 431h0M271.4 484.5h0M270.6 455.4h0M272.3 427h0M273.6 477.2h0M272.7 436.6h0M275 426.3h0M274.8 472.9h0M274.1 431.3h0M275.4 429.7h0M276.6 470.8h0M276.2 460.5h0M277.8 429h0M277.5 469.1h0M276.9 451.1h0M277.6 428.5h0M278.4 467.3h0M277.7 466.7h0M278.9 431.8h0M280.1 464.1h0M279.7 421.6h0M279.7 451.1h0M281.1 434h0M282.4 468.9h0M281.5 430.6h0M281.5 460.1h0M281.8 440.5h0M282.9 473.9h0M282.5 473.2h0M283.1 440.8h0M284.2 479.6h0M283.2 469.1h0M284.4 445.2h0M284 484h0M284 449.4h0M285.8 452.1h0M285.4 493.9h0M285.9 490.1h0M287.4 459.2h0M286.8 498.8h0M287.3 461.9h0M287.7 463.5h0M288.6 499.4h0M288.6 491.8h0M290.2 465.3h0M289.9 503.1h0M289.7 478.7h0M292.2 473.7h0M290.8 508.2h0M291.6 463.9h0M291.6 495.3h0M293.4 477.9h0M294.2 509.9h0M293.4 493.8h0M295.3 481.8h0M295 513.5h0M295.1 493.6h0M296.2 486.3h0M297.3 516.6h0M296.4 478.4h0M296.4 499.4h0M297.7 490.5h0M297 516.8h0M297.9 503.6h0M298.2 494.6h0M299.7 519.3h0M299.1 514h0M300.2 494h0M301 516.9h0M300.4 525.6h0M300.4 518.7h0M302.1 495.4h0M301.3 516.8h0M302.1 487.6h0M302.1 506.4h0M304.9 498.8h0M303.3 516.5h0M304.1 516.4h0M305 499.3h0M305.5 516h0M305.8 513.9h0M307.2 499.9h0M307.6 514.8h0M306.8 501.4h0M308.3 500.8h0M307.7 517.6h0M308 502.4h0M309.4 501.6h0M309.2 516.9h0M309.2 513.3h0M309.6 500.2h0M310.9 517.2h0M310.1 503.2h0M311 501.2h0M311.1 516.2h0M311.2 515.4h0M313.4 499.6h0M313.5 516.1h0M312.5 504.2h0M314.2 500h0M313.8 516.3h0M313.4 502.5h0M315 501.5h0M313.6 517.4h0M314.6 523.6h0M314.6 504.3h0M316.6 502.7h0M316 522.4h0M316.5 518.4h0M318.7 506.1h0M318.6 526.5h0M318.3 500h0M318.3 515.8h0M320.3 506.6h0M319.6 527.6h0M320.1 506.9h0M321.7 509h0M321.4 530.5h0M322.2 514.4h0M322.4 508.9h0M324 530.1h0M323 513.7h0M324.8 506.6h0M324.1 530.6h0M323.8 529.4h0M324.2 508.4h0M325.2 529.6h0M324.9 509.6h0M325.3 508h0M325.8 529h0M325.8 517.8h0M327.3 506.4h0M326.2 529.5h0M326.6 509.7h0M328.4 507.6h0M326.9 525.9h0M327.7 509.3h0M329 504.7h0M328.7 524h0M329.3 515.7h0M330.6 505.6h0M330 521.6h0M330.8 520.6h0M332.6 504.2h0M332.7 519.1h0M332.6 527.2h0M332.6 507.7h0M333.9 501.2h0M334.3 514.9h0M333.8 506.3h0M335.3 502.3h0M334.5 514.6h0M334.7 507.4h0M336.3 499.8h0M336.6 510.3h0M336.6 508.2h0M338.6 500.5h0M338 511.2h0M337.9 509.2h0M338.1 498.2h0M339.9 511.8h0M339 505.5h0M340.3 498.6h0M339.6 508.8h0M340.4 493.6h0M340.4 506.2h0M342.6 498.8h0M341.4 511.1h0M342.3 498.7h0M344.2 495.8h0M343.8 508.1h0M343.7 502.7h0M345.7 497.1h0M345.2 509.6h0M344.8 507h0M346.8 496.2h0M345.9 508.5h0M346 509.1h0M347.5 496h0M346.7 507.5h0M346.7 505.2h0M348.3 497.7h0M348.9 510.4h0M348.6 516.4h0M348.6 500h0M349.5 495.5h0M350.5 508.3h0M349.6 500.2h0M350.9 499h0M352.1 509h0M351.2 514.4h0M351.2 501.4h0M351.9 499.4h0M352.7 508.5h0M352.1 497.3h0M352.3 498.6h0M352.7 509.6h0M353.1 501.6h0M355.2 500h0M354.8 510.7h0M354.9 517.4h0M354.9 506.5h0M356.5 501h0M356.5 509.9h0M355.8 502.4h0M358.5 499h0M356.6 511.5h0M357.6 500.6h0M359.1 501h0M359.1 511.7h0M359.4 506.6h0M360.4 499.4h0M361.8 509.6h0M361.3 517.3h0M361.3 512.1h0M363.7 498.2h0M361.8 509.7h0M362.7 503h0M365.1 499.9h0M365 511.8h0M364.3 517.6h0M364.3 511.3h0M365 498.5h0M364.8 510.5h0M365.3 520.6h0M365.3 498.3h0M366.7 496.8h0M366.1 509.6h0M367 509h0M369.9 499.5h0M368.6 512h0M369 508.2h0M370.7 501h0M371.6 513.9h0M370.9 520.3h0M370.9 508h0M372.7 501.3h0M371.2 513.8h0M371.8 500.5h0M373.1 501h0M372.2 513h0M372.7 503.5h0M373.9 502.9h0M373.1 515.7h0M373.4 509.6h0M374.9 502.9h0M375.8 516.5h0M375.4 516.1h0M376.2 505h0M375.9 516.2h0M376.6 514.3h0M376.8 506.1h0M377.5 515.3h0M377.6 497.3h0M377.6 509.5h0M378.7 507.2h0M378.4 517.5h0M378.4 510.9h0M379.3 507.3h0M380.2 516.9h0M379.4 509.1h0M381.5 507.6h0M381.4 518.5h0M381 513.3h0M383.3 508.6h0M382.3 520.1h0M382.6 503.7h0M382.6 519h0M385 511.2h0M383.2 524.5h0M384.2 504.1h0M384.2 530.3h0M384.2 518.9h0M385.9 511.2h0M386.1 524.6h0M385.2 514.3h0M386 512h0M386.6 524.8h0M386.9 531.7h0M386.9 521h0M388 514.6h0M388.6 527h0M388.8 527.9h0M391.6 515.5h0M391.2 529.1h0M390.8 505.8h0M390.8 523.4h0M391.4 516.6h0M392 530.1h0M391.9 515.4h0M394.8 517.3h0M393 529.9h0M394 508.1h0M394 527.4h0M395 515.8h0M395 529.5h0M395.8 519.9h0M396.9 517.8h0M396.7 530.4h0M397.7 529.8h0M400.2 520.7h0M400 534.3h0M399.2 511.4h0M399.2 524.7h0M401.3 519.7h0M400.2 539.7h0M400.4 533.8h0M402.3 522h0M401.6 541.5h0M401.8 528.2h0M404.2 524.6h0M403.5 546.7h0M403.7 519.8h0M403.7 526.4h0M404.9 525.8h0M404.7 549.7h0M404.5 540h0M405.6 525.8h0M405 552.4h0M405.5 550.5h0M405.9 527.1h0M405.5 554.3h0M406.4 552.1h0M408.2 528.9h0M408.5 557.9h0M407.9 518.7h0M407.9 531.5h0M408.2 529.9h0M408 561.1h0M408.8 565.2h0M408.8 540.8h0M408.8 529.7h0M409.3 562.6h0M409.8 540.4h0M411.2 531.9h0M410.5 565.4h0M410.5 546.1h0M412.1 533.3h0M410.7 566.4h0M411.5 572.3h0M411.5 553.6h0M413.4 534.2h0M412.9 571.8h0M413.1 524.8h0M413.1 567.8h0M414.5 533.6h0M413.6 573.4h0M413.9 566.8h0M416 535.1h0M415.3 575.1h0M415.2 539h0M416.3 536.6h0M416.5 579.7h0M417 574.6h0M418.2 538.6h0M418.1 579.9h0M418.7 585.2h0M418.7 575.3h0M419.5 537.6h0M420.5 573.6h0M420.4 533.9h0M420.4 559.9h0M421.7 537.7h0M421.3 570.9h0M421.2 551.1h0M422.5 539.5h0M423.4 565.9h0M422.5 556.8h0M425.4 539.3h0M423.9 559.7h0M424.5 555.8h0M425.9 538.4h0M425.4 556.1h0M425.5 557.7h0M426.9 538h0M427.3 554.5h0M427.3 537.1h0M428.8 536.3h0M427.9 555.2h0M428.7 531.8h0M428.7 542.9h0M430.1 535.8h0M429.4 555.9h0M430.1 540.9h0M430.9 536.3h0M431.3 553h0M431.3 530.8h0M431.3 542h0M432.3 536.3h0M432.4 553h0M432.5 546h0M434.1 532.6h0M435.3 552.2h0M434.4 560.8h0M434.4 540.6h0M435.6 534.5h0M435.7 553.5h0M436 538.1h0M438.3 531.6h0M436.8 555.6h0M437.4 526.3h0M437.4 550.1h0M438.4 533.4h0M438.9 560.4h0M439.2 546.1h0M439.6 531.8h0M439.4 565.2h0M440.3 560.5h0M441.1 531.4h0M440.4 567.3h0M441.2 549.4h0M443.4 532.4h0M442.9 572.1h0M442.7 540h0M443.6 531.1h0M443.5 572.4h0M443.6 553.2h0M445.4 532.2h0M445.6 571.6h0M444.7 524.5h0M444.7 541.2h0M447.3 529.8h0M446.5 572.8h0M446.5 534.6h0M447.9 531.7h0M447.2 575.8h0M447.8 582.8h0M447.8 534.3h0M449.4 532.1h0M449 575.2h0M449.6 580.8h0M449.6 533.5h0M451.8 530.4h0M451.2 578.5h0M450.8 534.6h0M452.2 530.8h0M453 572.5h0M452.3 577.4h0M452.3 541.9h0M454.9 533.3h0M454.6 570h0M453.9 549.3h0M456.2 531.4h0M455.4 564.4h0M456 559.6h0M455.7 534.2h0M456.3 562.1h0M456.7 570.1h0M456.7 559.2h0M458.4 531.8h0M458.4 557.1h0M458.2 535.3h0M459.5 530.6h0M458.4 555.5h0M459.2 539.7h0M461.4 526.9h0M461.4 548.2h0M461.3 540.3h0M463.6 522.6h0M463.5 544.2h0M463.4 523h0M464.4 521h0M465.4 540h0M464.8 525.2h0M466.2 517.2h0M466.7 536.4h0M466.2 534.1h0M469 514.6h0M467.3 534.7h0M468.1 506.2h0M468.1 521.7h0M469.8 512.6h0M469.2 533.4h0M469.5 515h0M470 510.9h0M470.7 533.3h0M470.5 532.6h0M471.9 509.8h0M471.8 531.3h0M471.8 538.8h0M471.8 514.3h0M473.4 508.3h0M474.2 530.8h0M473.4 504.2h0M473.4 522.4h0M475 503.1h0M474.9 529.5h0M475 535.3h0M475 528.8h0M475.8 501.2h0M477.3 528.4h0M476.5 502.3h0M478.4 496.5h0M477.1 527.5h0M477.8 533h0M477.8 514.7h0M480.1 492.7h0M479.1 527.1h0M479.9 496.2h0M480.3 488.4h0M481.5 525.2h0M481.2 535.6h0M481.2 508.9h0M483.2 484.5h0M483.6 526.3h0M483.2 522.3h0M484.3 484.9h0M485 524.8h0M484.6 513.6h0M484.9 483.3h0M485.9 525.5h0M485.6 493.8h0M487 483.7h0M487.4 523.7h0M487.4 533h0M487.4 510h0M489.1 488.3h0M488.1 525.6h0M488.8 521.2h0M490.3 492.3h0M490.3 528h0M490.3 533.8h0M490.3 492.2h0M493.2 497h0M491.7 528.7h0M492.4 518.5h0M494.4 499.5h0M494.6 531.2h0M493.9 507.6h0M494.9 501.1h0M495.9 532.4h0M495.2 530.1h0M495.7 504.3h0M496.1 534.1h0M496 524.4h0M498 506.9h0M498.1 536.3h0M497.2 541.8h0M497.2 507h0M499.5 508.8h0M498.3 538.2h0M498.6 546.6h0M498.6 534h0M500.3 509.8h0M499.1 538.8h0M499.4 535.4h0M501 511.1h0M501.9 540.7h0M501.3 545.6h0M501.3 539.1h0M502.5 515.1h0M501.9 541.8h0M502.5 506.3h0M502.5 517.5h0M505.2 515.8h0M504.9 542h0M504.3 539h0M506.4 516.6h0M505.5 545h0M506.1 538.9h0M508.2 515.5h0M506.4 545.8h0M507.2 507.1h0M507.2 527.7h0M509.2 518.5h0M509 546.7h0M509.1 533.1h0M509.8 518.8h0M510.5 547.4h0M510.5 557.9h0M510.5 523h0M511.5 522.9h0M511.7 551.6h0M512.4 534.7h0M512.5 386.1h0M512.3 428.4h0M512.7 410.2h0M514.3 384.7h0M514.2 428.4h0M513.9 404.1h0M515.1 385.4h0M515.4 426.6h0M515 404.4h0M517 386.5h0M516.4 425.3h0M516.5 381.2h0M516.5 392.4h0M517.8 387.3h0M517.6 422.2h0M518.1 410.6h0M519.2 387h0M520 418.6h0M519.7 400.2h0M520.2 387.4h0M520.2 416.4h0M520.5 377.4h0M520.5 397.3h0M521.7 385.3h0M521.1 415.5h0M521.7 414h0M524.5 387.4h0M524.4 413h0M523.7 409.1h0M525.6 385.9h0M525.2 411.9h0M525.3 388.3h0M527.4 387.2h0M526.8 409.6h0M527.2 390.5h0M528.9 385.6h0M528 410.4h0M528.8 390.4h0M529.4 387h0M529.3 410.9h0M529.8 381.6h0M529.8 398.6h0M530.6 387.4h0M530.4 412h0M530.7 386.3h0M532.7 385.6h0M532.2 415.1h0M532.6 396.5h0M534.2 385.7h0M533.2 415h0M534.1 386.2h0M534.2 387.5h0M535.1 414.9h0M534.9 386.4h0M536.9 389.1h0M536 417.4h0M536.9 400.2h0M537.9 387.6h0M538.1 420.2h0M537.7 410.8h0M539.3 389.2h0M539.5 421.7h0M539.7 409.4h0M541.6 390h0M541.7 425.5h0M540.8 419.9h0M542.5 388.3h0M543.2 428.2h0M542.6 389h0M543.3 387.6h0M544 431.9h0M543.4 393.7h0M545.5 390.9h0M545.3 439.9h0M545.1 417.6h0M546.3 393.6h0M545.7 446.7h0M546.5 422.5h0M546.8 393.4h0M547.7 451.2h0M547.6 438.3h0M549.4 398.1h0M548.9 458.9h0M549.5 424.5h0M551.3 398.2h0M550.4 463h0M550.6 421.3h0M552.2 400.9h0M553.2 467h0M552.2 415h0M552.4 403.3h0M553.7 468.3h0M553 398.7h0M553 414.8h0M555 407h0M553.6 470.9h0M554.1 400h0M554.1 412h0M555.2 411.5h0M555.8 473.6h0M555.6 422.1h0M557.9 417.3h0M557.1 481.1h0M557.3 453.3h0M559.6 426.6h0M559.3 487h0M559 467.2h0M560.7 430.9h0M559.6 488.8h0M560 488h0M561.6 434.8h0M559.8 491.7h0M560.7 435.1h0M561.3 440.3h0M561.5 496.3h0M561.6 494.9h0M562.8 456.6h0M564.3 503.2h0M563.5 470.4h0M563.9 463.1h0M564.1 506.6h0M564.5 465.9h0M566.4 475.9h0M565.9 513.3h0M566.4 498.1h0M566.9 482.3h0M566.3 516.5h0M567.3 492.8h0M568.6 491.3h0M567.8 521.5h0M568.6 498.1h0M569.1 496.3h0M569.4 525.7h0M569.6 512.8h0M571.2 498.8h0M569.6 530.6h0M570.3 507.3h0M572.6 506.4h0M573 540h0M572.3 537.2h0M573.4 505.3h0M573.7 535.7h0M574.3 534.2h0M577.1 502h0M576.2 531h0M576.1 516.1h0M576.9 493.2h0M578.2 525.2h0M577.5 510.4h0M579.3 484.7h0M578.9 518.5h0M579 488h0M580.7 478.4h0M580.6 513.4h0M580 512.8h0M581.2 473.9h0M581.4 507.2h0M581.3 468.5h0M581.3 475.5h0M582.6 463.2h0M583.5 498.8h0M583.1 480.9h0M584.6 458.3h0M584.1 493h0M583.9 468.9h0M585.8 447.1h0M585.1 484.4h0M585.7 444h0M585.7 452.3h0M586.9 439.4h0M588.2 474.5h0M587.6 460.7h0M589.8 432.2h0M589.8 467.9h0M588.8 455.6h0M591.2 423.7h0M591.8 456.7h0M590.8 427.4h0M592.9 420.4h0M592.7 451.6h0M592.3 438.4h0M593.5 415.5h0M593.8 443.2h0M593.6 420.1h0M595.1 415.3h0M593.7 442h0M594.4 442h0M596.1 412.7h0M596 437.4h0M596.5 408.5h0M596.5 430.3h0M596.7 413.5h0M596.6 436.7h0M597.4 405.2h0M597.4 414h0M600 416.4h0M598.9 434.9h0M599.3 411.7h0M599.3 419.8h0M601.8 417.3h0M600.4 436.7h0M601.2 431.5h0M602.2 419.1h0M603 438.8h0M602.3 420.3h0M604.8 422.6h0M604.4 444.4h0M604.2 428.2h0M605.1 423.1h0M605.7 446.9h0M605.6 436.5h0M607.3 427.5h0M607.2 450.5h0M607.2 446.6h0M608 430.2h0M608.4 454.8h0M608.8 455.3h0M610.3 436.8h0M611.4 459.7h0M610.5 444.4h0M613.1 442.1h0M611.7 462.9h0M612.5 452.4h0M615 449.2h0M614.7 467.5h0M614.2 471.7h0M614.2 453.9h0M615.1 449.7h0M615.4 467.7h0M615.1 455.9h0M616.5 451.9h0M616.6 467.7h0M615.9 452.8h0M618.2 444.5h0M617 462.3h0M617.9 446.1h0M618.6 440.5h0M619.9 456.6h0M619.4 443h0M620.3 434.1h0M619.6 455.9h0M620.2 440.5h0M621.6 424h0M622 446.8h0M622.3 416.3h0M622.3 443.7h0M622.5 418h0M623.9 443.6h0M623.4 425.6h0M625.1 414.8h0M623.7 439.4h0M624.4 407.4h0M624.4 434.5h0M626.5 407.3h0M625.2 432.9h0M626.1 442.3h0M626.1 431.5h0M627.4 404.4h0M628.2 428h0M627.3 415.9h0M628.2 401.1h0M627.8 425.8h0M628.1 419.9h0M629.9 396.3h0M629.3 418.6h0M630 404.1h0M631.9 393.7h0M631.3 417.3h0M631 386h0M631 415h0M633.1 390.4h0M633.1 414.6h0M632.6 404.3h0M632.7 389.2h0M634 412.2h0M633.6 407.6h0M636 387.4h0M635.7 419.5h0M635.1 389.9h0M636.8 389.7h0M635.6 422.3h0M636.4 431.7h0M636.4 421.1h0M636.1 517.1h0M636.1 546.9h0M636.7 534.2h0M638.5 530.8h0M637.7 567.2h0M638.7 525.6h0M638.7 533.8h0M639.9 534.5h0M638.9 571.2h0M639.8 536.9h0M640.9 538.2h0M640.3 566.4h0M641.2 529.4h0M641.2 559.6h0M642.1 537.7h0M643 561.9h0M642 548.7h0M643.2 533.8h0M642.7 560.5h0M643.5 547.1h0M645.9 527.2h0M645 557.3h0M645.2 526.1h0M645.5 522h0M646.7 557.5h0M646.2 565.7h0M646.2 555.2h0M648.4 515.5h0M647.7 546.6h0M647.8 505.5h0M647.8 540.8h0M647.8 509.4h0M648.9 542.3h0M648.7 542.7h0M650.4 505.1h0M650.1 537.4h0M649.7 507.1h0M650.1 498.4h0M651.3 533.4h0M650.5 530.3h0M652.9 488.8h0M652 522.3h0M652.5 489.5h0M653.7 479.7h0M654.2 512.3h0M654.1 513.2h0M656.2 466.5h0M655.5 500.7h0M656.1 499.6h0M658.1 455.8h0M656.9 491.9h0M657.7 450.6h0M657.7 469.2h0M658.4 447.7h0M658.8 485.9h0M658.6 483.3h0M659.7 443.9h0M659.3 480h0M659.3 437.5h0M659.3 455.4h0M661.1 429h0M662 463.2h0M661.4 459.1h0M661.7 420h0M662.2 457.7h0M662.2 435.9h0M662.8 416.6h0M663.7 448.1h0M663.6 452.3h0M663.6 430.7h0M665 408.9h0M666.3 431.9h0M665.7 436.8h0M665.7 416h0M666.8 404.4h0M668.4 415.8h0M667.6 424.1h0M667.6 406.3h0M668 404.6h0M668.6 418.8h0M668.5 427.2h0M668.5 414.8h0M670.8 405.3h0M669.3 419.3h0M669.9 412.8h0M671.8 403.9h0M670.9 419h0M671.3 426.4h0M671.3 405.3h0M672.9 405.9h0M673.4 419.3h0M673 421.2h0M674.5 404.9h0M675.7 423.2h0M674.9 416.9h0M677.1 408.8h0M677.1 423.8h0M676.9 399.6h0M676.9 409.1h0M677.9 408.8h0M679.1 423.4h0M678.4 415.6h0M679.6 410.4h0M680.3 423.2h0M679.7 413.2h0M680.8 412.4h0M680.1 423.4h0M680.4 422.2h0M681.6 415.3h0M682.2 429.3h0M682.3 421.8h0M682.5 415.9h0M683.8 430.3h0M683.4 414.9h0M683.3 416.6h0M684.3 433.2h0M684.3 436.6h0M684.3 432.7h0M685.4 415.6h0M686.2 432.2h0M686.2 432.2h0M688.7 412.9h0M688.5 432.9h0M687.9 432.7h0M689.4 406.6h0M690.2 426.1h0M689.6 420.1h0M691 401.9h0M690.6 419h0M690.8 410.9h0M692.9 394.3h0M691.8 413.6h0M692.2 413.9h0M694.1 390.3h0M692.6 408.2h0M693.6 417.7h0M693.6 400.9h0M694 388.5h0M694.6 403.3h0M694.9 392.7h0M696.8 387.8h0M696.9 399h0M696.4 379.8h0M696.4 397.1h0M698.1 387.1h0M697.9 393.4h0M698.4 377.1h0M698.4 389.5h0M699.6 385.3h0M700.2 391.6h0M699.8 380.5h0M699.8 387.3h0M701.1 385.7h0M701.8 389h0M700.9 386.2h0M740.9 386.6h0M742.1 395.5h0M741.3 381.4h0M741.3 386.4h0M742.3 386.8h0M743.5 394.8h0M742.6 386.7h0M744.9 387.2h0M743.4 399.5h0M744.2 396.1h0M745.2 384.6h0M745.4 398.8h0M745 408.1h0M745 400.7h0M746.3 385.6h0M747.1 400.6h0M746.5 402.9h0M747.7 386.2h0M748.3 401.9h0M747.8 393.2h0M749.7 388.9h0M749.6 404h0M749.1 404.7h0M750.3 386.7h0M750.6 406.5h0M750.6 378.2h0M750.6 405.7h0M751 389.4h0M751.6 406.2h0M751.3 415.7h0M751.3 402.9h0M752.8 388.9h0M752.6 405.2h0M752.6 401.1h0M754.4 387.1h0M754.2 403.8h0M753.8 400.4h0M754.8 386.6h0M755.3 403h0M755 386.9h0M757.1 387.6h0M757.4 398.2h0M757 386.8h0M759.6 386.7h0M758.3 397h0M758.9 391.4h0M761.2 386.5h0M761.2 394.4h0M760.2 389.5h0M761.9 386.8h0M761.4 393.6h0M761.8 390h0M764.4 385.4h0M762.4 391.3h0M763.4 392.1h0M697.9 611.1h0M697.9 617.1h0M698.1 612.9h0M699 604.5h0M700 619.1h0M699.3 612.1h0M700.5 599.1h0M701.7 618.1h0M700.9 602.7h0M703.1 590.6h0M703.1 618.7h0M702.8 584.6h0M702.8 595.1h0M703.9 584.2h0M704.8 613.8h0M704.3 595.4h0M705.7 582.1h0M705.2 609.9h0M705 581.2h0M707.3 573.5h0M707.9 601h0M707.1 610h0M707.1 585.3h0M709.2 566.9h0M709.3 596.8h0M708.6 600.9h0M708.6 575.1h0M710.9 562.7h0M709.6 590.8h0M710 582h0M710 561.2h0M711.4 587.9h0M710.9 553h0M710.9 596.4h0M710.9 579.2h0M711.7 556.9h0M711 583.6h0M711.9 577.5h0M713.6 553.5h0M713.8 576.8h0M713.5 560.1h0M715.1 551h0M714.4 573.2h0M714.7 557.6h0M715.9 544.1h0M716.1 567.4h0M716.5 574.5h0M716.5 548h0M718.5 538.6h0M717.6 563.4h0M718.1 560.6h0M719.7 536.9h0M719.3 560.5h0M719.9 566.7h0M719.9 540.9h0M721.4 535.1h0M720.9 557.9h0M721.8 552.4h0M723.1 532.7h0M723.8 558.2h0M723.6 545h0M723.9 534.8h0M725.3 559.8h0M724.8 526.5h0M724.8 554.3h0M727 537h0M725.7 560.5h0M726 556.7h0M728.4 536.9h0M727.7 563h0M727.7 572h0M727.7 548.9h0M729.4 538.8h0M729.1 563.9h0M728.7 539.2h0M729.2 541.3h0M729.3 569.9h0M729.8 555.9h0M731.1 542.1h0M731.2 573.7h0M731.2 539.3h0M731.2 555.2h0M732 544.5h0M732.6 574.9h0M732.1 585.9h0M732.1 547.2h0M734.2 552.1h0M734.5 581.6h0M733.7 578.4h0M735.5 561h0M736.3 586h0M735.6 590.8h0M735.6 563.7h0M737.2 570.8h0M738.5 594h0M737.6 600.8h0M737.6 577.6h0M739.5 583.5h0M739.2 606.8h0M739.6 614.2h0M739.6 596.2h0M741.4 587.7h0M741.7 609.3h0M740.7 595.7h0M742.8 597.2h0M741.4 613.3h0M742.4 597.6h0M743.3 599.8h0M743.9 616.3h0M743.2 607.3h0M753.9 604.8h0M754.7 616.6h0M754 625.7h0M754 614h0M756.2 602.2h0M755.9 615.2h0M755.6 611.5h0M755.8 600.1h0M756.1 614h0M756.4 607.5h0M758.1 596.8h0M758.9 613.1h0M758.5 609.4h0M759 591.4h0M760.2 613h0M759.9 599.6h0M762.5 588.4h0M761.7 609.9h0M761.8 601.4h0M763.4 584.2h0M761.8 608.7h0M762.6 602.2h0M764.3 584.8h0M763.8 606.8h0M763.5 604.5h0M765.9 575.6h0M765.3 601.5h0M765.5 588.3h0M766.4 572.5h0M766.9 599.4h0M766.4 606.3h0M766.4 590h0M767.7 570.5h0M767.6 595.6h0M767.4 585.6h0M768.1 567.8h0M767.5 590.5h0M768.4 565.7h0M770 563.5h0M768.9 587.2h0M769.3 559.2h0M769.3 582h0M769.9 558.5h0M769.9 583.1h0M770.3 580.3h0M772.5 550h0M771.6 574.3h0M772.4 551.8h0M774.1 548h0M773.3 571.4h0M773.1 542.3h0M773.1 566h0M775.3 540.7h0M774.9 563.2h0M774.9 556h0M776.1 536h0M777 556h0M777 563.7h0M777 541.6h0M779.2 529.9h0M778.1 548.3h0M778.8 544.8h0M780.3 527.5h0M781.4 545.2h0M780.8 544.7h0M783.3 526.5h0M782.9 542.6h0M782.3 539.6h0M784.4 523.3h0M783.7 541.4h0M783.6 524h0M785.4 523.6h0M785.7 539.5h0M785.1 545.6h0M785.1 523.3h0M786.7 523.7h0M786.2 540.9h0M786 538.5h0M789 526.5h0M789.1 541.8h0M788.1 535.2h0M789.2 529.9h0M790.3 544.4h0M790 535h0M791.6 531.1h0M792.4 548.5h0M791.7 520.8h0M791.7 544.8h0M792.4 530.2h0M792.8 548.9h0M792.9 527.6h0M792.9 547.9h0M794.2 533.2h0M794.5 551.1h0M794.7 542.7h0M795.6 535.2h0M795.7 554.1h0M795.7 538.2h0M797.1 535.3h0M796.3 552.9h0M797 526.3h0M797 561.4h0M797 545.8h0M798.5 538.1h0M797.9 556.6h0M798.2 548.2h0M804.8 386.7h0M805.4 410.1h0M805.1 394.9h0M807.5 387.2h0M807.3 412.3h0M806.7 404.2h0M807.2 386.6h0M808.3 411.1h0M807.8 388h0M809.2 387.9h0M809.7 412.8h0M809.7 381.9h0M809.7 398.8h0M812.2 387.5h0M812.6 415h0M811.6 387.9h0M812.8 388.2h0M813.1 413.8h0M813.5 391.7h0M815.4 387.3h0M816.1 414.6h0M815.2 397.4h0M817.4 387.8h0M816.7 413.1h0M816.6 399.8h0M819 389.6h0M817.6 413.9h0M818.5 398.7h0M819.2 390.6h0M820.5 414.6h0M820.1 395.8h0M821.2 391h0M821.3 414.7h0M821.5 415.2h0M822.6 391h0M823.4 415.8h0M822.7 404.5h0M824.6 391.5h0M824.7 416.3h0M823.8 415.7h0M826.1 393h0M825.7 419.3h0M825.4 409.5h0M827.1 393.4h0M826.2 417.8h0M826.6 415.8h0M828 396.6h0M829.1 423.4h0M828.2 395.6h0M830.9 398.1h0M830.1 429.5h0M830.2 391.4h0M830.2 417.8h0M831.6 400.6h0M831.2 435.5h0M831.4 390.4h0M831.4 414.7h0M831.3 397.4h0M832.9 435h0M832.1 419h0M833.4 397.3h0M834.1 430.8h0M833.1 435.3h0M833.1 403.3h0M834.5 394.7h0M834.4 425.7h0M833.9 434.1h0M833.9 422.7h0M835.7 392h0M836.1 420.2h0M835.5 405.4h0M836.8 391.4h0M836.7 418h0M836.4 393.1h0M838.2 389.8h0M837.5 416.6h0M837.8 405.2h0M839.7 387.8h0M840.2 413h0M839.3 407.2h0M840.9 388.9h0M840.3 411.1h0M840.5 406h0M842.2 387.4h0M842.2 412.6h0M841.4 393.1h0M842.1 388h0M843.2 410h0M842.7 418h0M842.7 388.4h0M844.5 389.5h0M845.1 414.3h0M844.4 395.5h0M845.6 389h0M845.5 416.7h0M845.2 398.9h0M847 389.8h0M846.9 417.5h0M846.1 403.8h0M847.3 390.5h0M847 421h0M847.5 417.5h0M849 389.5h0M848.3 425.1h0M848.5 423.8h0M849.8 392.2h0M850.4 425.3h0M850.5 426.6h0M851.7 396.6h0M851.3 426.3h0M852.2 401.7h0M876.3 400.2h0M874.8 435.6h0M875.6 414.5h0M877.6 397.4h0M876.8 434.8h0M876.9 423.1h0M878.3 396.2h0M878.7 436.9h0M878 425.2h0M878.6 394.4h0M878.9 439.3h0M879.3 415.5h0M880.1 392.4h0M881.4 438.7h0M881 436.8h0M882.7 393.1h0M882.7 433.3h0M882.9 434.8h0M884.7 394.3h0M884.6 431h0M884.6 431.7h0M886.2 392.3h0M886.3 427.5h0M886.1 402h0M887.4 393.8h0M888.4 427.3h0M887.8 400.9h0M889.1 394.3h0M888.3 425.3h0M888.9 405.6h0M891.2 392.8h0M890.9 422.5h0M890.7 399.3h0M891.6 394h0M892.4 418h0M892.4 412.6h0M893.7 392.7h0M894.4 416.6h0M893.9 415.7h0M896.1 393.2h0M894.9 416.4h0M895.2 394.4h0M896.7 389.9h0M896.5 414.3h0M896.3 402.2h0M896.3 392.1h0M897 413.3h0M897.2 402.8h0M898 391.8h0M898.8 410.6h0M898.1 390.9h0M899.3 390.5h0M898.8 409.7h0M899 398.6h0M900.5 389h0M900.5 409.5h0M899.9 393.5h0M901.2 389.1h0M900.9 410.7h0M900.8 405.9h0M901.4 390h0M901.4 411.1h0M902.1 406.1h0M903.7 389.1h0M903.5 410.6h0M902.9 415.9h0M902.9 408.2h0M904.8 388.9h0M904.8 411.4h0M904 394.5h0M904.1 387.5h0M905.1 411.2h0M905 390.7h0M907.6 387.8h0M906.1 411.6h0M906.8 420.1h0M906.8 401.4h0M907.4 389.2h0M908.7 413.3h0M907.9 399.8h0M909 389.6h0M909.5 415.8h0M909.4 382.8h0M909.4 403.1h0M911.2 391.2h0M911.1 415.1h0M910.9 380.8h0M910.9 405.6h0M912.9 391.2h0M912.1 422.2h0M912.8 419.7h0M915.1 392.2h0M913.3 428.9h0M914.2 400.5h0M915.4 392.3h0M915.7 431.9h0M915 423.8h0M948.5 389.1h0M946.9 419.4h0M947.6 418.3h0M947.7 392.5h0M948.3 424h0M948.6 400.9h0M950.4 395.1h0M951.1 431.1h0M950.3 420.4h0M951.7 397.9h0M952.1 437.5h0M951.9 398.1h0M953.3 401.9h0M951.9 440.1h0M952.7 412.3h0M953.9 407.5h0M953.8 443.1h0M954.7 441h0M956.8 410.7h0M955.5 444.9h0M955.9 423.4h0M957.8 411.7h0M957.6 445.3h0M957.7 441.5h0M959.6 408.5h0M958.9 441.5h0M958.8 402.9h0M958.8 440.4h0M960.4 403.5h0M960.7 433.1h0M960.8 423.2h0M961.1 398.6h0M961.4 429.5h0M961.9 405.3h0M963.6 396.2h0M962.9 423.6h0M963.8 390.3h0M963.8 430.6h0M963.8 414.1h0M964.7 397.2h0M966.2 419.2h0M965.3 404.7h0M966.6 395.6h0M966.1 417.3h0M966.8 417.3h0M966.9 393.2h0M968.7 414.8h0M967.9 411h0M969.3 395.4h0M970 413.3h0M969.1 408.7h0M971.1 394.6h0M971.2 413.9h0M970.7 420.8h0M970.7 397.4h0M971.4 395.1h0M971.7 412h0M971.8 402.5h0M973.9 396.3h0M973.3 413.9h0M973.3 396.9h0M973.5 396.5h0M974.5 415.2h0M974.4 407.8h0M976.3 397.9h0M974.9 418.4h0M975.7 405h0M975.8 399.4h0M976 422.9h0M976.7 428.6h0M976.7 408.3h0M978.9 400.2h0M978 429.2h0M978.4 433.5h0M978.4 417.1h0M979.5 399h0M981.1 434.5h0M980.3 439.1h0M980.3 406.8h0M981 403.5h0M982.5 449.8h0M981.9 431h0M984 407.9h0M983.3 464.1h0M983.6 438h0M985.5 412.1h0M985.1 478.1h0M985.1 432.1h0M987.5 408h0M986.6 461.3h0M986.5 429.8h0M987.3 401.7h0M988 443.6h0M987.8 409.1h0M998.4 387.2h0M999.6 398.1h0M999.3 386.8h0M1000.1 388.5h0M1000.5 397.2h0M1000.1 393.9h0M1001.6 386h0M1001.4 394.6h0M1001.8 395.1h0M1002.1 386.4h0M1003.9 393.4h0M1003.1 381.5h0M1003.1 390.5h0M1004.7 387.4h0M1003.4 394.7h0M1003.8 392h0M1006.5 387.8h0M1004.8 392.1h0M1005.7 387.6h0M1007.3 387.8h0M1006.1 391.6h0M1006.5 390.2h0M1008.4 388.2h0M1008.4 391.9h0M1007.5 388.5h0M1010.5 388.7h0M1010.4 391.6h0M1009.6 389h0M1020.3 391.3h0M1019.4 422.3h0M1019.7 397.3h0M1021.3 393.7h0M1021.2 427.1h0M1020.5 407.5h0M1021.2 392h0M1021.6 434.7h0M1021.9 402.1h0M1024.4 394.7h0M1024.4 444.8h0M1023.9 434.7h0M1024.8 394.1h0M1023.9 444.6h0M1024.9 416.1h0M1026.4 394.1h0M1025.6 436h0M1026.4 427.6h0M1028.6 396.4h0M1029.2 429.3h0M1028.2 421.3h0M1029.2 396.6h0M1029.2 419h0M1030 402.3h0M1032.1 395.7h0M1032.3 417.1h0M1031.8 412.1h0M1034.3 396.3h0M1033.3 415.4h0M1033.4 401.5h0M1035.8 396.5h0M1035.6 415.1h0M1035.2 408.4h0M1037.7 394.1h0M1036.8 415.8h0M1037.2 402.1h0M1038 395.4h0M1037.5 413.4h0M1038 406.3h0M1039.4 394.1h0M1040 413.7h0M1039 406.6h0M1040.5 392.6h0M1039.6 412.5h0M1040.2 397.4h0M1041 395.5h0M1041.8 415.3h0M1041.6 398.3h0M1042.9 394.5h0M1043 416.8h0M1043.2 403.9h0M1045.7 396.9h0M1045.1 419.6h0M1045.3 411.2h0M1046.1 396.6h0M1046.3 420h0M1046.1 406.3h0M1046.5 397.6h0M1047.6 419.9h0M1047.4 419.7h0M1048.7 399.8h0M1048.3 422.4h0M1048.6 409.1h0M1049.3 399.5h0M1049.7 423.7h0M1050.1 411.8h0M1051.8 399h0M1052.4 423.2h0M1051.5 391.9h0M1051.5 407.9h0M1052.4 398.2h0M1053.3 420.9h0M1052.7 409.5h0M1054.1 398.8h0M1054.6 420.6h0M1053.6 400.5h0M1054.7 398.9h0M1054.8 420.7h0M1055.5 393.8h0M1055.5 410.2h0M1057.7 398.8h0M1056.2 420.4h0M1056.8 404.8h0M1057.4 397h0M1057.2 419.6h0M1057.8 417h0M1058.8 398.6h0M1060.3 419.3h0M1059.5 412.4h0M1060 397.7h0M1060.3 418.8h0M1060.2 420.7h0M1062.2 395.3h0M1062 421.1h0M1061.4 397.6h0M1063.5 395.8h0M1062.5 418.7h0M1063 425.3h0M1063 419.1h0M1063.6 396.5h0M1064.8 418.3h0M1064.1 396.3h0M1064.6 397.1h0M1064.1 420.4h0M1064.8 397h0M1064.8 396h0M1065.8 418.3h0M1065.7 403.7h0M1066.4 397h0M1066.2 417.2h0M1067.2 400.1h0M1068 397.1h0M1069.1 417.1h0M1068.5 408.5h0M1069.3 396.7h0M1070.6 419.1h0M1069.7 409.5h0M1071.2 396.7h0M1070.4 417.7h0M1070.8 392.1h0M1070.8 397.5h0M1072.4 395.3h0M1072.9 418.1h0M1072 408.9h0M1072.7 396.7h0M1074.1 416h0M1073.6 398.5h0M1074.9 395.3h0M1075.4 418.1h0M1074.8 399.3h0M1077.1 397.7h0M1077.1 418.2h0M1076.9 424.7h0M1076.9 401.1h0M1078.2 398.4h0M1077.9 420.2h0M1078.4 406.6h0M1080.1 396.3h0M1080.1 421.3h0M1079.6 429.9h0M1079.6 418h0M1079.7 398.6h0M1081 421.6h0M1080.4 402.7h0M1081.9 396.5h0M1082.7 421.6h0M1082 414.8h0M1082.8 397.8h0M1084.1 424.4h0M1083.2 423.7h0M1084.4 398.4h0M1084.6 425.6h0M1085.3 425.5h0M1087.1 399.2h0M1087.8 428.4h0M1087.4 427.4h0M1089.1 397.6h0M1088.3 430.7h0M1088.3 415.6h0M1090.4 397.8h0M1089.6 433.8h0M1090.3 409h0M1092.3 395.2h0M1091.4 427.4h0M1091.7 395.4h0M1093.3 394.2h0M1093.2 421.6h0M1093.5 420.5h0M1094.4 394h0M1096.1 414.6h0M1095.1 396.8h0M1096.4 392.3h0M1096.9 408.4h0M1096.2 415.4h0M1096.2 398.4h0M1096.8 391.9h0M1097.6 404.9h0M1097.6 399.2h0M1098.7 390.2h0M1097.8 402.5h0M1098.5 393.7h0M1100.1 389.5h0M1099.7 397.5h0M1099.3 392.9h0M780.4 523.8h0M780.4 555.5h0M780 539.3h0M782.1 524.6h0M780.7 553h0M781.6 542.5h0M783.7 526.5h0M784.3 550.3h0M783.4 531.5h0M785.2 526.2h0M785.6 549.9h0M785.1 527h0M786 525h0M786.8 548.4h0M786.5 558.2h0M786.5 542.3h0M788.7 527.7h0M789.2 554h0M788.4 558.9h0M788.4 547.4h0M790.1 528.3h0M790.2 559.4h0M790.3 534.9h0M791.8 529.4h0M792.1 563.6h0M791.3 534.1h0M792.3 532.6h0M793 569.8h0M793.3 564.1h0M795.3 536.6h0M795.3 570.3h0M794.5 561.3h0M797 537.5h0M796.9 573.3h0M796.1 548.2h0M797.5 542.4h0M796.8 575.5h0M797.3 551.3h0M799.7 545.5h0M799.4 579.1h0M799 550.6h0M801.3 549.5h0M799.5 586.5h0M800.4 554.4h0M801.6 552.4h0M803.1 594.1h0M802.2 583.7h0M803.3 554.3h0M803.9 596.6h0M803 605.8h0M803 581.3h0M805.4 562.8h0M805.4 605.4h0M804.9 591.6h0M805.3 570.9h0M805.2 611.3h0M806.1 565.4h0M806.1 580.7h0M832.8 613.7h0M833.7 619.8h0M833.3 619.6h0M835.3 608.9h0M834.4 621h0M835.2 612.3h0M835.8 608.6h0M837.2 620.8h0M836.7 598.3h0M836.7 617.8h0M838.6 606.6h0M836.7 618.8h0M837.7 619.5h0M839.5 602.5h0M838.6 619.4h0M839.2 598.7h0M839.2 627.7h0M839.2 605.4h0M840.9 605.8h0M841.8 618.8h0M841 617.7h0M843.1 605.6h0M842.4 621h0M842.2 611.9h0M844.5 606.7h0M843.2 621.1h0M843.9 617.1h0M845.2 609.6h0M844.7 620.7h0M845.7 618.6h0M851.3 531.9h0M850.9 553.9h0M851.4 559.1h0M851.4 546.7h0M853.6 533.3h0M853.6 553.6h0M853.3 544.1h0M853.7 531.4h0M853.4 554.8h0M854.2 551.4h0M856.1 534.1h0M854.7 554.2h0M855.3 559.8h0M855.3 536.9h0M855 534.4h0M856.7 553.3h0M856 529.3h0M856 541.1h0M857.6 534.1h0M856.8 555.5h0M857.2 525.7h0M857.2 533.8h0M858.2 533.7h0M858.2 554.4h0M858.2 561h0M858.2 551.3h0M859.2 535.8h0M859.2 555.3h0M859.1 555.8h0M860.2 535.3h0M860.9 555h0M860.2 554h0M860.7 535.1h0M860.9 557.2h0M861.4 552.5h0M862.8 535.9h0M863.5 556.9h0M862.7 554.8h0M864.8 537.4h0M865.5 557.9h0M864.8 543.4h0M866.4 537.2h0M866.1 558.8h0M865.9 529h0M865.9 552.6h0M866.8 537.6h0M868.1 558.1h0M867.4 540.6h0M868.9 536.2h0M867.7 559.7h0M868.2 557.2h0M869.8 536.9h0M869.5 560.9h0M870.2 527.9h0M870.2 548.8h0M871.8 537.3h0M871.5 561.8h0M871 550.3h0M872.2 541.6h0M871.6 563.5h0M872.1 550.4h0M872.6 543.1h0M873.8 563.6h0M873.3 554.4h0M875.1 546.9h0M874.2 566h0M874.3 554.1h0M875.4 553.1h0M875.7 571.7h0M876.1 564.7h0M878.1 557.6h0M878.1 579.9h0M877.4 563.6h0M879.6 568.3h0M879.4 592.6h0M879.3 593.3h0M914.9 538.8h0M916 565.8h0M915.3 566.3h0M915.7 536.1h0M915.9 568.3h0M916.3 537.3h0M917.5 535.1h0M917.5 568.2h0M917.5 565.5h0M917.9 534.3h0M919 569.9h0M918.9 562.9h0M920.3 533.7h0M920.5 572.3h0M920.3 536.9h0M921.9 534.9h0M921.9 569.8h0M922.2 577.6h0M922.2 539.7h0M922 535.1h0M922.8 570.8h0M922.9 554h0M925.1 537.9h0M925.4 565.5h0M925 531.6h0M925 555.8h0M925.4 537.5h0M927 563.7h0M926.1 541.9h0M927.5 538.8h0M926.5 561.8h0M927.1 542.3h0M927.8 537.6h0M927.8 562.5h0M928.4 537.5h0M928.2 537.2h0M928.3 562.7h0M929.2 544.2h0M930.3 535.5h0M929.6 564.9h0M930.5 544.9h0M931.5 534.7h0M931.3 564.2h0M931.3 558.9h0M932 533.6h0M933 566.5h0M932.6 571.2h0M932.6 563.5h0M934.7 535.3h0M933.5 567.3h0M934 553.8h0M935.9 533h0M936.9 563.4h0M936 539.7h0M935.8 534.2h0M936.8 562.6h0M936.8 563.7h0M937.2 531.7h0M938.8 561.3h0M937.8 557.9h0M940.5 531h0M939.1 560.8h0M939.7 557.8h0M940.7 533.5h0M940.8 561.1h0M940.6 553.1h0M942.2 534h0M942.9 563.4h0M942.3 555h0M944.5 534.6h0M943.7 567.4h0M943.8 534.6h0M943.9 536.5h0M945.2 568.5h0M944.6 528.7h0M944.6 549.8h0M945.4 536.5h0M946.3 570h0M945.7 544.2h0M947.1 540.3h0M947.6 571.9h0M946.8 576h0M946.8 551.2h0M949.3 542.9h0M947.8 572.9h0M948.5 560h0M987.7 543.2h0M989.1 610.4h0M988.3 563.5h0M988.3 595.4h0M988.3 543.9h0M988.3 588h0M988.3 608.8h0M988.3 586.7h0M988.3 546.2h0M988.3 545.2h0M988.7 546.4h0M989.7 611.7h0M989.4 607.4h0M989.4 577.3h0M989.4 572.4h0M989.4 592h0M989.4 604.6h0M989.4 592.1h0M989.4 608.3h0M989.4 598.4h0M990 550.3h0M989.9 614.9h0M990.5 568.2h0M990.5 569.1h0M990.5 609.9h0M990.5 613.6h0M990.5 598.7h0M990.5 572h0M990.5 603.1h0M990.5 553.1h0M990.1 550.3h0M990.4 613.2h0M990.9 581.8h0M990.9 574.2h0M990.9 572.1h0M990.9 553h0M990.9 579.6h0M990.9 612.1h0M990.9 613.4h0M990.9 610.8h0M991.3 553.1h0M990.7 616.2h0M991.4 623.4h0M991.4 597.3h0M991.4 615.2h0M991.4 554.4h0M991.4 596.7h0M991.4 602.6h0M991.4 562.7h0M991.4 556.2h0M991.4 614.6h0M991.6 553.9h0M992.8 617.3h0M992.4 559.7h0M992.4 584.6h0M992.4 588.3h0M992.4 607.6h0M992.4 554.1h0M992.4 576.4h0M992.4 558.4h0M992.4 588.9h0M992.6 557.7h0M993.3 616.5h0M993 598.2h0M993 616.2h0M993 560.9h0M993 607.9h0M993 576.9h0M993 567.9h0M993 596.4h0M993 608.7h0M992.9 556.9h0M992.9 617.1h0M993.5 623.7h0M993.5 568.5h0M993.5 566.3h0M993.5 592.5h0M993.5 614.8h0M993.5 585.1h0M993.5 590.6h0M993.5 599.4h0M993.5 609.3h0M994.4 557.1h0M995.5 616.8h0M994.7 605.2h0M994.7 564.3h0M994.7 565.1h0M994.7 564.5h0M994.7 579.2h0M994.7 582.4h0M994.7 597.2h0M994.7 614.3h0M995.6 558.6h0M995.2 617.8h0M995.4 553.3h0M995.4 606h0M995.4 599.2h0M995.4 584.4h0M995.4 582.6h0M995.4 569.2h0M995.4 572.5h0M995.4 618h0M995.4 593.2h0M996.2 559.5h0M995.7 617.3h0M996.2 611.6h0M996.2 575.7h0M996.2 585.7h0M996.2 571.8h0M996.2 615.3h0M996.2 566.7h0M996.2 587.2h0M996.2 559.3h0M996.8 558.9h0M996.2 617.1h0M996.9 562.5h0M996.9 578.4h0M996.9 579.8h0M996.9 565.4h0M996.9 594.6h0M996.9 572.3h0M996.9 590.6h0M996.9 601h0M997.3 561.1h0M998.1 616.5h0M997.3 572.8h0M997.3 607.2h0M997.3 603.8h0M997.3 588.1h0M997.3 613.7h0M997.3 562.6h0M997.3 612.7h0M997.3 580.6h0M998.8 560.6h0M998.2 618.5h0M998.2 551.8h0M998.2 585.1h0M998.2 567.5h0M998.2 614.2h0M998.2 589.7h0M998.2 609.8h0M998.2 576.2h0M998.2 587.2h0M998.2 574.8h0M999.5 562.7h0M999.2 617.7h0M999 622.1h0M999 599.3h0M999 616.6h0M999 609.5h0M999 575.4h0M999 614.9h0M999 587.3h0M999 593.8h0M999 598.1h0M1000.7 562h0M999.6 614.7h0M999.9 568.8h0M999.9 596.2h0M999.9 576.9h0M999.9 616.5h0M999.9 597.7h0M999.9 581.9h0M999.9 614.7h0M999.9 566.4h0M1001.2 556.4h0M1000.8 615h0M1000.9 621.6h0M1000.9 588.3h0M1000.9 564.1h0M1000.9 611h0M1000.9 590.1h0M1000.9 592.7h0M1000.9 572.1h0M1000.9 565.7h0M1000.9 575.7h0M1000.8 556.5h0M1001.1 612.2h0M1001.4 586.1h0M1001.4 595.7h0M1001.4 573.9h0M1001.4 567.6h0M1001.4 562.8h0M1001.4 576.8h0M1001.4 577.7h0M1001.4 602.1h0M1001.6 555.5h0M1001.4 613.2h0M1001.9 572.4h0M1001.9 570.5h0M1001.9 580.9h0M1001.9 566.2h0M1001.9 600.2h0M1001.9 606h0M1001.9 595.8h0M1001.9 577.3h0M1003.9 550.6h0M1003.4 610.6h0M1003 575.2h0M1003 595.1h0M1003 568.2h0M1003 554.4h0M1003 581.4h0M1003 555.1h0M1003 578h0M1003 601.8h0M1003.4 548.1h0M1004 607.9h0M1003.9 576.4h0M1003.9 575.3h0M1003.9 570.9h0M1003.9 559.3h0M1003.9 571.3h0M1003.9 581.1h0M1003.9 559.8h0M1003.9 567.5h0M1005.6 546.4h0M1004.4 607.7h0M1004.7 552.6h0M1004.7 574.8h0M1004.7 583.6h0M1004.7 567.2h0M1004.7 590.9h0M1004.7 584.5h0M1004.7 549.4h0M1004.7 548.5h0M1005.7 544.2h0M1005 605.1h0M1005.5 576.1h0M1005.5 557.3h0M1005.5 582.4h0M1005.5 573h0M1005.5 543.2h0M1005.5 590.3h0M1005.5 593.3h0M1005.5 604.8h0M1007.1 541.6h0M1006.2 602.8h0M1006.7 548.1h0M1006.7 579.3h0M1006.7 586h0M1006.7 589.7h0M1006.7 550.4h0M1006.7 553.7h0M1006.7 581.3h0M1006.7 548.9h0M1008.6 539.9h0M1007.3 602.2h0M1007.8 580.6h0M1007.8 577.5h0M1007.8 597.4h0M1007.8 588.8h0M1007.8 581.9h0M1007.8 573.8h0M1007.8 596.2h0M1007.8 577.6h0M1008.4 536.4h0M1008.9 602.2h0M1008.7 595.5h0M1008.7 558.5h0M1008.7 549.2h0M1008.7 574.6h0M1008.7 557.8h0M1008.7 602h0M1008.7 577.2h0M1008.7 543.2h0M1008.6 536.2h0M1009.4 601.3h0M1009.4 589.8h0M1009.4 580.4h0M1009.4 552.5h0M1009.4 590.4h0M1009.4 537.2h0M1009.4 550.9h0M1009.4 537.1h0M1009.4 598.5h0M1010.9 536.1h0M1009.4 598.7h0M1010.2 526.4h0M1010.2 559.5h0M1010.2 593.5h0M1010.2 585.2h0M1010.2 567.1h0M1010.2 552.5h0M1010.2 544.3h0M1010.2 538.7h0M1010.2 570h0M1010.4 533.1h0M1010.2 599.7h0M1011 567.6h0M1011 541.1h0M1011 592.1h0M1011 546.4h0M1011 595.4h0M1011 594.5h0M1011 597.7h0M1011 551.2h0M1011.1 533.1h0M1012.4 600.1h0M1012 604.8h0M1012 595.4h0M1012 585.2h0M1012 553.2h0M1012 586.6h0M1012 531.4h0M1012 568.3h0M1012 557.6h0M1012 535.9h0M1013.4 535.4h0M1013.4 601.8h0M1013.1 595.9h0M1013.1 572.2h0M1013.1 577.8h0M1013.1 565.2h0M1013.1 558.1h0M1013.1 533.8h0M1013.1 548.3h0M1013.1 546h0M1012.7 535.7h0M1014.6 603h0M1013.6 593.9h0M1013.6 560.8h0M1013.6 594.3h0M1013.6 550.7h0M1013.6 555h0M1013.6 571.1h0M1013.6 549.7h0M1013.6 552.2h0M1015.1 538.3h0M1014.9 607h0M1014.6 578.3h0M1014.6 601.6h0M1014.6 576.5h0M1014.6 604.8h0M1014.6 570.1h0M1014.6 567.8h0M1014.6 537.9h0M1014.6 559.1h0M1014.4 538.2h0M1014.6 609.6h0M1015.4 545.7h0M1015.4 580h0M1015.4 572.7h0M1015.4 541.3h0M1015.4 559h0M1015.4 576.1h0M1015.4 568.2h0M1015.4 578.7h0M1016 539.7h0M1015.2 610h0M1015.8 583.3h0M1015.8 576.3h0M1015.8 593h0M1015.8 571.4h0M1015.8 589.9h0M1015.8 565.5h0M1015.8 578.8h0M1015.8 591.8h0M1016.9 540.7h0M1016.4 612.4h0M1016.7 568h0M1016.7 561.5h0M1016.7 586.2h0M1016.7 604.8h0M1016.7 554.4h0M1016.7 588h0M1016.7 579.3h0M1016.7 587.1h0M1017.4 541.5h0M1017.3 615.6h0M1017.6 591.1h0M1017.6 590.7h0M1017.6 568.1h0M1017.6 601.3h0M1017.6 551.6h0M1017.6 608.1h0M1017.6 578.5h0M1017.6 575.8h0M1018.6 547.9h0M1017.8 618.7h0M1018.6 562h0M1018.6 618.3h0M1018.6 584h0M1018.6 566.8h0M1018.6 572h0M1018.6 561.9h0M1018.6 563.8h0M1018.6 555.2h0M1020.2 552.3h0M1019 616.8h0M1019.7 627.4h0M1019.7 588.9h0M1019.7 618.2h0M1019.7 581.4h0M1019.7 581.1h0M1019.7 552.3h0M1019.7 590.6h0M1019.7 567.8h0M1019.7 611.2h0M1021.1 555.3h0M1020.9 617.9h0M1020.3 578.1h0M1020.3 571.8h0M1020.3 570h0M1020.3 561.5h0M1020.3 574.2h0M1020.3 575.3h0M1020.3 608.1h0M1020.3 555.2h0M1021.1 559h0M1021.5 620h0M1021.1 612.7h0M1021.1 578.1h0M1021.1 564.8h0M1021.1 568.2h0M1021.1 571.5h0M1021.1 567.1h0M1021.1 578.2h0M1021.1 618.3h0M1021.6 564.5h0M1021 620.8h0M1021.8 572.9h0M1021.8 573.4h0M1021.8 605.8h0M1021.8 619.3h0M1021.8 585.8h0M1021.8 603.9h0M1021.8 589.5h0M1021.8 574.6h0M1022.2 566.5h0M1023.1 621.2h0M1022.5 568.1h0M1022.5 619h0M1022.5 599.9h0M1022.5 602h0M1022.5 576.8h0M1022.5 577.4h0M1022.5 612.4h0M1022.5 619.7h0M514.9 457.7h0M512.7 536.3h0M512.8 584.7h0M515 474.8h0M512.9 519.7h0M514.7 425.6h0M514.6 442.6h0M513.6 450.8h0M512.7 524.1h0M513.4 598.6h0M515.2 562h0M514 546.2h0M513.5 511h0M514.1 501.5h0M513.8 586.9h0M515.4 563.9h0M515 478.6h0M512.7 462.2h0M514 569.6h0M514.7 599.4h0M514.8 477.3h0M512.6 513.6h0M513.5 590.4h0M515.2 524.7h0M514.8 562.1h0M514 505.7h0M515.3 576.1h0M514.2 613.6h0M512.9 570.5h0M514.1 481.8h0M537 526.4h0M539.2 442h0M539.3 610.9h0M537.2 520.5h0M538.1 475.3h0M537 461.1h0M539.4 580.4h0M539.5 509.2h0M538.1 418.2h0M537.9 526.5h0M539.6 418.8h0M538.6 415.1h0M539.5 447.5h0M538.7 537.5h0M537.2 501.6h0M537.9 442.6h0M537.8 418.6h0M538.7 607.7h0M538.2 488.6h0M538.1 435.4h0M538.8 549.3h0M536.9 484.1h0M537 551.4h0M536.6 586.7h0M536.8 579.4h0M537.2 515.6h0M538.7 600.9h0M539.2 437.1h0M538.7 495h0M537.1 501.6h0M539.4 409.4h0M538.7 518.4h0M539.2 504.4h0M537.3 582.7h0M536.9 548.8h0M537.5 416.6h0M537.1 582.5h0M537.1 596.7h0M537 598.7h0M536.8 542.7h0M638.5 473.2h0M639.7 446.9h0M639.9 471.3h0M639.4 448.6h0M639.9 482h0M638.3 446.3h0M639.6 470.6h0M639.9 493.7h0M639.2 482.1h0M637.4 489.8h0M639.1 437.7h0M637.1 438h0M637.6 579.4h0M639.2 576.1h0M638 587.8h0M637.4 553.5h0M638.3 555.1h0M639.1 582.8h0M639.2 558.2h0M638.7 557.8h0M638.6 568.2h0M637.4 583.3h0M732.1 558.6h0M729.9 479.9h0M731.9 563h0M731.5 581.1h0M730.9 478.9h0M731.1 489.7h0M730.8 559.3h0M730.6 549.2h0M731.4 449.2h0M731.2 571.6h0M731.6 569.3h0M731.6 590.1h0M729.8 507.6h0M730.2 555.6h0M730.5 542.3h0M731.6 448.5h0M731.5 493.7h0M730.4 539.5h0M731.5 477h0M731.8 456.9h0M850.7 495.8h0M853.3 500.8h0M853.5 483.4h0M852.3 465.5h0M852.2 500.5h0M853.5 457.6h0M851.2 466.2h0M851.8 489.2h0M854.9 594.3h0M852.4 588.9h0M852.5 589.1h0M854.6 597.6h0M853.5 565.3h0M854.9 610h0M853.6 558.7h0M854.2 580.6h0M853.3 579.1h0M852.9 564.2h0M854.1 587.9h0M853.4 602.5h0M878.7 576.6h0M878 597.7h0M879.2 601.7h0M879.4 587h0M879.5 599h0M877.9 574.6h0M879.1 613.1h0M880 611.5h0M912.5 612.2h0M910.8 605.8h0M912.7 605.3h0M911.5 611.3h0M947.7 573.9h0M948.3 610.4h0M950 572.6h0M948.2 620.5h0M948.2 610.6h0M949.4 614.4h0M949.9 573.2h0M950 606.1h0M947.8 618.2h0M948.5 592.7h0M986.8 462.5h0M987 439.5h0M987.8 461h0M985.6 460h0M985.8 456.7h0M987.4 471.8h0M1001.4 403.3h0M1003.8 416.2h0M1001.5 415.5h0M1001.7 395.3h0M1002.9 396.7h0M1001.4 418h0M1008.5 516.7h0M1007.9 518.7h0M1005.8 515.2h0M1005.7 535.3h0M997.4 516.1h0M995.1 519.7h0M995.9 549h0M995.2 601.6h0M995 582.1h0M995.1 584.4h0M995.1 535.7h0M997.6 543.1h0M996 585.1h0M997.7 573.2h0M995 585.9h0M996.7 576.9h0M995.8 602.1h0M994.9 572.9h0M1021.4 616.9h0M1022.1 580.7h0M1020.9 599.7h0M1020.9 571.3h0M1022.7 592.2h0M1020.1 576.1h0M1019.8 616.5h0M1020.1 598h0M1022.6 608.9h0M1021.5 583.1h0M259.1 433.3h0M281.9 421.9h0M290.8 445.5h0M292.1 552.2h0M283.2 593.9h0M452.1 504h0M485.9 445.5h0M485.9 585.2h0M419.1 606.1h0M485.9 463.8h0M515.6 441h0M915.3 457.7h0M1022.8 488.1h0M986.8 480.3h0M852.7 503.7h0M852.7 480.9h0M852.7 454.2h0M548.3 494.3h0M565.5 548.9h0M638.4 500.7h0M637.2 590.8h0" stroke="#0a0a0a" stroke-width="5" stroke-linecap="round" fill="none"/>
<polygon points="251.4,486.5 260.3,490.8 266.7,440 273,443.2 280.6,454.8 285.7,485.7 290.8,503.3 301,510.7 311.1,505.4 321.3,508 331.4,503.1 344.1,495.3 354.3,505.4 367,505.2 377.2,510.3 392.4,513.1 402.6,511.1 412.7,526.4 420.3,531.2 430.5,525.8 443.2,515.8 453.4,526 463.5,533.8 473.7,506 481.3,500.6 491.5,526 501.6,520.9 509.2,507.3 513.1,512.3 513.1,537.2 509.2,532.1 501.6,528.7 491.5,533.8 481.3,508.4 473.7,518.1 463.5,543.7 453.4,533.8 443.2,523.6 430.5,531.4 420.3,541.2 412.7,538.4 402.6,523.2 392.4,518.7 377.2,513.8 367,508.8 354.3,511.1 344.1,500.9 331.4,510.9 321.3,513.6 311.1,511.1 301,518.5 290.8,513.2 285.7,497.8 280.6,462.6 273,461.6 266.7,452.1 260.3,502.9 251.4,507.1" fill="#64ff00"/>
<path d="M251.8 486h0M250.8 509.5h0M251.4 506.8h0M252.5 486.4h0M252.3 509.1h0M253 478.3h0M253 496h0M253.8 485.6h0M254.6 507.5h0M254.4 496.1h0M255.3 487.3h0M255.3 507.3h0M256.2 489.7h0M257.8 487.7h0M257.3 505.8h0M258.2 504.4h0M260 488.8h0M260.4 504.8h0M259.7 502.1h0M259.9 488h0M260.9 502.8h0M260.5 496.7h0M261.1 483h0M261.4 497.2h0M261.3 488.6h0M263.2 472.4h0M262 485.9h0M262.6 484.1h0M264.6 461.6h0M264.5 477.9h0M263.8 485.9h0M263.8 475.9h0M265.1 452.1h0M264.9 466.3h0M265.2 463.3h0M267 440.2h0M266.9 455.4h0M266.6 446.3h0M268.2 438.2h0M267.3 454.9h0M267.9 463.4h0M267.9 447.3h0M268 438.9h0M269 457.6h0M268.6 452.9h0M271.4 439.6h0M270.9 459.4h0M270.7 447.6h0M272.1 442.2h0M272.1 460.8h0M271.8 452.8h0M273.9 441.1h0M273.6 462.3h0M273.6 463.8h0M275 444.9h0M275.7 463.5h0M275 452h0M276.1 445.7h0M276.5 465h0M276.5 464h0M276.8 448.1h0M277.4 464.8h0M277.5 456.8h0M278.9 449h0M278.6 462.8h0M278.6 445h0M278.6 472.9h0M278.6 459.7h0M280.4 450.8h0M279.6 463.3h0M279.6 468.3h0M279.6 453.4h0M282.4 458.8h0M280.7 470.7h0M281.6 471h0M284 471.2h0M284.1 483.9h0M283.4 491.7h0M283.4 476.1h0M286.1 482.8h0M285.9 497.6h0M285.5 503.2h0M285.5 486.3h0M288 489.7h0M287.7 503.4h0M287.2 497.9h0M288.8 496h0M288.6 509.7h0M289 503.5h0M290.7 496.9h0M290.3 512.2h0M289.8 497.8h0M291.2 503.3h0M291.8 515.3h0M291.5 506.2h0M292.8 503.2h0M291.5 516.6h0M292.5 522.7h0M292.5 507.8h0M294.1 504.5h0M292.7 515.9h0M293.6 517h0M294 504.1h0M294.1 517.7h0M294.6 515h0M295.5 506.7h0M296.6 518.3h0M296.4 496.7h0M296.4 508.4h0M298.1 508h0M298.3 517.2h0M297.5 506.5h0M297.8 506.3h0M297.8 519.3h0M298.5 501.7h0M298.5 509.7h0M300.6 507h0M300.4 519.4h0M299.9 499.1h0M299.9 508.8h0M302.1 509.1h0M301.4 520.7h0M302 510h0M302.9 507.7h0M302.4 517.6h0M302.7 526.9h0M302.7 516.3h0M305.1 507.4h0M304.5 519h0M304.2 511.7h0M304.9 507.4h0M304.8 517.3h0M305.6 522.6h0M305.6 515.3h0M307.1 504.9h0M307.9 514.2h0M307.4 499.4h0M307.4 512.8h0M309 505.7h0M308.9 513.3h0M308.4 507.7h0M309.2 505.7h0M309.6 514.5h0M309.4 514.6h0M311.5 503.5h0M312 512.7h0M311 508.6h0M311.7 503.9h0M312.5 513.8h0M312 508.2h0M313 504.5h0M314.6 512.5h0M313.9 507.9h0M313.8 504h0M315.4 514.4h0M314.6 511.3h0M315.9 504.7h0M315.3 513h0M316.2 506.4h0M316.9 505h0M316.8 515.2h0M317.6 505.7h0M318.7 505.8h0M319.1 516h0M319.6 512.4h0M320.4 507.5h0M320.9 515.1h0M320.6 515.2h0M322.4 505.9h0M321.6 516.5h0M321.7 507.5h0M324.4 504.9h0M324.1 515.1h0M323.5 514.5h0M325.1 505.6h0M325 514.2h0M324.9 510.3h0M325.4 503.4h0M327 513.6h0M326.1 499.1h0M326.1 509.2h0M328.9 501.9h0M328.7 511.8h0M328.1 506.8h0M330.1 503.3h0M330.1 511.9h0M329.7 508.9h0M331.4 501.8h0M332.5 511.4h0M331.8 502.4h0M333.2 499.3h0M333.2 512.4h0M332.9 506.6h0M335.5 498.8h0M333.8 508.8h0M334.6 507.4h0M335.2 498.3h0M335.4 509.9h0M335.5 500.4h0M338.5 497.5h0M338.3 506.2h0M337.6 504.2h0M339 496.6h0M338.5 507.2h0M339.4 503.8h0M341.1 495.3h0M339.8 504.7h0M340.7 500.1h0M342.8 495.6h0M341.9 504.3h0M342.1 497.3h0M344.5 494.4h0M343 501.5h0M343.6 497.1h0M344.9 493.1h0M345 502h0M344.4 495.6h0M345.3 493.3h0M345.1 502.6h0M345.1 499.5h0M345.4 496h0M345.4 505.4h0M346 504.2h0M347 496.2h0M345.9 505.9h0M346.9 514.9h0M346.9 498.6h0M349 496.6h0M347.3 506.4h0M348.1 502.9h0M349.9 498.4h0M349.8 507.3h0M350.1 513.9h0M350.1 501.1h0M350.9 501.4h0M351.7 511h0M351.3 509.3h0M352.4 503.3h0M352.2 510.9h0M353.1 510.7h0M354.9 505.3h0M355.2 512.1h0M354.4 510.2h0M355.3 502.7h0M354.5 511.9h0M355.3 512.9h0M356.5 503.9h0M355.8 510.7h0M356.4 506h0M359.2 505.2h0M357.8 512.9h0M358.4 499.3h0M358.4 503.4h0M359.5 504.5h0M358.9 510.9h0M359.8 506.8h0M361.1 504.9h0M362.5 512.1h0M361.5 508.1h0M363.7 504.5h0M363.7 510.1h0M362.8 508.9h0M363.3 505.1h0M364.6 511.9h0M363.6 508.4h0M364.7 504.9h0M365 509.8h0M365.1 507.3h0M367.2 502.9h0M365.8 509.4h0M366.7 509.6h0M368.4 504.5h0M368.5 510.4h0M367.7 515.6h0M367.7 507.8h0M369.1 503.6h0M370.1 512.7h0M369.3 509.9h0M370.3 505.1h0M370.3 512.1h0M370.8 507h0M372.1 505.4h0M372.6 512.9h0M371.7 512.8h0M373.4 506.2h0M373.9 513.8h0M372.9 502.7h0M372.9 511h0M373.8 507h0M373.7 514.7h0M374 506.5h0M375.5 508.1h0M375.4 514.2h0M375.9 510.7h0M376.5 510.3h0M377.2 515.9h0M377.3 514.6h0M377.9 509.3h0M378.2 516.7h0M378.6 512.2h0M380.8 508.8h0M379.7 516.2h0M380.5 513.8h0M382 511h0M381.4 515.3h0M381.5 523.5h0M381.5 511.8h0M383.5 511.3h0M382.8 517.7h0M383.5 505.6h0M383.5 509.3h0M384.3 511.4h0M383.9 519.2h0M384.5 510.5h0M387.2 511.8h0M387.1 518.2h0M386.5 515.8h0M387.3 510.1h0M386.8 517.8h0M387.7 525.8h0M387.7 509.9h0M388.5 512.4h0M388.8 519.1h0M389.1 510.1h0M389.7 511.9h0M390 518.5h0M390.3 514.9h0M390.4 511.4h0M391.2 520.7h0M391.1 515h0M392.8 510.5h0M391.5 521.6h0M392.5 512.2h0M393.2 512.6h0M393.4 520.1h0M393.6 507.1h0M393.6 517.7h0M395.7 512h0M395.3 519.9h0M394.9 511.2h0M395.5 511.2h0M396.2 523.1h0M396.2 504h0M396.2 515.1h0M397.8 511.2h0M398 522.8h0M397.6 510.1h0M397.9 510.7h0M398.8 524.1h0M398.6 519.4h0M399.8 509.5h0M399.1 524.4h0M399.4 521.5h0M400 509.7h0M399.9 525.1h0M400.8 530.2h0M400.8 509.6h0M403.5 508.2h0M402.3 523.3h0M402.5 525.5h0M404.3 513.1h0M405.1 528.1h0M404.5 506.3h0M404.5 528h0M405.7 514.2h0M406.1 531.1h0M405.9 514.1h0M406.2 514.6h0M407.1 529.6h0M406.6 518.5h0M407.3 516.9h0M406.9 530.9h0M407.5 520h0M408.4 519.2h0M409.2 532.5h0M408.6 513.6h0M408.6 534h0M410.4 521.7h0M409.9 536.2h0M410 536.7h0M412 522.3h0M411.8 537h0M411.1 522.7h0M412.1 525h0M411.5 538.2h0M412.1 517.9h0M412.1 535.2h0M414.3 526h0M413.3 540.2h0M413.6 529.5h0M414 525.3h0M415.1 540h0M414.5 539.8h0M416 528.7h0M415.7 539.8h0M416.6 526.8h0M419.1 529.4h0M418.4 543h0M418.2 540.9h0M418.9 529.4h0M418.9 543.1h0M419.2 550.1h0M419.2 534.2h0M421.4 530.3h0M421.2 543.9h0M420.6 528.6h0M422.1 530.2h0M421.7 540.3h0M421.6 523.5h0M421.6 539.5h0M422.8 528.3h0M423.1 540.8h0M422.6 537.2h0M424.3 527.1h0M423.8 540.3h0M423.8 528h0M424.7 526.7h0M425 537h0M425 528h0M426.6 527.6h0M426.3 536.2h0M425.8 526.9h0M427.6 524.9h0M426.9 537.5h0M427.1 533h0M428.7 524.2h0M428.2 535.2h0M429.1 521h0M429.1 541.5h0M429.1 529.2h0M431 522.6h0M430.3 532h0M431 525.4h0M432.1 522.7h0M431.8 532.9h0M432.2 513.6h0M432.2 532.6h0M433.8 521.1h0M432.7 532.6h0M433.5 526.8h0M434.5 521.2h0M433.9 530.6h0M434.5 531.4h0M435.5 521h0M436.6 529.6h0M436.2 521h0M436.9 518.5h0M438.5 528.3h0M437.6 525.5h0M438.7 516.7h0M439.3 526.3h0M439.1 520.1h0M439.7 516.3h0M441.2 525.3h0M440.6 511.1h0M440.6 522.9h0M441.9 513.6h0M442.6 524.6h0M442.7 508.4h0M442.7 519.1h0M442.8 515.5h0M443.6 525.4h0M443.6 518.9h0M445.7 514.7h0M445.4 526.8h0M444.8 527h0M445.6 515.7h0M446.7 526.9h0M446 512.2h0M446 516.4h0M448 519.1h0M447.4 527.8h0M447.4 520.9h0M448.8 518.9h0M448.9 529.4h0M448.9 530h0M450.3 522h0M449.7 531.9h0M450.3 526.7h0M451.5 521.2h0M451.1 534.5h0M451.2 542.1h0M451.2 521.6h0M452.7 525.5h0M452.7 536h0M453.1 533.6h0M454 525.6h0M453.9 537h0M454.4 519.9h0M454.4 526.3h0M455.6 526.5h0M455.8 537h0M455.7 536.6h0M456.2 525.5h0M457.4 537.3h0M456.6 533.5h0M459.4 528h0M458.2 540.7h0M458.6 532.5h0M459.1 530.3h0M459.2 540.2h0M459.3 538.4h0M460.3 531.5h0M461.3 541.8h0M460.7 522.2h0M460.7 531.1h0M461.8 530.3h0M461.1 544.7h0M461.9 552.4h0M461.9 536.1h0M462.5 531.3h0M463.2 544h0M463 539.4h0M465.3 529.5h0M463.9 542.4h0M464.8 519.8h0M464.8 541.8h0M465.3 526.1h0M465.4 539.4h0M466 532.5h0M468.2 522.5h0M467.9 535.1h0M467.6 533.2h0M469.5 518h0M469.5 530h0M469.1 530.3h0M471.1 512.6h0M469.8 526.6h0M470.5 522.1h0M470.8 511.6h0M471 526h0M471.5 518.9h0M472.9 508.8h0M472 521.8h0M472.3 508.8h0M473.9 505.8h0M473.8 519.7h0M473.4 496.1h0M473.4 525.7h0M473.4 509.4h0M474 503.5h0M474.1 518.6h0M474.8 527h0M474.8 503.2h0M476.6 502.7h0M476.7 517.5h0M475.8 508.4h0M477.7 502.4h0M477.9 514.7h0M477.9 500.7h0M479.9 500.4h0M479.2 511.6h0M479.4 502.2h0M481.9 498.9h0M481.9 509.9h0M481.3 508.1h0M484 502.5h0M482.8 513.2h0M483 513.1h0M484.3 504.9h0M483.4 516.8h0M483.9 509.4h0M486.2 508.8h0M486.3 520.4h0M485.5 511.4h0M487.3 511.6h0M486.7 523.7h0M486.9 522.8h0M488.2 514.6h0M486.9 526.1h0M487.8 516.4h0M488.4 520h0M488.5 529.5h0M489.1 519.2h0M490.7 522h0M490.8 533.7h0M491 526.2h0M493.7 524.7h0M491.9 534.8h0M492.8 525.2h0M493.6 522h0M494.2 532.3h0M494.3 530.6h0M496.8 522.5h0M496.4 533.1h0M495.9 521.2h0M497 521.6h0M497.1 531.2h0M497.9 531h0M499.8 520.3h0M499.1 531.7h0M499 526.3h0M499.7 519h0M499.5 531.6h0M500 521.2h0M502.4 517.3h0M502.8 529.6h0M502.1 524.9h0M502 515.7h0M502.9 530.6h0M503 535.2h0M503 517.5h0M505.1 515.6h0M503.3 531.1h0M504.2 519.8h0M504.8 512.1h0M504.9 531.5h0M505.2 517.8h0M506.1 511.1h0M505.4 532.4h0M506 526.8h0M506.8 510.9h0M507.5 531.7h0M506.7 500.3h0M506.7 541.1h0M506.7 520.7h0M509.6 507.4h0M507.9 533h0M508.7 500.1h0M508.7 514.3h0M509.6 504.9h0M509 533.1h0M509.5 531h0M511.7 509.5h0M510.6 537h0M511.1 516.8h0M513.1 486h0M515.4 475.4h0M515.4 485.6h0M515.1 477.4h0M514.3 516h0M514.5 540.9h0M512.9 527.5h0M515.4 511.4h0M513.5 535.2h0M514.1 488.9h0M515.1 532.3h0M515.3 509h0M512.9 468.4h0M514.5 469.5h0" stroke="#64ff00" stroke-width="5" stroke-linecap="round" fill="none"/>
</g>
<g clip-path="url(#cC)">
<path d="M257.8 763.2H258.6V763.2H259.4V763.2H260.2V763.2H261V763.2H261.8V763.2H262.6V763.2H263.4V763.2H264.2V763.2H265V763.2H265.8V763.2H266.6V763.2H267.4V763.2H268.2V763.2H269V763.2H269.8V763.2H270.6V763.2H271.4V763.2H272.2V763.2H273V763.2H273.8V763.2H274.6V763.2H275.4V763.2H276.2V763.2H277V763.2H277.8V763.2H278.6V763.2H279.4V763.2H280.2V763.2H281V763.2H281.8V763.2H282.6V763.2H283.4V763.2H284.2V764.4H285V763.2H285.8V762H286.6V762H287.4V763.2H288.2V763.2H289V762H289.8V762H290.6V759.6H291.4V759.6H292.2V764.4H293V765.6H293.8V769.2H294.6V774H295.4V776.4H296.2V774H297V770.4H297.8V777.6H298.6V782.4H299.4V780H300.2V780H301V776.4H301.8V781.2H302.6V786H303.4V789.6H304.2V786H305V781.2H305.8V776.4H306.6V777.6H307.4V778.8H308.2V782.4H309V780H309.8V780H310.6V780H311.4V776.4H312.2V774H313V774H313.8V770.4H314.6V774H315.4V776.4H316.2V778.8H317V781.2H317.8V781.2H318.6V783.6H319.4V784.8H320.2V784.8H321V783.6H321.8V784.8H322.6V786H323.4V786H324.2V783.6H325V784.8H325.8V786H326.6V783.6H327.4V784.8H328.2V783.6H329V787.2H329.8V784.8H330.6V789.6H331.4V794.4H332.2V799.2H333V806.4H333.8V804H334.6V807.6H335.4V806.4H336.2V806.4H337V806.4H337.8V806.4H338.6V806.4H339.4V802.8H340.2V802.8H341V800.4H341.8V799.2H342.6V796.8H343.4V796.8H344.2V794.4H345V792H345.8V792H346.6V792H347.4V793.2H348.2V793.2H349V789.6H349.8V783.6H350.6V778.8H351.4V782.4H352.2V784.8H353V789.6H353.8V789.6H354.6V788.4H355.4V788.4H356.2V789.6H357V789.6H357.8V788.4H358.6V788.4H359.4V788.4H360.2V788.4H361V787.2H361.8V789.6H362.6V789.6H363.4V789.6H364.2V788.4H365V789.6H365.8V789.6H366.6V789.6H367.4V788.4H368.2V789.6H369V789.6H369.8V788.4H370.6V787.2H371.4V783.6H372.2V782.4H373V784.8H373.8V788.4H374.6V789.6H375.4V792H376.2V792H377V790.8H377.8V784.8H378.6V782.4H379.4V778.8H380.2V774H381V776.4H381.8V777.6H382.6V772.8H383.4V775.2H384.2V775.2H385V774H385.8V772.8H386.6V775.2H387.4V776.4H388.2V776.4H389V777.6H389.8V774H390.6V770.4H391.4V764.4H392.2V758.4H393V762H393.8V768H394.6V775.2H395.4V776.4H396.2V783.6H397V786H397.8V795.6H398.6V798H399.4V799.2H400.2V784.8H401V781.2H401.8V776.4H402.6V768H403.4V754.8H404.2V760.8H405V772.8H405.8V782.4H406.6V788.4H407.4V795.6H408.2V801.6H409V795.6H409.8V799.2H410.6V793.2H411.4V792H412.2V794.4H413V790.8H413.8V787.2H414.6V788.4H415.4V792H416.2V789.6H417V792H417.8V790.8H418.6V782.4H419.4V778.8H420.2V775.2H421V772.8H421.8V772.8H422.6V777.6H423.4V775.2H424.2V777.6H425V776.4H425.8V778.8H426.6V776.4H427.4V775.2H428.2V777.6H429V780H429.8V782.4H430.6V780H431.4V782.4H432.2V784.8H433V786H433.8V786H434.6V787.2H435.4V787.2H436.2V788.4H437V780H437.8V774H438.6V770.4H439.4V774H440.2V770.4H441V763.2H441.8V764.4H442.6V752.4H443.4V752.4H444.2V756H445V744H445.8V742.8H446.6V745.2H447.4V741.6H448.2V736.8H449V740.4H449.8V733.2H450.6V732H451.4V745.2H452.2V760.8H453V770.4H453.8V781.2H454.6V787.2H455.4V804H456.2V792H457V780H457.8V775.2H458.6V769.2H459.4V757.2H460.2V747.6H461V741.6H461.8V732H462.6V715.2H463.4V722.4H464.2V728.4H465V738H465.8V741.6H466.6V745.2H467.4V739.2H468.2V740.4H469V744H469.8V740.4H470.6V745.2H471.4V744H472.2V750H473V756H473.8V765.6H474.6V759.6H475.4V752.4H476.2V753.6H477V738H477.8V720H478.6V709.2H479.4V714H480.2V722.4H481V730.8H481.8V724.8H482.6V730.8H483.4V718.8H484.2V712.8H485V716.4H485.8V712.8H486.6V714H487.4V715.2H488.2V715.2H489V714H489.8V714H490.6V712.8H491.4V712.8H492.2V711.6H493V715.2H493.8V715.2H494.6V710.4H495.4V712.8H496.2V712.8H497V714H497.8V709.2H498.6V708H499.4V710.4H500.2V712.8H501V723.6H501.8V726H502.6V733.2H503.4V741.6H504.2V736.8H505V734.4H505.8V715.2H506.6V703.2H507.4V698.4H508.2V693.6H509V712.8H509.8V742.8H510.6V742.8H511.4V752.4H512.2V760.8H513V765.6H513.8V765.6H514.6V760.8H515.4V760.8H516.2V757.2H517V764.4H517.8V754.8H518.6V739.2H519.4V735.6H520.2V716.4H521V745.2H521.8V763.2H522.6V778.8H523.4V760.8H524.2V740.4H525V717.6H525.8V702H526.6V696H527.4V704.4H528.2V721.2H529V721.2H529.8V712.8H530.6V711.6H531.4V723.6H532.2V729.6H533V733.2H533.8V742.8H534.6V740.4H535.4V745.2H536.2V747.6H537V754.8H537.8V752.4H538.6V742.8H539.4V735.6H540.2V732H541V716.4H541.8V694.8H542.6V687.6H543.4V698.4H544.2V714H545V742.8H545.8V754.8H546.6V756H547.4V752.4H548.2V750H549V754.8H549.8V744H550.6V744H551.4V733.2H552.2V723.6H553V711.6H553.8V716.4H554.6V722.4H555.4V729.6H556.2V734.4H557V738H557.8V727.2H558.6V730.8H559.4V717.6H560.2V714H561V716.4H561.8V704.4H562.6V699.6H563.4V684H564.2V672H565V676.8H565.8V694.8H566.6V696H567.4V682.8H568.2V676.8H569V678H569.8V698.4H570.6V700.8H571.4V710.4H572.2V724.8H573V736.8H573.8V747.6H574.6V762H575.4V757.2H576.2V765.6H577V760.8H577.8V759.6H578.6V763.2H579.4V758.4H580.2V754.8H581V752.4H581.8V748.8H582.6V747.6H583.4V748.8H584.2V751.2H585V747.6H585.8V750H586.6V748.8H587.4V751.2H588.2V745.2H589V741.6H589.8V735.6H590.6V739.2H591.4V742.8H592.2V747.6H593V752.4H593.8V754.8H594.6V758.4H595.4V758.4H596.2V760.8H597V762H597.8V764.4H598.6V759.6H599.4V758.4H600.2V754.8H601V751.2H601.8V747.6H602.6V744H603.4V730.8H604.2V720H605V706.8H605.8V694.8H606.6V686.4H607.4V692.4H608.2V690H609V697.2H609.8V691.2H610.6V697.2H611.4V699.6H612.2V703.2H613V710.4H613.8V714H614.6V729.6H615.4V724.8H616.2V738H617V738H617.8V740.4H618.6V744H619.4V746.4H620.2V723.6H621V709.2H621.8V696H622.6V709.2H623.4V718.8H624.2V729.6H625V736.8H625.8V736.8H626.6V735.6H627.4V722.4H628.2V718.8H629V708H629.8V717.6H630.6V724.8H631.4V732H632.2V739.2H633V742.8H633.8V748.8H634.6V746.4H635.4V733.2H636.2V718.8H637V710.4H637.8V703.2H638.6V708H639.4V700.8H640.2V700.8H641V691.2H641.8V690H642.6V685.2H643.4V686.4H644.2V686.4H645V688.8H645.8V708H646.6V727.2H647.4V745.2H648.2V758.4H649V756H649.8V757.2H650.6V750H651.4V748.8H652.2V748.8H653V748.8H653.8V756H654.6V750H655.4V754.8H656.2V763.2H657V774H657.8V772.8H658.6V766.8H659.4V765.6H660.2V763.2H661V760.8H661.8V756H662.6V747.6H663.4V754.8H664.2V756H665V756H665.8V750H666.6V757.2H667.4V753.6H668.2V765.6H669V753.6H669.8V748.8H670.6V739.2H671.4V736.8H672.2V727.2H673V714H673.8V704.4H674.6V691.2H675.4V693.6H676.2V693.6H677V708H677.8V716.4H678.6V716.4H679.4V723.6H680.2V730.8H681V735.6H681.8V735.6H682.6V717.6H683.4V709.2H684.2V699.6H685V688.8H685.8V685.2H686.6V685.2H687.4V694.8H688.2V691.2H689V702H689.8V690H690.6V697.2H691.4V693.6H692.2V687.6H693V693.6H693.8V704.4H694.6V716.4H695.4V723.6H696.2V734.4H697V736.8H697.8V730.8H698.6V729.6H699.4V723.6H700.2V718.8H701V718.8H701.8V726H702.6V740.4H703.4V741.6H704.2V741.6H705V735.6H705.8V739.2H706.6V735.6H707.4V733.2H708.2V726H709V722.4H709.8V717.6H710.6V714H711.4V718.8H712.2V722.4H713V732H713.8V733.2H714.6V740.4H715.4V736.8H716.2V734.4H717V730.8H717.8V730.8H718.6V728.4H719.4V723.6H720.2V724.8H721V720H721.8V720H722.6V714H723.4V714H724.2V716.4H725V718.8H725.8V722.4H726.6V726H727.4V728.4H728.2V728.4H729V727.2H729.8V729.6H730.6V729.6H731.4V728.4H732.2V727.2H733V727.2H733.8V729.6H734.6V726H735.4V726H736.2V728.4H737V726H737.8V729.6H738.6V723.6H739.4V727.2H740.2V723.6H741V724.8H741.8V715.2H742.6V715.2H743.4V708H744.2V699.6H745V692.4H745.8V693.6H746.6V702H747.4V710.4H748.2V710.4H749V705.6H749.8V718.8H750.6V723.6H751.4V728.4H752.2V729.6H753V744H753.8V750H754.6V738H755.4V738H756.2V729.6H757V726H757.8V728.4H758.6V729.6H759.4V727.2H760.2V727.2H761V729.6H761.8V730.8H762.6V732H763.4V732H764.2V736.8H765V732H765.8V734.4H766.6V736.8H767.4V735.6H768.2V734.4H769V736.8H769.8V735.6H770.6V740.4H771.4V736.8H772.2V735.6H773V729.6H773.8V722.4H774.6V714H775.4V716.4H776.2V709.2H777V708H777.8V711.6H778.6V700.8H779.4V706.8H780.2V694.8H781V690H781.8V687.6H782.6V694.8H783.4V693.6H784.2V687.6H785V687.6H785.8V686.4H786.6V686.4H787.4V684H788.2V682.8H789V682.8H789.8V684H790.6V688.8H791.4V698.4H792.2V704.4H793V702H793.8V705.6H794.6V708H795.4V703.2H796.2V700.8H797V702H797.8V691.2H798.6V693.6H799.4V692.4H800.2V709.2H801V730.8H801.8V752.4H802.6V756H803.4V756H804.2V759.6H805V754.8H805.8V757.2H806.6V759.6H807.4V760.8H808.2V754.8H809V760.8H809.8V758.4H810.6V759.6H811.4V752.4H812.2V752.4H813V733.2H813.8V726H814.6V715.2H815.4V721.2H816.2V744H817V741.6H817.8V729.6H818.6V723.6H819.4V711.6H820.2V699.6H821V688.8H821.8V688.8H822.6V698.4H823.4V697.2H824.2V703.2H825V702H825.8V703.2H826.6V694.8H827.4V698.4H828.2V697.2H829V697.2H829.8V696H830.6V698.4H831.4V696H832.2V696H833V693.6H833.8V694.8H834.6V694.8H835.4V692.4H836.2V697.2H837V703.2H837.8V709.2H838.6V712.8H839.4V717.6H840.2V714H841V717.6H841.8V711.6H842.6V716.4H843.4V717.6H844.2V715.2H845V715.2H845.8V716.4H846.6V715.2H847.4V715.2H848.2V720H849V720H849.8V721.2H850.6V722.4H851.4V727.2H852.2V721.2H853V698.4H853.8V692.4H854.6V698.4H855.4V699.6H856.2V708H857V710.4H857.8V721.2H858.6V726H859.4V734.4H860.2V741.6H861V751.2H861.8V759.6H862.6V764.4H863.4V740.4H864.2V722.4H865V702H865.8V709.2H866.6V712.8H867.4V715.2H868.2V728.4H869V727.2H869.8V752.4H870.6V786H871.4V818.4H872.2V829.2H873V820.8H873.8V804H874.6V790.8H875.4V774H876.2V758.4H877V753.6H877.8V741.6H878.6V728.4H879.4V753.6H880.2V784.8H881V816H881.8V828H882.6V834H883.4V829.2H884.2V841.2H885V843.6H885.8V838.8H886.6V844.8H887.4V820.8H888.2V792H889V772.8H889.8V738H890.6V729.6H891.4V756H892.2V793.2H893V787.2H893.8V758.4H894.6V741.6H895.4V716.4H896.2V694.8H897V692.4H897.8V698.4H898.6V703.2H899.4V705.6H900.2V710.4H901V712.8H901.8V723.6H902.6V727.2H903.4V714H904.2V712.8H905V705.6H905.8V698.4H906.6V692.4H907.4V697.2H908.2V709.2H909V710.4H909.8V717.6H910.6V726H911.4V729.6H912.2V740.4H913V739.2H913.8V728.4H914.6V723.6H915.4V715.2H916.2V710.4H917V694.8H917.8V698.4H918.6V694.8H919.4V693.6H920.2V686.4H921V688.8H921.8V690H922.6V684H923.4V691.2H924.2V714H925V720H925.8V740.4H926.6V751.2H927.4V769.2H928.2V781.2H929V793.2H929.8V802.8H930.6V806.4H931.4V820.8H932.2V813.6H933V793.2H933.8V783.6H934.6V760.8H935.4V751.2H936.2V735.6H937V721.2H937.8V699.6H938.6V722.4H939.4V744H940.2V765.6H941V782.4H941.8V795.6H942.6V802.8H943.4V807.6H944.2V817.2H945V832.8H945.8V826.8H946.6V804H947.4V795.6H948.2V778.8H949V763.2H949.8V742.8H950.6V727.2H951.4V720H952.2V739.2H953V750H953.8V760.8H954.6V774H955.4V795.6H956.2V794.4H957V798H957.8V805.2H958.6V802.8H959.4V810H960.2V811.2H961V822H961.8V814.8H962.6V795.6H963.4V776.4H964.2V753.6H965V747.6H965.8V734.4H966.6V708H967.4V700.8H968.2V712.8H969V727.2H969.8V741.6H970.6V753.6H971.4V765.6H972.2V762H973V763.2H973.8V753.6H974.6V740.4H975.4V734.4H976.2V718.8H977V720H977.8V718.8H978.6V723.6H979.4V730.8H980.2V729.6H981V729.6H981.8V727.2H982.6V727.2H983.4V728.4H984.2V728.4H985V729.6H985.8V729.6H986.6V728.4H987.4V728.4H988.2V728.4H989V728.4H989.8V728.4H990.6V728.4H991.4V728.4H992.2V728.4H993V728.4H993.8V728.4H994.6V727.2H995.4V727.2H996.2V727.2H997V729.6H997.8V730.8H998.6V729.6H999.4V729.6H1000.2V729.6H1001V732H1001.8V732H1002.6V730.8H1003.4V735.6H1004.2V735.6H1005V739.2H1005.8V740.4H1006.6V740.4H1007.4V744H1008.2V744H1009V738H1009.8V739.2H1010.6V741.6H1011.4V742.8H1012.2V738H1013V740.4H1013.8V748.8H1014.6V757.2H1015.4V758.4H1016.2V770.4H1017V776.4H1017.8V782.4H1018.6V762H1019.4V751.2H1020.2V740.4H1021V728.4H1021.8V715.2H1022.6V704.4H1023.4V728.4H1024.2V738H1025V758.4H1025.8V772.8H1026.6V795.6H1027.4V792H1028.2V795.6H1029V789.6H1029.8V790.8H1030.6V781.2H1031.4V784.8H1032.2V765.6H1033V757.2H1033.8V753.6H1034.6V745.2H1035.4V740.4H1036.2V727.2H1037V726H1037.8V724.8H1038.6V724.8H1039.4V727.2H1040.2V722.4H1041V708H1041.8V699.6H1042.6V696H1043.4V698.4H1044.2V698.4H1045V705.6H1045.8V705.6H1046.6V706.8H1047.4V697.2H1048.2V690H1049V684H1049.8V682.8H1050.6V667.2H1051.4V666H1052.2V666H1053V667.2H1053.8V666H1054.6V669.6H1055.4V667.2H1056.2V661.2H1057V658.8H1057.8V661.2H1058.6V663.6H1059.4V660H1060.2V661.2H1061V660H1061.8V661.2H1062.6V661.2H1063.4V660H1064.2V661.2H1065V660H1065.8V660H1066.6V660H1067.4V660H1068.2V658.8H1069V658.8H1069.8V658.8H1070.6V658.8H1071.4V658.8H1072.2V657.6H1073V658.8H1073.8V657.6H1074.6V657.6H1075.4V657.6H1076.2V657.6H1077V657.6H1077.8V657.6H1078.6V658.8H1079.4V658.8H1080.2V656.4H1081V656.4H1081.8V656.4H1082.6V656.4H1083.4V652.8H1084.2V650.4H1085V652.8H1085.8V655.2H1086.6V657.6H1087.4V663.6H1088.2V664.8H1089V669.6H1089.8V664.8H1090.6V662.4H1091.4V658.8H1092.2V658.8H1093V655.2H1093.8V655.2H1094.6V654H1095.4V656.4H1096.2V657.6H1097V660H1097.8V660H1098.6V662.4" fill="none" stroke="#0a0a0a" stroke-width="2.4" stroke-linejoin="miter"/>
<polyline points="257.8,763.1 258.7,763.1 259.1,763.1 260.1,763.1 260.9,763.1 261.6,763.1 262.5,763.1 263,763.1 264.2,763.1 264.8,763.1 265.7,763.1 266.6,763.1 267.8,763.1 268.6,763.1 269,763.1 269.6,763.1 270.4,763.1 271.4,763.1 272.1,763.1 273.2,763.1 274.3,763.1 275.6,763.1 276.5,763.1 277.3,763.1 278.6,763.1 279.9,763.1 281.2,763.1 281.7,763.1 282.6,763.1 283.6,763.1 284.9,763.1 285.7,763.1 286.9,762.9 287.6,763 288.1,761.7 288.8,762.2 289.4,761.6 289.9,764.2 291,762 292.2,768.9 293.3,765.4 294.2,768.6 294.9,764.7 295.8,777.7 296.4,772 297.6,779.6 298.2,773.2 298.9,778.9 299.6,776.3 300.8,786.1 301.7,778.5 302.5,786.4 303.8,778.2 304.5,785.4 305.5,779.6 306,785.5 307.3,777.3 307.9,779.2 308.5,778.5 309.6,781.1 310.7,776.1 311.7,780.2 312.5,773.2 313.4,778.9 314.2,773.3 314.8,781 316,772.9 317.1,780 318.2,780.5 319.2,783.7 319.9,782 320.5,783.5 320.9,782.9 321.9,784 322.8,783.8 323.8,784.5 325.1,784.5 325.6,785.3 326.4,785.2 327.3,787.2 328.1,785.1 329.3,797.8 330,791.6 330.7,797.8 331.6,786.7 332.1,798.4 332.9,792.2 334.2,805.9 335.2,804.2 336.1,806.1 336.9,804.2 338.1,806.1 338.7,803.7 339.5,803.2 340.1,799.9 340.7,805.7 341.4,794.4 342.6,801.6 343.6,795.8 344.7,799 345.4,792.9 346.4,794.7 347.4,786.3 348.2,791.3 349.5,782.7 350,793.3 351.2,783 352.5,789.4 353.5,781.5 354,786.9 354.7,786.2 355.2,789.6 356,789.2 356.9,789.3 358.1,788.8 359.4,789 360.1,788.6 360.5,788.8 361.7,788.6 362.2,789.1 362.8,788.6 363.6,789.3 364.1,788.9 365.1,789.5 366.3,789.2 367.5,789.6 368.4,786.3 369,787.7 369.5,784.4 370.5,789.3 371.1,784.9 371.6,789.9 372.3,784.7 373.3,789.1 374.5,785.7 375.5,793.4 376.1,785.1 376.9,793.5 377.6,776.9 378.3,793.6 379.2,775.6 379.7,783.6 380.7,777.3 381.3,779 381.9,773.8 383,775.9 384,773.8 384.9,775.9 386.2,773.6 387.2,775.8 388,771.1 389.1,775 390.4,762.1 391.1,776.1 391.7,762.4 392.9,775.9 393.8,763.1 394.3,787.6 395,769.2 395.9,792.3 396.8,781.2 397.5,796.5 398.4,781.9 399.7,799.1 400.4,766.9 401.1,799.3 402.4,753.8 403.1,782 404,760.6 405,786.1 405.4,777.3 406.8,792.4 407.4,781.9 408.3,800.2 409.2,790.1 410,800.2 411.4,794.6 412.1,797.6 413.4,790.9 414.6,793.4 415.9,786.8 416.6,788.6 417.2,779.1 417.8,790.9 418.6,781.6 419.8,790 420.4,774.2 421.5,780.5 422.6,774.5 423.7,777.1 425,776 425.5,776.9 426.6,778 427.1,778.9 427.6,777.5 428.6,782.6 429.1,777.6 430.4,785.4 431.7,783.7 433,791.2 434.3,784.1 435.5,786.8 436.3,774.4 437.5,790.5 438.2,769.2 439.4,773.9 440.2,763.3 441.4,773.3 442.5,752.4 443.6,764.6 444.4,749 445.2,756 445.8,741.1 446.4,745.7 447.1,731.6 447.9,747.3 449.3,740.2 450.6,760.7 451.6,733.4 452.6,764.9 454,752.3 455.3,789 456.5,766.8 457.3,779.6 458,764.6 459,782.3 460.2,730.8 461.4,762.6 462.6,716.4 463.8,741 465.1,719.5 465.6,732.8 466.5,732.1 467.6,743.5 468.1,740.9 469.3,749.6 470.2,745.3 470.8,753.4 471.5,745.2 472.5,760.1 473.2,747.2 473.7,754.6 474.8,745 475.6,750.6 476.5,721 477.3,752.6 478.1,723.4 478.7,744.1 479.5,716.3 480.1,725.2 481.3,710.8 481.9,724.5 482.5,722.2 483.3,729.8 484.1,719.9 485.3,727.4 486,714.5 486.8,713.6 488,713.6 488.6,713.6 489.2,713.6 490.1,713.6 491.3,713.5 492.2,713.6 493.5,712 494.8,712 495.3,710.3 496.1,712.7 496.6,709.3 497.6,712.3 498.9,709.8 499.9,726.6 501,721.7 501.9,732.8 502.6,719 503.1,737.2 503.9,709.8 504.6,738.6 505.1,711.6 506,736.3 506.8,710.4 507.5,734 508.8,696.4 509.4,731.3 510.6,700 511.4,755.2 512.6,749.7 513.7,761.8 515,754.7 515.7,759.7 516.9,728 518.3,759.2 519.3,719 519.8,768.7 520.4,738 521.7,763.9 522.6,713.5 523,766.4 523.9,699.6 524.9,742 525.7,706.6 526.2,750.1 527.3,699.9 527.9,718.6 529.1,696.9 530,723.6 530.7,723.5 531.3,734.2 531.8,714.7 532.9,742.8 533.6,727 534.5,740.5 535.3,731.2 536.4,748.8 537.3,735.8 538.2,740.6 538.7,714.3 539.5,747.5 540.9,714.9 541.6,737.8 542.6,691.8 543.8,720.5 544.5,684.6 545.1,755 546.2,707.7 547.5,755.1 548.5,735.8 549.4,754.7 549.8,721.2 551,751.1 552.1,723 552.8,740.9 553.7,717.2 554.9,729.3 555.9,712.2 556.9,728.9 558.1,722.2 559.3,731.5 560,705.2 561,725.9 561.6,678.5 562.8,715 563.8,686.2 565.1,694.4 566.2,678.5 567.2,690.5 568.4,680.6 569.4,703.6 570.1,679.4 571,737.1 571.6,686.1 572.6,754.4 573.4,713.9 574.7,756.1 576,743.8 576.6,762.2 577.4,756.1 578.5,761.2 579.8,749.3 581.1,754.9 581.9,749.2 582.4,752.9 583.3,749.2 584.1,749.1 584.7,749 585.9,749 586.4,742.4 587.1,747 588,740.4 589.3,744.2 589.9,737.1 590.4,751.9 591.3,737.7 592.5,756.1 593,738.9 593.5,756.9 594.2,745.8 595.5,758.7 596.1,757.2 597,757.8 598.3,753.4 598.8,756.2 599.6,752.2 600.4,753.9 601.4,725.1 602.2,754.6 602.9,703.8 603.5,749.3 604.2,711.2 605.1,742.8 606.3,698.3 607,715.2 607.7,686.5 608.4,694.7 609.2,685.2 609.9,699.7 610.5,689.4 611.5,716.5 612.1,694.8 613.2,717.8 614.1,704.8 614.6,738.7 615.4,722.7 616.2,746 617.4,725.8 618.4,735.7 619,710.8 620.3,746.4 621.6,707.7 622.3,738 622.9,703.8 623.9,730.4 624.5,700.9 625.6,732.9 626.1,727.4 626.8,737.4 627.6,719.2 628.3,740 628.9,719 629.8,729.6 631,713.7 631.5,747.2 632.5,732.8 633.4,746.6 633.9,727 634.5,734.8 635.7,722.8 636.5,734.3 637.2,709 638.3,711.5 638.8,696.8 639.3,709.6 640.4,687 641.6,703.1 642.7,684.9 643.3,700.2 644,686.5 645.1,728.2 645.9,699.4 647.1,752.3 648,711.5 648.6,756.9 649.8,743.7 651.1,760 651.9,752.2 652.7,753.3 653.9,747.8 655.2,766.8 655.8,756.2 657.1,769.1 658.2,762.8 658.7,769.9 659.9,752.2 660.7,766.4 661.4,753.6 661.9,766.4 662.6,752.5 663.4,757.9 664.7,751.7 665.8,758.8 666.5,753.6 667.7,754.4 668.7,735.7 670,751.5 670.8,712.3 671.5,749.7 672.2,703.6 672.8,744.3 673.4,693.1 674.3,724 675.3,699.6 675.8,715 676.7,705.3 677.8,728.1 678.9,702.3 679.7,734.2 681.1,708.6 681.6,736.2 682.2,697.7 683.4,734 684.5,686.8 685.1,707.2 685.6,686.8 686.7,698.2 687.9,686 688.8,696.8 689.4,691.6 690.2,692.9 691.3,694.6 692.7,719.6 693.9,688.5 695.1,726 696.3,702.3 697.3,737.7 698.2,720.8 698.8,740.2 699.8,716.4 700.7,736.7 701.2,719.3 701.9,729 703.2,717.6 704.3,734.3 705,733.1 706,735.2 707.1,720.9 707.6,734.9 708.5,721 709.8,732.7 710.4,720.8 711,732.5 712,720.5 713.2,735.2 714,721.1 714.5,730.6 715.2,732.4 715.8,734.7 716.8,725.9 717.4,733.2 718.5,724 719.5,731.4 720.4,719.8 721.5,722.2 722.1,714.4 722.7,723.1 723.8,718.6 724.8,727.9 725.5,716.1 726.5,725.9 727.2,719.8 727.7,726.8 729,727 729.7,728.5 730.6,727.8 731.6,728.6 732.8,727.7 734.1,728.3 735.2,726.8 735.9,727.3 736.7,726.3 738,726.5 739,721 739.8,726 741,705.8 741.9,718.9 742.7,694.4 743.7,719.6 744.4,694.7 745.5,709.3 746.1,699.2 746.8,710.6 747.2,700.1 748,717.8 748.7,705.6 749.4,723.5 750.7,709 751.8,743.8 753,720 754,746.2 754.7,731.8 755.2,740.6 755.9,733.2 757.1,735.8 758,727.5 759.2,729.9 760.5,727.2 761.4,730.9 762.6,730.5 763.5,735.2 764.8,733.8 765.9,736.7 767.1,734.4 767.7,738.2 768.5,736.3 769.8,737 771,725.1 771.5,732.9 772.6,717.4 773.4,738.3 774.7,709.6 775.4,721.6 776.4,706.8 777.3,712.4 778,706.5 779.3,706 780.6,691.1 781.9,697.9 783,690.2 784.2,692.6 785,684.4 785.9,687.1 786.7,684.2 787.8,689.1 789.1,684.4 790.2,706.1 791.1,691.5 792,703.2 792.8,689.3 793.3,707.2 794.2,697.2 795.5,702.6 796.5,695.3 797.8,703.4 798.9,714.8 799.7,742.5 800.7,704.9 801.6,752.5 802,697.1 803.3,744.8 804,745.1 804.9,757 805.5,756.9 806.8,757.6 808,757.6 808.7,757.6 809.3,757.3 810.5,757.5 811.3,725.4 812.4,737.7 812.9,733.5 813.7,757.6 814.7,714.7 815.2,730.5 816.3,730.3 817.2,723.1 818.2,692.8 819.2,736.3 819.8,693.2 821.1,717.4 822.5,691.5 823.3,699.2 824.5,697.1 825.7,701 826.9,697.8 828.1,699.8 829.3,696.5 830.4,698.7 831.2,695.5 832.2,697.3 832.7,694.5 833.8,698.3 835.1,695.3 836.5,707.4 837.2,696.9 837.7,711.1 838.3,699.5 839,709.7 840.1,708.4 840.8,714.9 841.9,715 842.7,715.6 843.6,715.1 844.1,715.9 845.2,715.4 846.2,718.6 846.7,717.5 847.3,720.9 848.1,715.8 849,723 849.5,716.6 850.4,722.1 851.3,696 852.5,723.1 853.3,695.5 854.3,721.6 855.1,703.5 856.2,719.3 857.3,710.2 858,748.6 859.1,714.2 859.7,755.8 861,729.8 861.6,758.6 862.8,710.4 864.1,753.3 865.4,709.4 866.4,732.4 866.9,712.5 868,767.5 868.7,711.9 870,812.6 871,736.3 871.5,816.2 872.2,767.4 873.3,830.8 874.3,783.6 874.8,825.2 875.4,749.9 876.5,792 877.4,754 878.4,789.5 879.5,754.6 880,816.8 880.9,736.7 881.8,810.5 883.2,808.4 884,841.2 885,818.4 885.7,830 886.5,777.9 887.6,818.2 888.8,742 890,797.3 891.3,742.9 891.8,785 892.9,728.3 893.7,759.7 894.2,695.1 895.3,758.2 896.1,701.6 897,739.6 898.2,693.2 899.3,720.3 900.4,700.8 901.2,720.2 901.8,708.4 902.7,722.8 904,703.4 904.5,716.5 905.8,698.9 907,716.8 907.7,698 908.5,718.7 909.8,704.6 910.5,739.8 911.3,713.7 911.8,740.5 912.4,725.9 913.4,740.2 914.7,713.6 915.4,729.6 916.5,698.4 917,722.3 917.9,693.1 918.8,701.8 919.5,691.5 920.7,693.5 921.4,693.2 922.7,718.6 923.7,692.1 924.5,757.1 925.8,736.8 926.7,797.6 927.4,752.7 928.3,794.2 929.6,776.6 930.4,814.5 931.6,775.3 932.6,815.2 933.4,768.5 934.6,777.4 935.5,730.2 936.5,748.6 937.8,707.8 938.8,769.3 939.8,745.7 940.4,798.8 941.2,722.9 942.2,824.1 943.1,784.1 943.7,823.8 944.6,793.6 945.3,823.9 945.8,773.3 946.7,814.9 947.3,783.6 947.9,825.6 948.5,742.5 949.8,791.9 950.4,724.2 951.5,768.1 952.1,726 952.8,779.2 954,750.2 955,803.2 955.6,775.5 956.6,798.8 958,792.9 958.8,813.7 959.5,801.2 960,810.5 960.9,792.6 961.8,815.9 962.8,770.4 964.1,813.2 965.3,706.7 966,768.7 967.3,706 968.5,750.5 969.4,722.4 970.7,763.5 971.2,733.2 972.4,763.1 973.5,726.5 974.7,757.5 975.7,726.7 976.6,739.8 977.9,721.3 978.6,728.4 979.4,721.5 980.2,729.1 981.5,725.4 982.8,729.1 983.5,729.1 984.5,729.3 985.8,728.7 986.9,729.1 988.1,728.7 988.9,728.9 989.5,728.4 990.1,728.6 991.2,728.3 991.8,728.6 992.3,728.1 992.8,728.4 993.6,728.1 994.8,728.6 995.5,728 996,729.3 996.6,728 997.6,730 998.6,729.4 999.4,731.2 1000.1,729.4 1000.8,732.3 1002,730.8 1003,734.2 1004.3,732.3 1005.4,739.8 1006.3,734.4 1007.6,740.9 1008.6,738.3 1009.2,741.5 1010.2,740.2 1011.5,747.7 1012.3,741.1 1013.4,755.4 1014,742.4 1015.4,775.8 1016.3,746.6 1017.4,767.1 1018.4,728.3 1018.9,761.9 1020,721.3 1020.5,766.6 1021.2,726 1022.5,741.3 1023.8,706.6 1024.8,783.6 1025.7,753.2 1027,782.9 1027.8,777.2 1028.7,795.6 1029.4,774.7 1030.4,794 1031.4,758.2 1032.4,783.8 1033.1,742.4 1034.1,775 1034.6,732.5 1035.6,751.1 1036.3,726.3 1037.6,732.1 1038.9,709.2 1039.4,722.1 1040.4,695.9 1041.2,713.5 1042.3,694.3 1043.3,713.1 1043.7,694.4 1044.8,708.7 1045.3,694.5 1045.9,712.2 1046.8,693.2 1047.7,707.6 1049.1,670.3 1050.2,690.8 1051.4,675.2 1052,674.7 1052.5,668.1 1053.6,669.8 1054.1,664.5 1054.9,667 1055.7,662.8 1056.7,666.3 1057.9,661.9 1058.9,663.3 1060.2,660.4 1061.3,661 1062.1,660 1063,660.3 1064.4,659.7 1064.9,660.4 1065.5,659.5 1066.7,659.8 1068,659 1068.8,659.4 1069.6,658.8 1070.9,659 1071.4,658.4 1072.1,658.6 1073.3,657.9 1074.4,658.5 1075.1,657.6 1076.4,657.8 1077.5,657.1 1078.1,657.5 1079,656.9 1079.5,657.4 1080,655.6 1080.9,657.3 1081.4,652.6 1082,656.7 1082.8,651.9 1084.1,659.3 1085.3,653.3 1086.2,659.6 1087.4,657.3 1088.7,667.5 1089.8,657.6 1091,664.5 1092.2,659.1 1092.9,661 1093.7,657.7 1094.7,659.4 1095.2,654.9 1095.7,660.9 1096.8,655.7 1098.1,660.5 1099.2,659.7" fill="none" stroke="#0a0a0a" stroke-width="1.3"/>
</g>
<g clip-path="url(#cD)">
<polyline points="256.5,1009.6 256.9,1033.6 257.4,1010.8 258,1028.8 258.4,1012.1 259.1,1030 259.4,1016.4 259.8,1027.7 260.6,1009.7 261,1027.1 261.7,1012.1 262.5,1032.9 263.3,1012.2 263.6,1028.6 263.9,1015.1 264.5,1023 264.8,1013.2 265.3,1027.4 265.9,1014.1 266.3,1028.3 266.8,1016.4 267.5,1029 267.9,1014.2 268.4,1028 269,1015.5 269.5,1026 270.1,1017.9 270.9,1025.2 271.2,1016.1 271.6,1030.8 272.2,1020.9 272.9,1027.3 273.7,1017.4 274.3,1032.6 274.7,1019.2 275.3,1032.9 276,1019.7 276.3,1033.1 277,1019 277.3,1032.9 277.6,1020.8 277.9,1033.5 278.7,1021.8 279.2,1032.9 279.9,1021.1 280.4,1033.7 280.8,1021.7 281.5,1039.5 282.3,1028.3 282.7,1037.9 283.1,1026.8 283.8,1034 284.6,1023.4 285.3,1039.8 285.6,1026.6 286.1,1029.7 286.7,1020 286.7,1042.1 287.3,1033.7 287.3,1033.7 287.7,1019.1 288.3,1030.7 288.6,1019.8 288.9,1027.2 289.2,1022.8 290,1027.1 290.5,1016.3 291,1028.7 291.7,1013.2 292.4,1024.1 292.8,1006 293.5,1021.9 294.2,1003.3 294.9,1012.9 295.4,998.9 296.1,1017.3 296.1,978.6 296.7,1006.9 296.5,1006.9 297,1029.6 297.3,1002.4 298,1032.1 298.3,1004 298.6,1027.1 299.3,1012 299.6,1028.5 300.2,1022.3 300.7,1035.4 301.5,1021.4 302,1038.6 302.8,1023.4 303.5,1036.9 303.8,1021.3 304.3,1047.9 304.6,1021 304.9,1040.9 305.2,1020.8 305.9,1040.2 306.3,1028 306.8,1041.3 307.4,1028.2 307.6,1036.9 307.9,1020.5 308.2,1034.5 308.5,1024.3 308.8,1043.9 309.2,1010.7 309.9,1043.5 310.5,1022.5 311.3,1037.9 311.9,1006.5 312.4,1044.5 313.1,1017.3 313.6,1030.3 314.1,1020.1 314.6,1042.2 315.3,1004.4 316.1,1045.7 316.8,1005.2 317.5,1043.5 318,1016 318.4,1029.5 318.8,999.4 319.1,1042 319.8,1012.8 320.6,1025.9 321,998 321.5,1038.2 321.9,1007.2 322.5,1030.6 322.8,1012.3 323.5,1034.3 323.9,1009.7 324.3,1027.6 324.6,1016.9 325.4,1037.6 325.9,1019.8 326.4,1036.1 326.9,1014.7 327.4,1035.9 327.9,1024 328.4,1034.1 329.1,1022.2 329.8,1035.2 330.2,1020.1 330.8,1036.4 331.3,1020.7 331.7,1033.6 332.4,1019.3 333.1,1034.6 333.9,1020.9 334.2,1032.5 334.6,1018.5 335.1,1035.4 335.4,1018 335.8,1033.3 336.2,1020.6 337,1044.9 337.3,1027.1 337.9,1044.5 338.4,1017.7 339,1063.5 339.5,1019.7 339.8,1084.8 340,1092.9 340.6,1029.2 340.6,1029.2 341,1068.9 341.4,1044.9 342.2,1089.6 342.6,1039.9 342.6,1075.1 343.2,1081.4 343.2,1081.4 343.7,1042.1 344,1075.8 344.5,1040.6 345,1058.3 345.4,1039.8 346.1,1070.1 346.9,1027.6 347.3,1052.5 347.7,1018.5 348.3,1053 348.8,1018.5 349.1,1044.8 349.6,1017.5 350,1049.2 350.3,1022.2 350.7,1036.7 351.4,1022.5 351.8,1042.8 352.5,1014.1 352.8,1033.9 353.4,1016.6 353.9,1038.4 354.4,1013.2 354.8,1035.2 355.2,1013 356,1028.6 356.8,1013.8 357.1,1030.5 357.9,1017.1 358.6,1037 359.1,1064.9 359.1,996.4 359.7,1014.7 359.7,1014.7 359.4,1014.7 359.8,1036.8 360.4,1013.2 360.7,1036.3 361.5,1009.5 361.9,1027.9 362.6,1013 362.9,1038.2 363.3,1013.6 363.9,1033.7 364.6,1010.3 365,1031.9 365.5,1011.7 366.1,1026 366.8,1010.1 367.6,1038.3 368,1006.2 368.7,1032.4 369.3,1002.1 370.1,1033.6 370.7,999.9 371.5,1037.8 372,1002.5 372.3,1043.9 373.1,999 373.7,1026.5 374,992.1 374.5,1015.6 375,1003.6 375.3,1020.7 375.8,993.6 376.5,1008.2 376.8,991.7 377.3,1005.1 377.9,986.9 378.3,1008.9 379.1,993 379.4,1004.2 380.2,990.1 380.6,1001.7 380.9,977.4 381.3,1004.7 381.6,988.4 382.1,995.9 382.7,982.6 383,995.8 383.6,981.9 384.3,995.1 384.8,987.5 385.5,997.1 386.1,985.7 386.5,1000.3 386.8,979.7 387.5,999.3 388,979.7 388.3,1004.1 389.1,983.9 389.5,997.6 390.1,980.3 390.8,1000.5 391.1,985.2 391.8,1002.1 392.2,981 392.8,1000.4 393.3,983.2 393.8,1002.4 394.5,983.7 395.2,1003.7 395.9,983.6 396.5,1008.1 397,991 397.7,1011.9 398.2,987.8 398.7,1009.4 399,989.4 399.6,1009.7 400.4,1000.4 400.7,1015.5 401.4,995.2 402,1027 402.4,1005 402.3,1075.1 402.9,1027.1 403.1,1027.1 403.9,1002.4 404.3,1036.3 404.8,1004.9 405.4,1040.6 405.7,1007.1 406.4,1037.8 407.1,1016.6 407.7,1045.1 408.1,1009.8 408.4,1044.3 408.7,1006.5 409.4,1030.2 409.8,1000.9 410.3,1034.3 410.7,1006.7 411.3,1038.3 412,998.7 412.5,1038.8 413.3,999.7 413.9,1037 414.5,999.9 415,1035.6 415.6,996.2 416.2,1031.3 416.8,983.7 417.3,1025.9 417.8,989.6 418.6,1012.4 419.3,988 419.6,1014.7 420.1,991.3 420.6,1010.2 420.9,979.6 421.4,1007.6 422.2,979.2 423,993.3 423.8,980.4 424.5,995.4 424.9,978.4 425.3,1004.8 426,981.3 426.6,1004.9 427.2,981.5 427.9,997.8 428.7,984.5 429.3,1011.3 430,993.6 430.8,1023.3 431.4,988.2 432.1,1012.4 432.5,989.9 433.2,1023.4 433.9,990.8 434.8,1014.1 435.5,998.8 435.8,1027.7 436.3,1005.9 436.9,1030.4 437.6,1006.8 438.2,1028.3 438.8,1002.7 439.5,1028.9 439.8,1001.1 440.3,1029.3 440.8,1001.2 441.4,1033.4 442,1007.5 442.7,1034.1 443.1,1008.8 442.9,1087.8 443.5,1030.7 443.6,1030.7 444.2,1015 444.9,1026.6 445.7,1005.5 446.1,1042.6 446.8,1013.1 447.2,1031 448,1023 448.3,1037.4 448.7,1018 449.2,1043 449.7,1012.4 450,1054 450.9,1020.5 451.4,1057.8 452,1018.1 452.4,1044.1 453,1017.1 453.8,1064.5 454.4,1029.3 455.1,1063.8 455.6,1025.4 455.9,1056.2 456.3,1026.3 456.6,1069.9 457.2,1029.2 458,1077.5 458.7,1044.5 459.1,1074.7 459.9,1042.4 460.2,1077.1 460.6,1047.7 460.9,1083.9 461.3,1041.1 461.7,1079.5 462,1043.8 462.5,1077.4 462.9,1047.2 463.5,1090.5 464.2,1058.3 464.8,1093.2 465.2,1051.6 465.7,1092.3 466.3,1057.7 466.7,1094.3 467.4,1059.1 468.1,1104.5 468.6,1069.1 469.1,1092.9 469.5,1072.2 469.7,1111.4 470.6,1070.3 470.8,1139.9 471.4,1116.5 471.2,1116.5 472,1070.4 472.7,1113.2 473,1084.2 473.5,1105.3 474.3,1069.7 474.9,1098 475.6,1072 476.5,1103.1 476.9,1069.5 477.4,1098 478.1,1069.1 478.5,1125.9 479.1,1110.4 478.8,1110.4 479.5,1077.7 480.1,1111.5 480.5,1075.9 481,1103.5 481.8,1076.4 482.2,1098.3 482.7,1076.4 483,1110.8 483.4,1078.6 484.1,1107.4 484.7,1087.2 485,1103.9 485.6,1081.9 486,1096.3 486.5,1067.2 487.2,1108.9 487.7,1081.7 488,1094.2 488.8,1070.4 489.4,1096.1 489.7,1060.8 490.3,1106.5 490.9,1074.8 491.5,1103.6 491.9,1051.8 492.7,1096.5 493,1048.1 493.3,1091.6 493.7,1049.6 494.2,1094.3 495.1,1052.3 495.5,1090.3 496.3,1038.2 497.1,1072 497.6,1031.2 498,1076.2 498.6,1029.6 499.1,1069.4 499.6,1027.5 500.2,1057.9 500.9,1030.2 501.2,1058.4 501.5,1039.2 502.1,1071.1 502.8,1029.1 503.5,1061.1 504,1029.1 504.6,1058.6 505.1,1041 505.5,1070.5 505.8,1029.2 506.5,1070.4 507.3,1031.3 507.8,1070.5 508.4,1036.2 509.2,1062 509.5,1038 509.9,1078.3 510.6,1039.6 511.4,1077.9 511.7,1042.6 512,1074.2 512.4,1055.4 513,1084.7 512.8,1108.1 513.4,1045.9 513.8,1045.9 514.4,1078.4 514.8,1053.1 515.4,1070.3 515.9,1054.7 516.3,1086.1 516.7,1056.2 517.5,1078.2 518.1,1055.2 518.8,1084.5 519.4,1043.7 520.2,1075.5 520.7,1052.1 521,1076.7 521.3,1053 521.8,1085.9 522.4,1052 522.8,1082.2 523.1,1051.1 523.4,1081.8 524.1,1051.7 524.6,1078.5 524.9,1055 525.7,1071.8 526.3,1050.3 526.9,1074.1 527.2,1050.2 527.8,1076 528.3,1051 528.8,1076.1 529.1,1056.8 529.9,1082 530.7,1050.4 531.5,1079.8 532.1,1054.1 532.7,1074.8 533.3,1051.5 534,1085.6 534.6,1061.3 535.4,1077.9 535.8,1056.3 536.5,1074.8 537.3,1045.7 537.9,1061.8 538.3,1044.8 538.9,1064.6 539.5,1041.2 540,1057.3 540.5,1045.4 541.2,1058.4 541.5,1047.4 542,1054.2 542.3,1042.3 542.7,1052.8 543.5,1044.1 544,1054 544.8,1040.5 545.4,1050.9 545.7,1041.7 546.1,1054.1 546.7,1039.2 547.1,1054.1 547.5,1040 547.9,1049.4 548.5,1041.9 549.1,1054.4 549.4,1043.4 550.2,1052.5 550.8,1040.5 551.4,1056.6 551.8,1038.5 552.4,1058.9 552.8,1034.6 553.5,1061.4 554,1047.2 554.6,1063.6 555.2,1044.5 555.9,1070.1 556.5,1051.6 556.5,1087.8 557.1,1064.9 557,1064.9 557.4,1045.6 558.2,1063.6 558.7,1029.9 559.3,1055 559.9,1027.9 560.5,1034.6 561,1017.9 561.7,1043.8 562.3,1023.5 563,1045.1 563.5,1027.6 564.2,1044.3 564.9,1032.5 565.3,1041 565.7,1032.2 566.3,1046.9 566.7,1098 567.3,1031.7 567,1031.7 567.7,1045 568.3,1028.5 569.1,1043.6 569.8,1029.9 570.3,1039.6 571.1,1030.1 571.9,1042.9 572.2,1030.1 573,1041.8 573,1064.9 573.6,1029.7 573.6,1029.7 574.1,1042.4 574.5,1030.1 574.8,1043 575.3,1032.1 576.1,1042 576.5,1032.1 577.2,1040.6 578,1035.4 578.3,1042 579,1031 579.5,1039.8 579.9,1030.9 580.4,1042.3 580.8,1032.3 581.1,1042.2 581.6,1035.3 581.9,1042.8 582.2,1031 582.7,1039.3 583.2,1033.8 583.8,1041.3 584.1,1032.6 584.9,1039.7 585.5,1030.6 585.9,1040.6 586.3,1032.6 586.6,1037.3 587.1,1031.9 587.9,1038.2 588.5,1029.2 588.8,1037.3 589.4,1028.9 589.8,1041 590.5,1030.3 591,1040.6 591.3,1032.7 591.9,1037.7 592.6,1030 593,1038.7 593.8,1025.4 594.1,1037.4 594.8,1025.3 595.4,1035.7 595.8,1024.1 596,1034.3 596.7,1023.6 597.3,1031.2 597.9,1024.6 598.3,1035.6 598.8,1026.4 599.5,1035.4 600.1,1024.6 600.7,1031.3 601.2,1023.8 602,1033.8 602.7,1024.7 603.2,1035.4 603.6,1023.3 604,1036.4 604.6,1022.6 605.1,1032.5 605.5,1022.2 606.3,1030.9 607,1022.9 607.3,1028.3 607.6,1019.9 608.1,1030.3 608.8,1020.9 609.6,1031.4 610.3,1019.8 611.1,1029.9 611.4,1022.2 611.7,1030.2 612.4,1021 612.7,1032.9 613.5,1019.3 613.9,1035.5 614.4,1021.3 614.9,1039.1 615.6,1018.3 616.3,1039.9 617.1,1026 617.6,1039.4 618.2,1021 618.6,1036.9 619.2,1021.9 620,1032.8 620.3,1021.9 620.5,1032.8 620.8,1026.9 621.6,1033.5 622.4,1024.8 623.2,1031 623.7,1023.8 624.3,1029.9 625,1025.4 625.6,1029.2 626.4,1023.4 627.1,1029.9 627.6,1021.3 627.9,1030.1 628.3,1020.8 628.9,1029.1 629.3,1020.7 629.9,1027 630.4,1019.3 631,1030.3 631.7,1018.6 632.3,1028.1 633,1019.6 633.5,1032 634.3,1020.6 635,1033 635.7,1021.1 636,1032.4 636.8,1021.4 637.5,1033 638,1025 638.3,1035.4 638.7,1023.1 639,1037.8 639.1,1070 639.7,1024.6 639.4,1024.6 639.8,1033.4 640.3,1022.3 640.6,1040 641.1,1028.1 641.7,1035.9 642.2,1024.3 642.6,1043.1 643.2,1020 643.6,1043.2 644.3,1021.9 645,1035.8 645.6,1019.2 646.3,1037.4 646.9,1016 647.6,1038.2 648.1,1023 648.5,1042.6 649,1005.2 649.8,1039.1 650.4,1008.7 650.8,1035.9 651.6,1007.2 652,1039.7 652.7,1007.8 653.3,1029.7 653.1,1001.4 653.7,1004.1 653.9,1004.1 654.7,1037.1 655.3,1014.4 656,1039.1 656.8,1016.5 657.1,1039.5 657.9,1014.4 658.6,1036.8 659.1,1018.3 659.6,1027.6 660.1,1009 660.5,1042.7 661,1017.3 661.7,1036.8 662.4,1019.1 662.8,1042.3 663.1,1009.9 663.6,1040.8 664.3,1012.3 665.1,1055.1 665.8,1016.6 665.8,1075.1 666.4,1044.7 666.4,1044.7 667,1008.9 667.5,1031.8 668,1008.9 668.6,1042.8 669,1010.2 669.8,1041.7 670.3,1020.4 671,1040.4 671.7,1009 672.2,1039.3 672.7,1009.3 673.3,1039.4 674.1,1013 674.7,1031.8 675.4,1021.5 675.8,1032.5 676.3,1013.2 676.9,1042.9 677.5,1021.5 678.1,1043 678.5,1070 679.1,1018.5 678.8,1018.5 679.3,1042 680.1,1013.2 680.6,1039.5 681,1014.8 681.5,1033.8 682.1,1006.5 682.5,1030.7 682.8,1005.3 683.4,1025 684.1,1003.3 684.7,1019.6 685.5,1004 686.2,1027.6 686.7,1002.9 687.1,1033.3 687.5,1015.5 687.9,1033 688.5,1005.8 689,1027.3 689.7,1012 690.2,1036.4 690.8,1018.9 691.3,1037.8 691.9,1023.6 692.2,1043.3 692.7,1020.1 692.4,1059.9 693,1039.6 693.5,1039.6 693.9,1016.5 694.2,1036.6 694.8,1017.7 695.2,1031.1 695.7,1012.6 696.2,1032.3 696.9,1019.6 697.5,1028.2 698.2,1017.9 698.9,1028.7 699.6,1010.5 699.9,1028.9 700.5,1015.7 701,1025.4 701.6,1011.3 701.9,1027.4 702.2,1012.5 702.6,1023.2 703.3,1010.7 704.1,1020 704.4,1008 704.9,1018 705.4,1011.1 706,1023.3 706.5,1009.5 707,1020.8 707.7,1002 708.1,1016.5 708.6,995.2 709,1012.8 709.6,1002.7 709.9,1012.2 710.5,1003.7 711.2,1017.6 711.6,1000.5 712.1,1017.1 712.5,1001.5 713.4,1018.7 714,1004.5 714.5,1018.6 715.2,1000.3 715.7,1016 716.1,1003.7 716.6,1010.7 717.2,1002.8 717.8,1010.7 718.3,1002.6 718.7,1015.5 719.4,1001.3 720,1010.9 720.5,997.1 721,1009.9 721.6,1004.1 722.1,1009.4 722.5,1001.4 723,1012.7 723.6,1004 723.9,1013 724.4,1002.9 724.7,1011.3 725.4,998.6 726.1,1017.1 726.6,1003.3 727.2,1015.5 727.5,999.9 727.8,1017.5 728.3,999.7 728.7,1021.1 729.5,1005.7 729.9,1021.5 730.5,994.1 731.3,1021.8 732.1,993.1 732.6,1016.9 733,994.5 733.6,1017.1 734.1,991.8 734.9,1009.2 735.4,989.5 736.1,1010.7 736.4,990.2 737.1,1002.5 737.5,995.5 737.9,1007.7 738.2,1000 738.8,1015.5 739.5,995 740,1021.4 740.8,1005.3 741.4,1023.8 742,1000.6 742.7,1028.5 743.3,1006 743.6,1036.4 744.4,1004.1 745.2,1028.5 745.6,1005.1 746.3,1043.1 746.7,1015 747.5,1042.8 748,1006.4 748.7,1047.3 749,1009.5 749.6,1034.6 750.2,1015.6 751,1045.7 751.3,1009.3 751.9,1046.3 752.4,1025.7 753.2,1044.6 753.7,1018.9 754.2,1057.6 754.9,1030 755.2,1055.1 755.8,1034.1 756.5,1052.8 756.8,1034.6 757.3,1057.9 757.8,1046.4 758.2,1060 758.7,1043.8 759.4,1055.9 760,1038.7 760.5,1062 761.1,1037.7 761.8,1053.7 762.1,1037.4 762.5,1050.3 763.2,1042.4 763.6,1050.3 763.8,1039.4 764.6,1049.2 765.3,1037.9 766,1048.3 766.7,1039.6 767,1047.2 767.6,1039.4 768.2,1044.4 768.7,1039.9 769.5,1044.2 770.2,1040.1 770.5,1043.3 770.9,1039.3 771.2,1042.5 771.6,1040 772.4,1046.2 772.9,1038.2 773.5,1044.5 773.8,1035 774.5,1045.3 774.8,1026.9 775.3,1059.2 775.7,1028.9 776.4,1051.2 777.2,1016.2 777.7,1058 778.1,1022.1 778.5,1052.1 779,1002.1 779.6,1029.5 780.2,992.1 781,1022.9 781.7,979.9 782.1,1011.3 782.8,978.7 783.4,1024.7 783.9,973.7 784.4,1007.5 784.6,976.7 785.4,1009.5 785.9,989.3 786.4,1014 786.8,972.5 787.4,999.6 788,978.5 788.4,1012.1 789.1,972.6 789.6,1016.1 790.3,977.8 790.8,1021.5 791.2,980 791.7,1026.4 791.5,1059.9 792.1,989.5 792.3,989.5 792.9,1039 793.4,1004.1 794,1050.7 794.5,1012.6 794.8,1058.3 795.6,1024.2 796.3,1048.1 796.7,1036.9 797.2,1060.8 797.6,1021.8 798.4,1056.7 799.1,1028.2 799.9,1051.5 800.6,1026.7 801.2,1052.6 802,1037 802.3,1060.2 803,1028.1 803.8,1054.6 804.4,1026.7 805.1,1053.8 805.5,1027.7 806.2,1053.6 806.9,1028.7 807.7,1056 808,1029.6 808.7,1060.1 809.4,1034.2 809.9,1061.7 810.5,1025.4 811.2,1063 811.6,1039.7 812.4,1069.5 813.2,1033.7 813.5,1054.3 814.1,1034 814.5,1046 815.2,1027.7 816,1039.8 816.5,1019.7 817,1038.7 817.3,1020.1 817.8,1032.6 818.5,1018.5 819.3,1023.4 819.7,1007.6 820.3,1027.1 820.9,1000.2 821.6,1022.6 822.1,1003.5 822.6,1012.2 823.1,996.8 823.8,1007.1 824.3,990.1 824.8,1021.5 825.3,994.3 825.8,1021.8 826.6,1003.5 827.4,1022.9 827.8,1009.8 827.9,1061.2 828.5,1035.7 828.4,1035.7 829.1,1012.2 829.6,1027.7 830.4,1010.1 831,1027 831.7,1011.7 832.3,1024.3 832.8,1011.4 833.3,1027.7 834.1,1013.5 834.8,1025.1 835.2,1010 835.9,1022.3 836.6,1009.5 837.4,1025.4 838,1007.4 838.5,1026.5 839.2,1015.2 839.6,1025.5 840.2,1005.7 840.6,1031 841,1015.9 841.6,1034.9 842.3,1009.2 843.1,1026.2 843.5,1002.7 844.1,1037.7 844.6,1002.3 845.2,1023.5 846,1006.1 846.5,1031.9 847,994.3 847.3,1025.7 847.6,1004.2 848.1,1020.3 848.6,993.7 849,1022 849.6,996.7 850.2,1014.7 850.7,984.6 851.2,1013.9 852,984 852.8,1008 853.1,987.9 853.8,1004.4 854.5,987.4 855,997 855.4,988.7 855.8,1002.7 856.5,986.3 856.9,1002.3 857.4,981.7 858.1,1000.6 858.5,987.7 859.1,1003.3 859.9,996 860.2,1012.8 860.7,990 861.2,1018.1 861.7,983.8 862.4,1024.5 863.1,1002.3 863.6,1029.1 864.3,1003.1 864.9,1040.4 865.5,1014.9 865.8,1042.8 866.1,1015.1 866.7,1044.8 867.5,1027 867.9,1058.5 867.9,1089.3 868.5,1040.9 868.7,1040.9 869.5,1067.3 870.1,1042.6 870.6,1069.7 871.3,1033 871.7,1057.2 872,1047.9 872.4,1064.8 873.1,1035.5 873.8,1061.8 874.1,1039.9 874.8,1060.7 875.5,1044.3 876.1,1059.7 876.8,1028.1 877.5,1075.6 878.1,1043.9 878.5,1074.8 879.2,1034.8 879.6,1073.9 880.3,1033.3 880.9,1064.1 881.6,1038.4 882.1,1062.4 882.9,1038.5 883.5,1065.7 884.1,1031.6 884.7,1059.6 885.2,1031.9 885.6,1063.5 886.1,1036 886.6,1074.1 887,1034.2 887.5,1073.4 888.2,1040.7 889,1075.8 889.7,1045 890.1,1068.3 890.6,1040.8 891.1,1076.7 891.7,1032 892.3,1076.7 893,1038.6 893.6,1077 894.4,1044.1 894.7,1077.6 895.5,1038.6 896.1,1059.7 896.5,1049.4 897.2,1071.8 897.9,1049.7 898.5,1075.6 899,1035.1 899.6,1061.4 900.3,1036.1 900.5,1098.2 901.1,1071.4 900.9,1071.4 901.6,1032.3 902.3,1050 902.9,1028.8 903.5,1041.2 904.1,1019.8 904.6,1030.6 905.4,1014.2 906,1020.5 906.3,1006.9 906.8,1013 907.6,997.8 908.4,1000.5 909,982.1 909.4,995.8 909.7,980 910.4,991.5 911.2,981.4 911.9,992.5 912.4,981 913.1,995.1 913.5,981.7 914,995.9 914.3,982.5 914.5,996.4 915.2,984.3 915.8,993.5 916.1,988.4 916.6,996.3 917.1,986.9 917.7,1001.9 918.3,989 918.8,1006.4 919.5,992.5 920,1014.7 920.4,998.7 921.2,1015.5 921.6,1000.8 922.4,1016.3 923,999.4 923.6,1033.1 924.4,1001.7 925.1,1037.7 925.8,1008.7 926.3,1039.7 927.1,1011.9 927.5,1032.2 927.9,1023.5 928.3,1036.1 928.6,1026.4 929.1,1046.1 929.5,1026.8 929.9,1038.4 930.6,1023.8 930.9,1045.6 931.5,1031.1 932.1,1047.5 932.8,1025.2 933.4,1048.7 934.1,1032.9 934.8,1050.1 935.1,1034.9 935.5,1048.2 936.2,1033.5 936.7,1046.7 937.1,1027.2 937.9,1045.8 938.4,1027.5 939.2,1049.9 939.8,1025.7 940.2,1047.8 940.6,1024.7 941.2,1049.1 941.5,1023.9 942.1,1048 942.4,1024.3 943,1043 943.6,1019.7 944.1,1045.8 944.4,1019.3 945.2,1040.5 945.6,1024.5 946.3,1042.5 946.6,1022.2 947.3,1039.9 948,1013.9 948.7,1032.6 949.2,1010.6 949.7,1032.6 950.4,1009.8 951.1,1031 951.8,1006.9 952.2,1025.2 952.5,1006.1 953.1,1025.8 953.4,1004.1 954,1021.8 954.7,1008 955.1,1023.8 955.5,1004.8 956,1020.1 956.6,1007.6 957.2,1026.4 957.6,1008.9 958.2,1024.1 958.5,1010.5 959.2,1031.6 959.8,1012.1 960.1,1028.6 960.5,1018 961.2,1026.9 961.9,1013.5 962.6,1027.9 963.4,1020.9 963.8,1033.8 964.3,1017.3 964.6,1043.2 965.4,1023.7 966.1,1050.4 966.8,1017.1 967.2,1047.9 967.6,1020.3 968.1,1048.5 968.4,1010.1 968.9,1035.1 969.2,1011.1 969.5,1042 970,1004.1 970.4,1037.5 970.9,1003.5 971.6,1030 972,1004.4 972.5,1013.3 973.1,993.6 973.8,1013.5 974.2,980.1 974.7,1003.8 975.2,973.1 975.9,993.6 976.4,968.6 976.7,980.1 977,965.1 977.5,983.7 978,965 978.8,989.2 979.1,970.9 979.5,985.4 979.9,969.5 980.5,985.3 981.1,967.9 981.6,991.8 982,974 982.6,987.4 983.3,977.5 984,991.4 984.4,979.6 985,997.6 985.4,981.1 986.1,999.6 986.7,978.2 987,1000.8 987.8,977.2 988.3,996.1 989.1,970.3 989.5,1002.7 990.2,983 990.8,994.8 991.6,968.5 992.3,1005.2 992.9,969.9 993.5,998.8 994.3,968.1 995,999 995.6,960.7 996.4,1002.9 997,968.7 997.5,991.7 998.3,970.1 999,987.6 999.3,975.5 999.7,990.5 1000.3,976.7 1000.8,990.9 1001.2,974.5 1001.7,999.7 1002,982.6 1002.7,1002.9 1003.2,982.2 1003.9,1005.9 1004.3,984.9 1005.1,1001.1 1005.4,993.8 1005.8,1007.5 1006.4,990.2 1006.9,1011.4 1007.3,995.9 1008,1010.6 1008.7,998.4 1009.1,1010.1 1009.6,1005.2 1009.9,1017.6 1010.2,1000.8 1010.8,1019.7 1011.6,1004.7 1012.1,1020.7 1012.6,1009.6 1013,1018.6 1013.3,1012.5 1013.7,1023.6 1014.3,1010.7 1015,1025.5 1015.5,1014.5 1016.4,1026.2 1016.8,1010.5 1017.1,1027.1 1017.8,1016.5 1018.5,1028.9 1019.2,1015.9 1019.9,1030.7 1020.3,1013 1021.1,1026.1 1021.7,1012.2 1022.3,1025.5 1022.6,1013.6 1022.9,1026.1 1023.5,1012.6 1024,1026.3 1024.7,1018.5 1025.5,1027.8 1026.3,1013.9 1026.7,1034.1 1027.3,1015.9 1027.8,1028.7 1028.1,1012.9 1028.7,1027.4 1029.3,1014 1029.4,1055.2 1030,1028.9 1029.9,1028.9 1030.4,1007.4 1030.9,1022.8 1031.2,1006.1 1031.8,1032.8 1032.3,995.9 1032.7,1030.3 1033.1,1000.8 1033.8,1030.3 1034.2,983.2 1034.8,1016.6 1035.3,993.3 1036.1,1021.1 1036.8,973 1037.4,1028.5 1037.8,980.3 1038.3,1029.3 1038.6,997 1039.1,1027.9 1039.6,993 1040,1020.1 1040.6,1007.2 1040.4,1071.5 1041,1027.9 1041.4,1027.9 1042.1,1005.1 1042.7,1019.4 1043.2,996.6 1043.9,1013.1 1044.3,993.1 1045.1,1007.8 1045.8,992 1046.1,1005.7 1046.7,992.3 1047,1002 1047.4,987.1 1048.1,1002.3 1048.9,989.4 1049.4,995.8 1049.8,987 1050.3,991.5 1051.1,983.5 1051.8,998 1052.2,972.3 1053,1000 1053.3,977.1 1054.1,991 1054.5,977.4 1055.3,990.5 1055.8,969.9 1056.3,990.7 1056.9,971.2 1057.3,995.6 1057.7,973 1058,989.2 1058.5,971.3 1059.3,986.2 1059.7,975 1060.3,980.4 1060.7,973.3 1061.3,984.5 1061.8,968.1 1062.1,984.4 1062.5,972.6 1063.2,983.7 1063.5,970 1064,983.7 1064.4,967.5 1064.7,983.3 1065,968.7 1065.6,977.1 1066.3,967.7 1067.2,981.1 1067.9,971.7 1068.2,980.9 1068.7,967.4 1069.4,979.2 1069.8,967.4 1070.3,980.5 1070.9,969.9 1071.6,979.6 1072,967.4 1072.3,976 1073,967.5 1073.4,979.2 1073.8,968.9 1074.6,977.1 1075.2,972.4 1075.6,978.8 1075.8,968.8 1076.4,976.4 1076.9,970.3 1077.5,980.7 1078.1,971.8 1078.9,977.6 1079.2,971 1079.7,981.4 1080.1,970.6 1080.5,981.5 1081.2,972.7 1081.6,981.5 1082.4,973.6 1083,989.7 1083.7,976.6 1084.1,994.1 1084.5,984.8 1085.2,1004.1 1085.6,978.4 1086,1010.1 1086.4,979.8 1087.2,1002.8 1087.9,981.2 1088.2,1004.3 1088.7,979.9 1089.1,998 1089.7,979.3 1090.3,997.5 1090.9,981.2 1091.5,995.4 1092.2,985.5 1093,1001.8 1093.6,992.2 1094.1,1021.2 1094.6,991.9 1095.2,1016.4 1096,1005.4 1096.6,1021.4 1097.1,999.5 1097.6,1022 1098,989.7 1098.8,1012.1 1099.3,992.5" fill="none" stroke="#0a0a0a" stroke-width="1.8"/>
</g>
<g clip-path="url(#cE)">
<polyline points="328.2,1250.2 328.4,1252 328.6,1254.2 329,1256.6 329.6,1259.6 330.6,1263.6 331.8,1269.2 333,1274.6 334.1,1279.1 334.9,1280.3 335.6,1280.3 336.2,1280.8 337,1284.9 338.1,1294.3 339.2,1308.8 340.3,1321.8 341.5,1329.3 342.6,1328.7 343.8,1323.6 344.9,1315.9 345.9,1311.1 346.8,1309.1 347.5,1307.8 348.2,1306.7 348.9,1307 349.7,1308.1 350.4,1309.6 351.2,1311.7 351.9,1314.5 352.4,1319.1 352.8,1324.7 353.3,1329 353.9,1329 354.8,1322 355.8,1310.8 356.9,1297.3 357.8,1287.7 358.6,1281 359.3,1276.2 360,1272.8 360.8,1269.8 361.5,1267.5 362.1,1265.4 362.9,1264.6 363.7,1263.6 364.7,1263.3 365.9,1263 367,1263.8 368.2,1266.9 369.3,1272.5 370.4,1280.5 371.5,1289 372.6,1296.7 373.8,1302.9 374.9,1309.5 376.1,1314.3 377.1,1316 377.9,1313.4 378.5,1307.5 379.2,1300.2 380,1293.4 381.1,1287.4 382.2,1279.5 383.4,1273.3 384.5,1269.5 385.3,1268.6 386,1269.6 386.6,1272.4 387.4,1277.4 388.4,1287.6 389.6,1300.9 390.7,1314.2 391.9,1321.6 393,1321.6 394,1316.7 395.1,1308.9 396.3,1302.5 397.8,1295.5 399.4,1288 400.9,1281.4 402.3,1277.3 403.2,1276.9 403.9,1280.5 404.5,1282.8 405.2,1283.4 405.9,1278.6 406.6,1271.6 407.3,1264.3 408.2,1257.6 409.2,1253.4 410.3,1249.1 411.5,1246.9 412.6,1246.3 413.8,1247.6 414.9,1251.7 416.1,1256.6 417.1,1263.6 417.9,1272.3 418.6,1282.8 419.3,1295.2 420,1308.2 420.9,1326.5 421.8,1348.3 422.8,1367.8 423.9,1377.8 425.1,1375.4 426.4,1363.8 427.7,1350.8 428.9,1341.2 430.1,1337.6 431.3,1336.7 432.4,1337.1 433.4,1336.4 434.2,1334.4 434.8,1332.1 435.5,1329.9 436.3,1330.3 437.5,1334.4 439,1341.7 440.4,1347.6 441.7,1351.3 442.6,1350.4 443.3,1347 444.1,1342.9 445.2,1339.7 446.9,1338.7 448.9,1338.1 450.9,1338.1 452.6,1335.2 454,1329.2 455,1320.7 456,1312.4 457.1,1305 458.2,1300.4 459.2,1295.5 460.3,1292.4 461.5,1290.6 462.9,1291.2 464.4,1293.4 465.9,1296.9 467.5,1299.2 469,1303 470.5,1306.5 472,1309.4 473.4,1308 474.6,1302.3 475.7,1293 476.8,1283.4 477.8,1275.4 478.9,1271.6 480.1,1268.7 481.2,1266.6 482.3,1264 483.4,1259.4 484.5,1253.5 485.6,1247.7 486.7,1244.7 487.8,1244.5 488.9,1245.3 490,1247.6 491.2,1247.9 492.6,1246.1 494.2,1243.2 495.8,1239.9 497.1,1236.9 498,1233.9 498.7,1230.3 499.3,1228.6 500.1,1228.5 501.1,1231.5 502.3,1237.3 503.5,1244.1 504.5,1252.2 505.4,1261 506.2,1272.6 506.9,1283.2 507.5,1293.4 507.9,1303.3 508.1,1313.2 508.4,1321.5 509,1326 509.9,1326.2 511,1322.4 512.2,1317.5 513.4,1314.6 514.5,1313.3 515.6,1314.2 516.7,1313.8 517.8,1311.6 519,1304.4 520.2,1295.1 521.3,1285.3 522.3,1278.8 523.1,1276 523.7,1275.5 524.3,1276.6 525.3,1277.5 526.5,1278.1 528,1280 529.6,1282.2 531.2,1283.4 532.6,1283.2 534.1,1282.3 535.5,1280.9 537.1,1280.2 538.9,1279.4 540.8,1278 542.7,1278.1 544.5,1278.4 546.1,1281.6 547.5,1285.7 548.9,1290.2 550.4,1293.8 552.2,1295.5 554.2,1296.4 556.1,1297 557.9,1298.1 559.4,1299.9 560.8,1301.7 562,1303.5 563.2,1303.7 564.1,1302.8 564.9,1299.5 565.7,1296.4 566.7,1293.9 568,1291.6 569.5,1290 571,1288 572.7,1286.1 574.5,1282.7 576.4,1278.8 578.3,1275.2 580.1,1272.8 581.6,1272.5 583,1274.3 584.5,1276 586,1277 587.8,1278.1 589.7,1277.9 591.6,1278.2 593.4,1280.3 594.9,1284.2 596.2,1289.7 597.6,1294.7 599.3,1296.4 601.7,1294.2 604.3,1287.9 607.1,1281.9 609.7,1278.9 612.2,1278.1 614.5,1279.9 616.7,1281.9 618.6,1284.5 620,1287.2 621.1,1290.6 622.1,1293.5 623.1,1296.6 624.2,1298.3 625.3,1299.1 626.4,1300.9 627.5,1302.4 628.7,1305.4 629.8,1310.4 631,1314.1 632,1317.3 632.7,1318.8 633.3,1319 633.8,1319.1 634.4,1320.6 635.1,1323.2 635.8,1326.7 636.6,1330.5 637.4,1334.9 638.4,1340.6 639.5,1347.4 640.7,1353.8 641.9,1358.9 642.9,1361.8 644,1364.2 645.1,1366 646.3,1367.9 647.7,1369.4 649.3,1370.9 650.8,1372.1 652.2,1372.2 653.4,1371.7 654.5,1369.9 655.6,1368.7 656.7,1367.9 657.8,1368.1 658.8,1368.7 659.9,1369.9 661.1,1369 662.5,1367.2 664.1,1363.9 665.6,1360.5 667,1357.5 668.3,1354 669.4,1350.6 670.4,1347.5 671.5,1345.1 672.6,1346.1 673.6,1348.1 674.7,1349.4 675.9,1350.1 677.4,1347.8 678.9,1344.1 680.5,1339.6 681.9,1336.8 683,1333.6 684.1,1331 685.1,1328.9 686.3,1328.9 687.7,1331.4 689.2,1334.3 690.7,1339.3 692.2,1343.7 693.8,1350.5 695.3,1357.9 696.8,1365 698.2,1368.7 699.4,1369.8 700.5,1367.7 701.5,1364.5 702.6,1361.8 703.7,1358.4 704.7,1354.9 705.8,1351.5 707.1,1350 708.5,1349.2 710.1,1350.6 711.7,1352.4 713,1354.1 713.9,1357.7 714.6,1360.9 715.2,1365.9 716,1370.8 717,1377.1 718.1,1384.3 719.3,1390.5 720.4,1394.6 721.5,1393.7 722.6,1389.4 723.7,1384.9 724.8,1382.3 726,1383.2 727.1,1384.9 728.2,1387.8 729.3,1388.4 730.4,1387.4 731.6,1385.6 732.7,1382.8 733.7,1379.4 734.6,1374.6 735.3,1368.1 736,1362.4 736.7,1358.8 737.4,1358.1 738,1359.1 738.7,1361.2 739.7,1361.7 740.9,1360.3 742.4,1358 744,1355.7 745.6,1353.1 747.1,1349.2 748.6,1345.1 750.1,1341.2 751.5,1338 752.7,1335.5 753.9,1333.3 754.9,1331.6 756,1329.3 756.9,1326.3 757.8,1322.7 758.7,1319.5 759.8,1317 761.3,1316.8 763.1,1318.3 764.9,1320.2 766.3,1322 767.5,1324.5 768.4,1327.3 769.2,1330.5 769.9,1332.2 770.5,1332 771,1330.5 771.6,1328.5 772.3,1325.9 773.3,1323.6 774.5,1320.5 775.7,1317.3 776.7,1315.5 777.5,1316.2 778.2,1317.7 778.9,1318.8 779.7,1317.6 780.5,1311.4 781.4,1301.8 782.3,1292.9 783.2,1287.9 784.2,1287.4 785.1,1289.2 786.1,1293.4 787.1,1299.2 788.2,1308.7 789.3,1319.9 790.4,1331.8 791.5,1340.7 792.6,1346.7 793.8,1349.8 794.9,1351.7 796,1352.4 797.1,1352.6 798.1,1351.7 799.2,1349.6 800.4,1349.8 801.8,1352.4 803.4,1356.7 804.9,1360.5 806.3,1361.9 807.6,1358 808.7,1351.3 809.7,1344.6 810.8,1339.5 811.9,1337.5 813,1336.5 814.1,1336.8 815.2,1337.9 816.4,1339.5 817.5,1343.1 818.6,1345.5 819.7,1346.6 820.7,1346.5 821.7,1344.3 822.8,1342.3 824.1,1339.6 825.8,1336.7 827.8,1332.5 829.8,1329.8 831.5,1327.4 832.9,1328.3 833.9,1329.9 834.9,1331.1 836,1331.9 837.1,1331 838.1,1328.1 839.2,1325.1 840.4,1323.3 841.9,1322.1 843.5,1322.5 845.1,1322.4 846.4,1322.1 847.3,1319.1 847.9,1316.4 848.5,1313.6 849.3,1312.7 850.3,1315.2 851.5,1319.9 852.6,1323.8 853.8,1326.3 854.9,1325.1 856,1321.7 857.1,1318.1 858.2,1314.4 859.3,1310.3 860.3,1305.5 861.4,1301.7 862.7,1299.3 864.1,1299.8 865.7,1301.3 867.2,1303.6 868.6,1305.2 869.7,1305.2 870.7,1303.7 871.5,1303.2 872.4,1305.3 873.3,1311.7 874.1,1321.7 875,1330.2 876,1333.6 877.2,1328.5 878.6,1317.8 880,1307.3 881.3,1302.8 882.6,1306.2 883.9,1314.3 885.2,1324.1 886.4,1330.6 887.5,1333.3 888.5,1333.2 889.6,1333.9 890.8,1335.4 892.3,1339 893.9,1344.2 895.4,1348.7 896.7,1351.1 897.7,1350.9 898.4,1348.9 899.1,1346.4 900,1344.3 901.2,1342.8 902.5,1342.4 903.9,1341.8 905.3,1342.1 906.6,1344.8 907.9,1348.7 909.3,1351.9 910.6,1351.9 911.9,1347.2 913.3,1338.8 914.6,1330 915.9,1322.8 917,1320 918,1318 919,1317.4 920.1,1315.5 921.4,1314.1 922.8,1312.8 924.1,1310.7 925.4,1308.5 926.5,1305.1 927.6,1300.1 928.6,1295.1 929.6,1289.1 930.7,1281.2 931.8,1271.9 932.9,1262.5 933.9,1256.6 934.7,1253.6 935.5,1252.2 936.2,1253 937,1254.2 938.1,1257.1 939.2,1260.6 940.3,1265 941.3,1269.9 942.1,1275.3 942.8,1281.5 943.5,1287.8 944.5,1293.2 945.7,1300.1 947,1306.1 948.4,1313.1 949.7,1318.9 950.9,1324.8 952,1331.3 953,1336.5 954,1340.1 954.8,1341.6 955.5,1341.7 956.2,1341.2 957.2,1342.6 958.3,1346.8 959.7,1352.6 961.1,1357.5 962.4,1356.7 963.8,1349.1 965.2,1335.8 966.6,1322 967.7,1312.5 968.6,1308.8 969.3,1307.2 969.9,1308.1 970.9,1310.1 972.3,1315.5 973.8,1322.7 975.5,1330 977.3,1331.7 979.2,1325.9 981.2,1315.7 983.2,1305.2 984.7,1297.5 985.5,1296.4 985.9,1298.2 986.2,1300.8 986.8,1302.3 987.7,1300.8 988.7,1299.1 989.8,1296.8 991,1295.7 992.3,1295.4 993.6,1296.4 995,1297.2 996.3,1295.9 997.6,1290.1 998.8,1281.3 1000.1,1274.5 1001.6,1272.6 1003.5,1279.5 1005.6,1291.7 1007.9,1304.7 1010.1,1310.1 1012.3,1306 1014.6,1294.6 1016.7,1282.9 1018.5,1277.5 1019.9,1281.8 1020.8,1292.3 1021.7,1302.1 1022.8,1306.2 1024.2,1299.4 1025.8,1285.5 1027.5,1273.2 1029.1,1270.1 1030.8,1281.2 1032.4,1300.5 1034,1321.1 1035.5,1335.6 1036.7,1341.1 1037.8,1341 1038.8,1339.2 1039.7,1340 1040.5,1344.4 1041.1,1349.2 1041.6,1354.5 1042.3,1357.4 1042.9,1357 1043.5,1355.8 1044.2,1354 1045,1350.3 1046,1346 1047,1340.3 1048.1,1335.5 1049.2,1332.6 1050.3,1333.3 1051.4,1336.8 1052.4,1341.3 1053.5,1346.5 1054.6,1352.9 1055.7,1362 1056.7,1369.5 1057.7,1373.7 1058.6,1373.8 1059.6,1369.8 1060.3,1365.5 1060.9,1362" fill="none" stroke="#0a0a0a" stroke-width="2.3" stroke-linejoin="round"/>
</g>
</g>
</svg></body></html>
